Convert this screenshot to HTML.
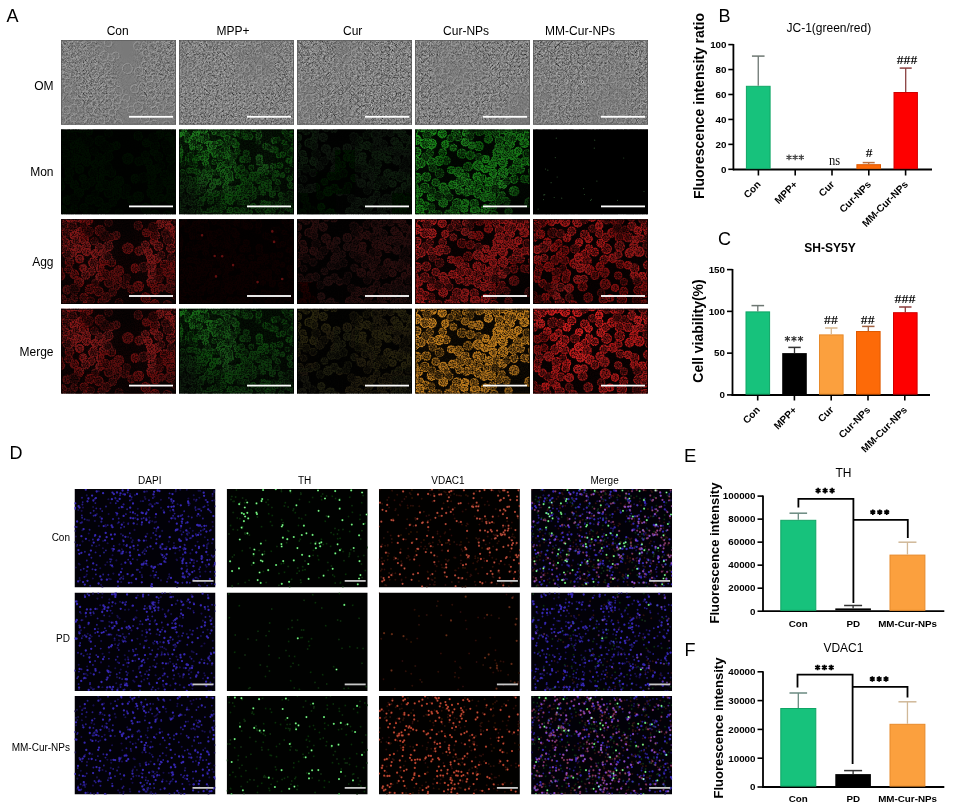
<!DOCTYPE html>
<html><head><meta charset="utf-8"><style>
html,body{margin:0;padding:0;background:#fff;}
svg{display:block;}
svg text{font-family:"Liberation Sans",sans-serif;}
</style></head><body>
<svg width="955" height="811" viewBox="0 0 955 811" font-family="Liberation Sans, sans-serif">
<defs>
<filter id="soft" x="-5%" y="-5%" width="110%" height="110%"><feGaussianBlur stdDeviation="0.7"/></filter>
<filter id="soft2" x="-5%" y="-5%" width="110%" height="110%"><feGaussianBlur stdDeviation="0.45"/></filter>
<filter id="grain" x="0" y="0" width="115" height="85" filterUnits="userSpaceOnUse" color-interpolation-filters="sRGB">
<feGaussianBlur in="SourceGraphic" stdDeviation="0.6" result="b"/>
<feTurbulence type="fractalNoise" baseFrequency="0.45" numOctaves="2" seed="3" result="n"/>
<feColorMatrix in="n" type="matrix" values="0 0 0 0 0  0 0 0 0 0  0 0 0 0 0  3 0 0 0 -1.1" result="na"/>
<feComposite in="b" in2="na" operator="in"/>
</filter>
<filter id="omtex" x="0" y="0" width="115" height="85" filterUnits="userSpaceOnUse" color-interpolation-filters="sRGB">
<feTurbulence type="fractalNoise" baseFrequency="0.55" numOctaves="2" seed="7" result="n"/>
<feColorMatrix in="n" type="matrix" values="1.5 0 0 0 -0.25  1.5 0 0 0 -0.25  1.5 0 0 0 -0.25  0 0 0 0 1" result="g"/>
<feComposite in="g" in2="SourceGraphic" operator="in"/>
<feGaussianBlur stdDeviation="0.35"/>
</filter>
<filter id="bl6" x="-16" y="-16" width="147" height="117" filterUnits="userSpaceOnUse"><feGaussianBlur stdDeviation="6"/></filter><g id="cg00"><circle cx="98.8" cy="5.0" r="3.8"/><circle cx="91.8" cy="55.0" r="4.7"/><circle cx="17.2" cy="29.6" r="3.7"/><circle cx="38.9" cy="57.9" r="3.8"/><circle cx="25.5" cy="32.3" r="4.1"/><circle cx="106.8" cy="52.7" r="4.5"/><circle cx="11.7" cy="33.8" r="3.6"/><circle cx="9.1" cy="-2.3" r="4.9"/><circle cx="-2.5" cy="9.9" r="3.5"/><circle cx="34.5" cy="34.4" r="3.8"/><circle cx="52.0" cy="55.8" r="4.4"/><circle cx="20.0" cy="13.5" r="5.0"/><circle cx="13.3" cy="55.2" r="4.0"/><circle cx="92.9" cy="22.1" r="3.5"/><circle cx="21.4" cy="-0.5" r="3.8"/><circle cx="42.7" cy="41.9" r="4.1"/><circle cx="18.6" cy="39.8" r="3.8"/><circle cx="94.4" cy="70.8" r="3.9"/><circle cx="87.2" cy="32.8" r="3.7"/><circle cx="93.9" cy="85.0" r="4.1"/><circle cx="77.4" cy="67.1" r="4.7"/><circle cx="22.1" cy="48.9" r="3.4"/><circle cx="66.9" cy="29.0" r="5.0"/><circle cx="42.6" cy="33.0" r="4.5"/><circle cx="107.8" cy="7.7" r="3.6"/><circle cx="57.8" cy="51.5" r="4.6"/><circle cx="87.6" cy="86.1" r="4.1"/><circle cx="117.1" cy="41.0" r="3.7"/><circle cx="23.0" cy="19.9" r="4.4"/><circle cx="56.6" cy="60.7" r="3.9"/><circle cx="39.2" cy="49.5" r="3.6"/><circle cx="25.1" cy="87.5" r="4.3"/><circle cx="117.5" cy="24.5" r="4.4"/><circle cx="95.7" cy="39.5" r="3.9"/><circle cx="100.2" cy="68.4" r="3.4"/><circle cx="-0.6" cy="56.6" r="4.1"/><circle cx="90.0" cy="46.5" r="4.7"/><circle cx="18.0" cy="63.2" r="4.4"/><circle cx="74.1" cy="49.2" r="4.0"/><circle cx="89.6" cy="39.2" r="3.8"/><circle cx="113.0" cy="45.5" r="3.6"/><circle cx="27.8" cy="1.4" r="3.7"/><circle cx="-2.3" cy="50.8" r="3.6"/><circle cx="91.0" cy="63.1" r="4.9"/><circle cx="111.1" cy="14.3" r="3.8"/><circle cx="110.8" cy="61.0" r="4.9"/><circle cx="6.1" cy="70.6" r="3.9"/><circle cx="116.8" cy="51.5" r="4.4"/><circle cx="115.0" cy="10.6" r="3.6"/><circle cx="109.4" cy="68.3" r="4.9"/><circle cx="1.1" cy="80.5" r="4.3"/><circle cx="25.7" cy="26.6" r="3.6"/><circle cx="13.1" cy="16.1" r="3.7"/><circle cx="85.4" cy="13.4" r="3.6"/><circle cx="55.2" cy="16.1" r="3.6"/></g><g id="cg01"><circle cx="37.5" cy="72.2" r="4.4"/><circle cx="8.5" cy="42.9" r="4.1"/><circle cx="9.2" cy="25.8" r="4.1"/><circle cx="30.2" cy="52.5" r="3.7"/><circle cx="51.7" cy="72.9" r="3.6"/><circle cx="50.4" cy="43.3" r="4.0"/><circle cx="103.7" cy="45.4" r="4.4"/><circle cx="28.9" cy="70.0" r="4.4"/><circle cx="47.3" cy="27.0" r="4.5"/><circle cx="47.9" cy="63.3" r="4.4"/><circle cx="45.1" cy="78.0" r="4.4"/><circle cx="3.0" cy="23.0" r="4.9"/><circle cx="97.3" cy="59.0" r="4.5"/><circle cx="117.2" cy="17.3" r="4.9"/><circle cx="84.3" cy="25.3" r="3.6"/><circle cx="14.6" cy="21.7" r="3.6"/><circle cx="77.3" cy="6.4" r="4.1"/><circle cx="38.9" cy="11.2" r="4.9"/><circle cx="110.1" cy="29.4" r="4.2"/><circle cx="50.3" cy="18.0" r="3.5"/><circle cx="94.0" cy="16.4" r="4.5"/><circle cx="38.3" cy="27.9" r="3.7"/><circle cx="24.7" cy="56.0" r="3.9"/><circle cx="117.7" cy="1.0" r="4.5"/><circle cx="106.2" cy="-1.4" r="4.7"/><circle cx="78.2" cy="31.9" r="4.1"/><circle cx="15.9" cy="-1.1" r="3.6"/><circle cx="2.4" cy="30.2" r="4.1"/><circle cx="70.6" cy="70.2" r="3.6"/><circle cx="22.9" cy="78.1" r="3.9"/><circle cx="106.4" cy="86.1" r="4.5"/><circle cx="63.6" cy="64.5" r="4.3"/><circle cx="13.0" cy="79.0" r="3.4"/><circle cx="7.7" cy="49.9" r="3.8"/><circle cx="40.8" cy="82.6" r="3.6"/><circle cx="32.2" cy="43.3" r="4.5"/><circle cx="84.7" cy="78.3" r="4.5"/><circle cx="97.4" cy="27.1" r="4.2"/><circle cx="55.5" cy="66.8" r="3.4"/><circle cx="9.0" cy="84.1" r="4.8"/><circle cx="44.3" cy="55.2" r="4.3"/></g><g id="cg02"><circle cx="98.0" cy="52.7" r="3.4"/><circle cx="100.4" cy="35.7" r="3.5"/><circle cx="2.9" cy="6.1" r="3.7"/><circle cx="29.5" cy="81.4" r="3.6"/><circle cx="107.2" cy="20.6" r="4.7"/><circle cx="104.8" cy="14.4" r="4.1"/><circle cx="33.4" cy="21.9" r="3.5"/><circle cx="13.6" cy="69.7" r="5.0"/><circle cx="6.2" cy="35.1" r="4.0"/><circle cx="110.2" cy="38.6" r="3.9"/><circle cx="65.7" cy="58.4" r="3.5"/><circle cx="4.6" cy="14.1" r="3.6"/><circle cx="82.2" cy="47.9" r="4.5"/><circle cx="115.6" cy="75.4" r="4.9"/><circle cx="58.1" cy="83.6" r="3.8"/><circle cx="11.2" cy="7.3" r="4.5"/><circle cx="43.8" cy="16.5" r="4.8"/><circle cx="92.4" cy="8.3" r="4.8"/><circle cx="34.3" cy="63.9" r="3.4"/><circle cx="47.6" cy="3.4" r="3.8"/><circle cx="27.4" cy="12.2" r="4.8"/><circle cx="47.0" cy="37.3" r="3.9"/><circle cx="22.9" cy="6.8" r="3.6"/><circle cx="-0.0" cy="-2.4" r="4.3"/></g><g id="cl0"><use href="#cg00" fill="#a8a8a8" stroke="#ffffff" stroke-width="1.6"/><use href="#cg01" fill="#7a7a7a" stroke="#c8c8c8" stroke-width="1.5"/><use href="#cg02" fill="#525252" stroke="#8c8c8c" stroke-width="1.4"/></g><g id="cga0"><use href="#cg00"/><use href="#cg01"/><use href="#cg02"/></g><filter id="mk0" x="0" y="0" width="115" height="85" filterUnits="userSpaceOnUse" color-interpolation-filters="sRGB"><feGaussianBlur in="SourceGraphic" stdDeviation="0.55" result="s"/><feTurbulence type="fractalNoise" baseFrequency="0.75" numOctaves="1" seed="80" result="t"/><feColorMatrix in="t" type="matrix" values="1.6 0 0 0 -0.3 1.6 0 0 0 -0.3 1.6 0 0 0 -0.3 0 0 0 0 1" result="g"/><feComposite in="s" in2="g" operator="arithmetic" k1="2" k2="0" k3="0" k4="0"/></filter><g id="cg10"><circle cx="15.7" cy="31.3" r="2.3"/><circle cx="49.2" cy="37.5" r="2.2"/><circle cx="51.2" cy="81.1" r="2.8"/><circle cx="51.6" cy="49.3" r="2.6"/><circle cx="60.8" cy="83.2" r="2.5"/><circle cx="57.0" cy="4.3" r="2.2"/><circle cx="26.5" cy="33.3" r="2.4"/><circle cx="36.0" cy="24.4" r="2.9"/><circle cx="89.2" cy="82.7" r="2.7"/><circle cx="-0.4" cy="5.2" r="2.7"/><circle cx="26.0" cy="84.1" r="2.2"/><circle cx="103.5" cy="45.5" r="2.1"/><circle cx="102.3" cy="65.5" r="2.5"/><circle cx="54.6" cy="64.5" r="2.7"/><circle cx="84.3" cy="53.7" r="2.1"/><circle cx="110.6" cy="49.0" r="2.3"/><circle cx="68.4" cy="66.0" r="2.5"/><circle cx="30.2" cy="47.4" r="2.4"/><circle cx="112.1" cy="20.6" r="2.4"/><circle cx="70.6" cy="82.8" r="2.4"/><circle cx="93.4" cy="64.4" r="2.8"/><circle cx="47.5" cy="26.6" r="2.2"/><circle cx="31.7" cy="-2.1" r="2.3"/><circle cx="30.8" cy="61.6" r="2.2"/><circle cx="110.3" cy="78.8" r="2.4"/><circle cx="47.3" cy="52.6" r="2.2"/><circle cx="73.6" cy="45.6" r="2.9"/><circle cx="11.9" cy="55.6" r="2.6"/><circle cx="117.7" cy="41.9" r="2.4"/><circle cx="1.3" cy="25.6" r="2.1"/><circle cx="6.6" cy="50.7" r="2.5"/><circle cx="97.4" cy="77.2" r="2.2"/><circle cx="67.0" cy="7.4" r="2.3"/><circle cx="3.3" cy="57.7" r="2.1"/><circle cx="39.7" cy="52.4" r="2.6"/><circle cx="84.0" cy="73.6" r="2.5"/><circle cx="65.0" cy="50.6" r="2.4"/><circle cx="80.3" cy="28.4" r="2.9"/><circle cx="-2.2" cy="62.6" r="3.0"/><circle cx="38.9" cy="40.4" r="2.0"/><circle cx="100.9" cy="74.9" r="2.9"/><circle cx="26.1" cy="1.4" r="2.1"/><circle cx="114.1" cy="81.4" r="2.5"/><circle cx="109.5" cy="31.0" r="2.1"/><circle cx="86.5" cy="37.7" r="2.4"/><circle cx="10.9" cy="60.5" r="2.9"/><circle cx="89.3" cy="53.3" r="2.9"/><circle cx="53.2" cy="86.0" r="2.7"/><circle cx="35.4" cy="52.6" r="2.8"/><circle cx="46.5" cy="46.6" r="2.1"/><circle cx="63.8" cy="29.8" r="2.9"/><circle cx="89.4" cy="58.5" r="2.9"/><circle cx="3.3" cy="84.0" r="2.9"/><circle cx="2.8" cy="80.8" r="2.2"/><circle cx="21.6" cy="1.2" r="2.2"/><circle cx="68.6" cy="85.8" r="2.4"/><circle cx="16.9" cy="4.7" r="2.9"/><circle cx="48.6" cy="67.3" r="2.9"/><circle cx="20.8" cy="51.2" r="2.4"/><circle cx="13.7" cy="8.5" r="2.0"/><circle cx="97.1" cy="43.8" r="2.7"/><circle cx="89.3" cy="74.8" r="2.6"/><circle cx="74.2" cy="76.4" r="2.3"/><circle cx="-0.1" cy="49.4" r="2.2"/><circle cx="5.1" cy="2.9" r="2.6"/><circle cx="82.2" cy="58.4" r="2.1"/><circle cx="31.1" cy="19.0" r="2.3"/><circle cx="111.9" cy="55.8" r="2.7"/><circle cx="30.5" cy="14.4" r="2.6"/><circle cx="63.8" cy="80.5" r="2.1"/><circle cx="65.1" cy="4.9" r="2.1"/><circle cx="-1.0" cy="77.1" r="2.4"/><circle cx="84.0" cy="63.4" r="2.0"/><circle cx="0.4" cy="64.6" r="2.1"/><circle cx="38.9" cy="86.8" r="2.6"/><circle cx="58.1" cy="85.6" r="2.9"/><circle cx="47.7" cy="71.0" r="2.2"/><circle cx="117.2" cy="7.9" r="2.8"/><circle cx="33.6" cy="56.2" r="2.8"/><circle cx="74.6" cy="-1.4" r="2.9"/><circle cx="10.3" cy="41.0" r="2.3"/><circle cx="113.1" cy="3.8" r="2.4"/><circle cx="81.8" cy="40.9" r="2.8"/><circle cx="51.6" cy="72.1" r="2.5"/><circle cx="65.3" cy="84.6" r="2.1"/><circle cx="25.9" cy="45.9" r="2.3"/><circle cx="38.0" cy="-0.7" r="2.3"/><circle cx="23.5" cy="69.5" r="2.6"/><circle cx="57.9" cy="40.2" r="2.4"/><circle cx="77.4" cy="45.1" r="2.3"/><circle cx="117.9" cy="47.5" r="2.4"/><circle cx="61.2" cy="67.7" r="2.7"/><circle cx="0.8" cy="87.4" r="2.6"/><circle cx="58.6" cy="59.0" r="2.7"/><circle cx="13.4" cy="17.8" r="2.2"/><circle cx="56.9" cy="15.2" r="2.9"/><circle cx="44.1" cy="41.8" r="2.0"/><circle cx="114.3" cy="65.1" r="2.4"/></g><g id="cg11"><circle cx="87.4" cy="42.3" r="2.5"/><circle cx="62.2" cy="0.8" r="2.9"/><circle cx="25.4" cy="42.4" r="2.1"/><circle cx="6.6" cy="82.2" r="2.5"/><circle cx="114.2" cy="85.1" r="2.4"/><circle cx="19.5" cy="84.4" r="2.1"/><circle cx="35.7" cy="1.8" r="2.9"/><circle cx="48.1" cy="8.7" r="2.9"/><circle cx="102.9" cy="71.3" r="2.3"/><circle cx="27.2" cy="50.7" r="2.9"/><circle cx="50.6" cy="44.3" r="3.0"/><circle cx="115.6" cy="74.7" r="2.3"/><circle cx="63.9" cy="73.2" r="2.2"/><circle cx="16.1" cy="55.6" r="2.8"/><circle cx="30.2" cy="87.7" r="2.1"/><circle cx="115.5" cy="15.1" r="2.3"/><circle cx="4.1" cy="73.9" r="2.9"/><circle cx="8.6" cy="10.5" r="2.5"/><circle cx="43.9" cy="4.2" r="2.5"/><circle cx="52.6" cy="29.2" r="2.7"/><circle cx="71.3" cy="50.7" r="2.4"/><circle cx="50.5" cy="23.0" r="2.1"/><circle cx="47.4" cy="61.5" r="3.0"/><circle cx="74.7" cy="66.5" r="2.7"/><circle cx="18.1" cy="73.5" r="3.0"/><circle cx="67.5" cy="73.7" r="2.7"/><circle cx="37.0" cy="64.2" r="2.7"/><circle cx="41.1" cy="35.6" r="2.4"/><circle cx="93.8" cy="82.5" r="2.2"/><circle cx="35.5" cy="87.5" r="2.5"/><circle cx="66.7" cy="62.6" r="2.8"/><circle cx="74.7" cy="59.6" r="2.3"/><circle cx="43.9" cy="76.4" r="2.9"/><circle cx="46.5" cy="57.3" r="2.7"/><circle cx="90.9" cy="78.3" r="2.2"/><circle cx="63.9" cy="47.3" r="2.5"/><circle cx="79.6" cy="6.1" r="2.9"/><circle cx="58.0" cy="-1.6" r="2.7"/><circle cx="80.6" cy="32.7" r="2.9"/><circle cx="18.3" cy="28.3" r="2.4"/><circle cx="30.4" cy="80.8" r="2.2"/><circle cx="31.7" cy="42.8" r="2.8"/><circle cx="40.8" cy="66.0" r="2.2"/><circle cx="71.9" cy="56.0" r="2.2"/><circle cx="113.5" cy="34.4" r="2.2"/><circle cx="54.6" cy="68.7" r="2.4"/><circle cx="62.2" cy="38.1" r="2.8"/><circle cx="101.1" cy="35.8" r="2.5"/><circle cx="22.0" cy="73.2" r="2.8"/><circle cx="48.0" cy="19.2" r="2.4"/><circle cx="21.6" cy="9.4" r="2.6"/><circle cx="-2.6" cy="0.0" r="2.3"/><circle cx="28.6" cy="65.1" r="3.0"/><circle cx="24.9" cy="11.0" r="2.6"/><circle cx="22.2" cy="57.3" r="2.2"/><circle cx="45.0" cy="34.4" r="2.1"/><circle cx="11.8" cy="73.3" r="2.4"/><circle cx="10.3" cy="49.7" r="2.8"/><circle cx="43.8" cy="44.9" r="2.6"/><circle cx="2.2" cy="61.2" r="2.4"/><circle cx="76.2" cy="48.3" r="2.3"/><circle cx="20.2" cy="80.8" r="2.5"/><circle cx="93.1" cy="19.9" r="2.4"/><circle cx="7.9" cy="29.2" r="2.0"/><circle cx="12.6" cy="15.0" r="2.0"/><circle cx="65.4" cy="54.1" r="2.4"/><circle cx="40.5" cy="13.1" r="2.8"/><circle cx="99.6" cy="26.0" r="2.0"/><circle cx="1.5" cy="21.3" r="2.4"/><circle cx="94.9" cy="48.6" r="2.1"/><circle cx="65.6" cy="43.5" r="3.0"/><circle cx="94.2" cy="36.6" r="2.5"/><circle cx="44.8" cy="71.8" r="2.2"/><circle cx="105.3" cy="13.2" r="2.2"/><circle cx="44.7" cy="24.8" r="2.1"/><circle cx="95.0" cy="11.0" r="2.6"/><circle cx="78.7" cy="87.6" r="2.3"/><circle cx="20.1" cy="45.6" r="2.7"/><circle cx="14.3" cy="41.1" r="2.5"/><circle cx="62.8" cy="57.0" r="2.4"/><circle cx="58.8" cy="46.5" r="2.1"/><circle cx="47.8" cy="41.0" r="2.4"/><circle cx="31.7" cy="67.0" r="2.5"/><circle cx="25.1" cy="54.5" r="2.3"/><circle cx="54.2" cy="35.1" r="2.6"/><circle cx="14.5" cy="66.5" r="2.2"/><circle cx="67.4" cy="23.8" r="2.9"/><circle cx="82.4" cy="86.7" r="2.6"/><circle cx="27.1" cy="27.3" r="2.5"/><circle cx="68.7" cy="29.9" r="2.7"/><circle cx="98.8" cy="52.5" r="2.4"/><circle cx="83.0" cy="77.2" r="2.9"/><circle cx="3.5" cy="42.6" r="2.5"/><circle cx="36.5" cy="83.5" r="2.5"/><circle cx="54.7" cy="11.9" r="2.8"/><circle cx="72.2" cy="37.8" r="2.3"/><circle cx="7.3" cy="70.7" r="2.8"/><circle cx="40.7" cy="83.0" r="2.4"/><circle cx="106.8" cy="72.1" r="3.0"/><circle cx="58.6" cy="21.9" r="2.6"/><circle cx="115.9" cy="44.6" r="2.4"/><circle cx="57.5" cy="80.4" r="2.5"/><circle cx="79.5" cy="80.0" r="2.4"/><circle cx="17.3" cy="8.5" r="2.7"/><circle cx="60.9" cy="64.1" r="2.1"/><circle cx="79.4" cy="51.0" r="2.6"/><circle cx="71.6" cy="63.6" r="2.6"/><circle cx="102.3" cy="85.0" r="2.6"/><circle cx="35.2" cy="14.8" r="2.8"/><circle cx="104.1" cy="24.7" r="2.4"/><circle cx="34.0" cy="79.3" r="2.0"/><circle cx="114.8" cy="29.3" r="2.8"/><circle cx="25.1" cy="23.9" r="2.6"/><circle cx="12.9" cy="81.2" r="2.4"/><circle cx="14.7" cy="50.7" r="2.5"/><circle cx="-0.3" cy="30.1" r="2.6"/><circle cx="18.3" cy="42.1" r="2.5"/><circle cx="28.2" cy="22.7" r="2.1"/><circle cx="105.8" cy="78.2" r="2.3"/><circle cx="71.1" cy="7.1" r="2.6"/><circle cx="6.7" cy="-2.2" r="2.3"/><circle cx="105.3" cy="2.2" r="2.2"/><circle cx="96.3" cy="20.2" r="2.6"/><circle cx="7.0" cy="54.0" r="2.6"/><circle cx="51.3" cy="59.8" r="2.5"/><circle cx="86.9" cy="16.8" r="2.9"/><circle cx="117.6" cy="56.9" r="2.8"/><circle cx="23.4" cy="28.4" r="2.0"/><circle cx="20.5" cy="17.8" r="2.5"/><circle cx="19.2" cy="62.3" r="2.6"/><circle cx="31.7" cy="71.5" r="2.8"/><circle cx="34.2" cy="20.7" r="2.9"/></g><g id="cg12"><circle cx="10.9" cy="67.1" r="2.5"/><circle cx="41.6" cy="28.6" r="2.6"/><circle cx="14.3" cy="61.0" r="2.1"/><circle cx="0.1" cy="45.3" r="2.9"/><circle cx="36.9" cy="43.1" r="2.4"/><circle cx="14.8" cy="11.8" r="2.7"/><circle cx="11.5" cy="25.4" r="2.9"/><circle cx="20.7" cy="23.6" r="2.0"/><circle cx="90.4" cy="18.0" r="2.5"/><circle cx="48.7" cy="33.3" r="2.8"/><circle cx="44.5" cy="0.7" r="2.1"/><circle cx="-1.9" cy="24.2" r="2.2"/><circle cx="111.5" cy="24.0" r="3.0"/><circle cx="8.2" cy="6.2" r="2.5"/><circle cx="94.9" cy="73.7" r="2.3"/><circle cx="110.7" cy="64.5" r="2.8"/><circle cx="68.2" cy="57.1" r="2.1"/><circle cx="97.9" cy="59.4" r="2.5"/><circle cx="107.0" cy="66.6" r="2.8"/><circle cx="55.3" cy="26.6" r="2.5"/><circle cx="0.4" cy="17.3" r="2.3"/><circle cx="47.5" cy="-0.8" r="3.0"/><circle cx="11.7" cy="33.2" r="2.7"/><circle cx="79.6" cy="2.0" r="2.4"/><circle cx="54.5" cy="59.7" r="2.4"/><circle cx="39.1" cy="77.0" r="2.9"/><circle cx="35.2" cy="32.3" r="2.3"/><circle cx="-1.6" cy="54.1" r="2.6"/><circle cx="16.3" cy="35.4" r="2.1"/><circle cx="28.9" cy="38.2" r="2.6"/><circle cx="51.5" cy="3.0" r="2.1"/><circle cx="60.1" cy="73.2" r="2.0"/><circle cx="79.7" cy="62.7" r="2.2"/><circle cx="111.5" cy="68.4" r="2.3"/><circle cx="47.9" cy="86.1" r="2.6"/><circle cx="83.2" cy="81.0" r="2.1"/><circle cx="51.1" cy="10.7" r="2.3"/><circle cx="108.0" cy="18.1" r="3.0"/><circle cx="116.8" cy="35.5" r="2.8"/><circle cx="108.0" cy="6.0" r="2.4"/><circle cx="3.9" cy="34.0" r="2.5"/><circle cx="42.9" cy="63.5" r="2.3"/><circle cx="67.4" cy="77.6" r="2.0"/><circle cx="23.9" cy="60.4" r="2.6"/><circle cx="117.8" cy="87.1" r="2.4"/><circle cx="39.0" cy="21.9" r="2.2"/><circle cx="45.7" cy="15.3" r="2.6"/><circle cx="61.6" cy="6.0" r="2.4"/><circle cx="16.5" cy="77.2" r="2.6"/><circle cx="82.8" cy="47.7" r="2.5"/><circle cx="79.2" cy="12.0" r="2.2"/><circle cx="4.2" cy="66.7" r="2.2"/><circle cx="49.1" cy="13.8" r="2.2"/><circle cx="86.5" cy="49.4" r="2.3"/><circle cx="112.1" cy="9.8" r="2.0"/><circle cx="39.8" cy="69.4" r="2.7"/><circle cx="69.2" cy="1.6" r="2.5"/><circle cx="27.3" cy="7.1" r="3.0"/><circle cx="0.6" cy="69.4" r="2.9"/><circle cx="39.5" cy="3.4" r="2.2"/><circle cx="43.3" cy="50.3" r="2.3"/><circle cx="43.5" cy="20.5" r="2.7"/><circle cx="5.0" cy="46.2" r="2.6"/><circle cx="71.4" cy="69.0" r="2.2"/><circle cx="103.2" cy="79.7" r="2.3"/><circle cx="108.6" cy="40.5" r="2.1"/><circle cx="98.8" cy="10.0" r="2.3"/><circle cx="92.9" cy="42.5" r="2.1"/><circle cx="112.4" cy="71.9" r="2.8"/><circle cx="23.8" cy="-1.4" r="2.9"/></g><g id="cl1"><use href="#cg10" fill="#a8a8a8" stroke="#ffffff" stroke-width="1.6"/><use href="#cg11" fill="#7a7a7a" stroke="#c8c8c8" stroke-width="1.5"/><use href="#cg12" fill="#525252" stroke="#8c8c8c" stroke-width="1.4"/></g><g id="cga1"><use href="#cg10"/><use href="#cg11"/><use href="#cg12"/></g><filter id="mk1" x="0" y="0" width="115" height="85" filterUnits="userSpaceOnUse" color-interpolation-filters="sRGB"><feGaussianBlur in="SourceGraphic" stdDeviation="0.55" result="s"/><feTurbulence type="fractalNoise" baseFrequency="0.75" numOctaves="1" seed="81" result="t"/><feColorMatrix in="t" type="matrix" values="1.6 0 0 0 -0.3 1.6 0 0 0 -0.3 1.6 0 0 0 -0.3 0 0 0 0 1" result="g"/><feComposite in="s" in2="g" operator="arithmetic" k1="2" k2="0" k3="0" k4="0"/></filter><g id="cg20"><circle cx="96.6" cy="85.9" r="3.1"/><circle cx="72.5" cy="76.7" r="3.5"/><circle cx="65.6" cy="26.6" r="3.2"/><circle cx="93.5" cy="21.1" r="3.7"/><circle cx="24.2" cy="77.3" r="3.4"/><circle cx="-2.2" cy="-2.4" r="4.0"/><circle cx="99.6" cy="31.3" r="3.5"/><circle cx="16.6" cy="10.3" r="3.2"/><circle cx="17.9" cy="-0.3" r="3.9"/><circle cx="79.3" cy="25.6" r="4.0"/><circle cx="105.1" cy="4.4" r="3.8"/><circle cx="110.4" cy="26.3" r="3.2"/><circle cx="107.6" cy="56.5" r="3.0"/><circle cx="97.7" cy="11.8" r="3.6"/><circle cx="85.6" cy="20.3" r="4.1"/><circle cx="73.6" cy="55.4" r="3.2"/><circle cx="50.0" cy="27.9" r="3.4"/><circle cx="0.4" cy="16.7" r="3.2"/><circle cx="75.9" cy="47.5" r="3.5"/><circle cx="64.3" cy="53.6" r="4.0"/><circle cx="7.2" cy="30.4" r="3.3"/><circle cx="29.0" cy="19.3" r="4.1"/><circle cx="29.0" cy="-1.5" r="3.1"/><circle cx="87.6" cy="86.7" r="4.1"/><circle cx="90.9" cy="29.9" r="3.1"/><circle cx="55.8" cy="28.3" r="3.8"/><circle cx="61.8" cy="83.8" r="4.1"/><circle cx="100.5" cy="0.2" r="3.2"/><circle cx="95.5" cy="53.9" r="3.3"/><circle cx="18.8" cy="5.7" r="3.0"/><circle cx="113.9" cy="52.4" r="3.7"/><circle cx="1.0" cy="7.8" r="3.2"/><circle cx="104.8" cy="43.1" r="3.2"/><circle cx="50.2" cy="18.7" r="4.1"/><circle cx="16.8" cy="31.6" r="3.8"/><circle cx="3.8" cy="-1.4" r="3.0"/><circle cx="6.7" cy="63.6" r="3.4"/><circle cx="84.0" cy="79.5" r="3.3"/><circle cx="104.4" cy="21.0" r="3.6"/><circle cx="75.2" cy="70.3" r="3.4"/><circle cx="101.5" cy="83.8" r="4.1"/><circle cx="52.8" cy="82.0" r="3.9"/><circle cx="36.7" cy="-0.6" r="3.1"/><circle cx="89.8" cy="76.5" r="3.5"/><circle cx="39.6" cy="21.6" r="3.3"/><circle cx="33.3" cy="26.2" r="3.4"/><circle cx="97.6" cy="45.5" r="3.2"/><circle cx="109.0" cy="46.5" r="3.2"/><circle cx="7.7" cy="69.5" r="3.7"/><circle cx="64.8" cy="32.0" r="3.7"/><circle cx="91.0" cy="43.7" r="3.8"/><circle cx="38.1" cy="39.6" r="4.0"/><circle cx="114.5" cy="10.3" r="3.5"/><circle cx="69.7" cy="15.9" r="3.7"/><circle cx="110.7" cy="21.6" r="3.2"/><circle cx="60.4" cy="72.2" r="4.1"/><circle cx="62.1" cy="17.6" r="3.5"/><circle cx="5.1" cy="83.7" r="3.9"/><circle cx="33.7" cy="83.2" r="4.0"/><circle cx="26.2" cy="7.7" r="3.8"/><circle cx="106.2" cy="80.6" r="3.1"/><circle cx="85.3" cy="27.1" r="3.0"/><circle cx="31.1" cy="62.0" r="4.2"/><circle cx="101.3" cy="16.3" r="4.1"/><circle cx="80.5" cy="10.3" r="4.1"/></g><g id="cg21"><circle cx="89.6" cy="68.9" r="4.1"/><circle cx="97.7" cy="72.1" r="4.2"/><circle cx="95.9" cy="78.8" r="3.1"/><circle cx="79.7" cy="65.0" r="3.0"/><circle cx="113.5" cy="17.3" r="3.8"/><circle cx="85.7" cy="3.6" r="3.1"/><circle cx="5.9" cy="24.4" r="3.2"/><circle cx="68.1" cy="44.9" r="3.6"/><circle cx="110.5" cy="84.7" r="3.9"/><circle cx="75.9" cy="18.3" r="3.9"/><circle cx="78.0" cy="4.8" r="3.9"/><circle cx="79.2" cy="41.3" r="3.7"/><circle cx="-1.8" cy="21.6" r="3.7"/><circle cx="26.1" cy="84.6" r="3.3"/><circle cx="11.9" cy="13.5" r="4.0"/><circle cx="37.5" cy="58.8" r="4.0"/><circle cx="17.1" cy="16.3" r="3.6"/><circle cx="13.0" cy="58.9" r="4.0"/><circle cx="86.3" cy="14.4" r="3.6"/><circle cx="38.8" cy="30.8" r="4.0"/><circle cx="34.4" cy="46.4" r="3.9"/><circle cx="42.5" cy="62.8" r="3.0"/><circle cx="9.3" cy="1.5" r="3.4"/><circle cx="58.6" cy="23.5" r="3.6"/><circle cx="80.7" cy="34.7" r="3.7"/><circle cx="84.3" cy="71.7" r="3.1"/><circle cx="108.6" cy="9.3" r="3.9"/><circle cx="100.1" cy="24.1" r="3.4"/><circle cx="93.5" cy="2.8" r="3.8"/><circle cx="97.4" cy="65.1" r="3.3"/><circle cx="27.4" cy="52.2" r="3.1"/><circle cx="-0.7" cy="44.2" r="4.0"/><circle cx="-2.7" cy="27.8" r="3.9"/><circle cx="116.6" cy="41.7" r="3.0"/><circle cx="70.8" cy="82.3" r="3.4"/><circle cx="108.0" cy="74.6" r="3.2"/><circle cx="103.1" cy="48.0" r="3.9"/><circle cx="19.0" cy="57.7" r="3.6"/><circle cx="9.9" cy="76.1" r="3.3"/><circle cx="103.6" cy="68.7" r="4.2"/><circle cx="57.4" cy="48.5" r="3.3"/><circle cx="22.8" cy="36.1" r="4.0"/><circle cx="67.7" cy="72.7" r="3.9"/><circle cx="87.5" cy="49.9" r="3.8"/><circle cx="72.5" cy="40.9" r="3.6"/><circle cx="102.0" cy="62.0" r="3.5"/><circle cx="79.2" cy="57.0" r="3.2"/><circle cx="39.4" cy="87.0" r="3.2"/><circle cx="2.7" cy="58.6" r="3.6"/><circle cx="110.8" cy="70.0" r="3.3"/><circle cx="57.5" cy="76.7" r="3.1"/><circle cx="45.3" cy="35.1" r="3.0"/><circle cx="62.2" cy="10.6" r="3.2"/><circle cx="56.6" cy="34.9" r="3.6"/><circle cx="68.0" cy="37.7" r="3.7"/><circle cx="2.2" cy="36.7" r="3.5"/></g><g id="cg22"><circle cx="6.7" cy="49.3" r="3.1"/><circle cx="9.0" cy="39.2" r="3.9"/><circle cx="86.8" cy="55.8" r="3.6"/><circle cx="51.0" cy="56.4" r="3.4"/><circle cx="106.3" cy="37.2" r="3.6"/><circle cx="23.3" cy="65.9" r="3.7"/><circle cx="81.5" cy="50.1" r="3.0"/><circle cx="16.2" cy="43.1" r="3.5"/><circle cx="109.7" cy="31.8" r="4.1"/><circle cx="70.5" cy="60.8" r="3.8"/><circle cx="58.3" cy="13.9" r="3.5"/><circle cx="78.0" cy="86.1" r="4.1"/><circle cx="110.2" cy="41.5" r="3.3"/><circle cx="72.1" cy="-2.5" r="3.9"/><circle cx="54.7" cy="69.2" r="3.8"/><circle cx="56.9" cy="7.3" r="4.2"/><circle cx="1.2" cy="67.8" r="3.4"/><circle cx="19.2" cy="24.7" r="4.2"/><circle cx="40.6" cy="46.9" r="3.1"/><circle cx="27.0" cy="31.4" r="4.0"/><circle cx="15.5" cy="80.6" r="3.4"/><circle cx="48.9" cy="61.5" r="3.6"/><circle cx="75.6" cy="33.5" r="3.3"/><circle cx="111.8" cy="60.9" r="3.5"/><circle cx="69.5" cy="5.6" r="3.5"/><circle cx="61.4" cy="39.0" r="3.9"/><circle cx="46.4" cy="43.7" r="3.9"/><circle cx="112.7" cy="76.9" r="3.6"/><circle cx="115.1" cy="29.4" r="3.4"/></g><g id="cl2"><use href="#cg20" fill="#a8a8a8" stroke="#ffffff" stroke-width="1.6"/><use href="#cg21" fill="#7a7a7a" stroke="#c8c8c8" stroke-width="1.5"/><use href="#cg22" fill="#525252" stroke="#8c8c8c" stroke-width="1.4"/></g><g id="cga2"><use href="#cg20"/><use href="#cg21"/><use href="#cg22"/></g><filter id="mk2" x="0" y="0" width="115" height="85" filterUnits="userSpaceOnUse" color-interpolation-filters="sRGB"><feGaussianBlur in="SourceGraphic" stdDeviation="0.55" result="s"/><feTurbulence type="fractalNoise" baseFrequency="0.75" numOctaves="1" seed="82" result="t"/><feColorMatrix in="t" type="matrix" values="1.6 0 0 0 -0.3 1.6 0 0 0 -0.3 1.6 0 0 0 -0.3 0 0 0 0 1" result="g"/><feComposite in="s" in2="g" operator="arithmetic" k1="2" k2="0" k3="0" k4="0"/></filter><g id="cg30"><circle cx="27.2" cy="4.1" r="3.9"/><circle cx="16.5" cy="67.2" r="4.0"/><circle cx="78.0" cy="43.0" r="3.7"/><circle cx="69.0" cy="67.5" r="3.9"/><circle cx="1.6" cy="48.1" r="4.5"/><circle cx="16.6" cy="14.1" r="4.4"/><circle cx="7.3" cy="-2.7" r="4.5"/><circle cx="81.5" cy="23.0" r="3.7"/><circle cx="74.1" cy="52.1" r="3.9"/><circle cx="28.2" cy="57.8" r="4.0"/><circle cx="24.2" cy="31.2" r="4.5"/><circle cx="3.5" cy="63.1" r="3.7"/><circle cx="90.4" cy="25.5" r="4.2"/><circle cx="73.3" cy="9.5" r="3.8"/><circle cx="7.5" cy="86.7" r="3.3"/><circle cx="-0.0" cy="75.2" r="4.1"/><circle cx="70.5" cy="79.4" r="4.0"/><circle cx="60.1" cy="81.0" r="4.5"/><circle cx="88.1" cy="33.1" r="4.2"/><circle cx="-0.8" cy="57.5" r="3.8"/><circle cx="87.7" cy="54.9" r="3.9"/><circle cx="57.0" cy="16.0" r="3.3"/><circle cx="70.2" cy="39.4" r="3.3"/><circle cx="99.1" cy="61.6" r="4.5"/><circle cx="37.8" cy="55.2" r="3.7"/><circle cx="1.5" cy="10.3" r="4.3"/><circle cx="93.5" cy="81.9" r="3.3"/><circle cx="43.6" cy="42.2" r="4.6"/><circle cx="103.2" cy="21.5" r="3.5"/><circle cx="63.1" cy="35.8" r="4.5"/><circle cx="115.2" cy="31.1" r="4.5"/><circle cx="28.2" cy="73.2" r="4.2"/><circle cx="50.1" cy="12.5" r="3.5"/><circle cx="62.3" cy="47.1" r="4.1"/><circle cx="51.0" cy="3.3" r="3.3"/><circle cx="94.9" cy="14.1" r="4.3"/><circle cx="49.4" cy="79.1" r="3.3"/><circle cx="76.0" cy="67.0" r="4.2"/><circle cx="73.0" cy="2.1" r="3.9"/><circle cx="40.9" cy="86.0" r="4.0"/><circle cx="70.8" cy="29.6" r="3.3"/><circle cx="63.7" cy="16.5" r="4.2"/><circle cx="105.5" cy="7.3" r="3.4"/><circle cx="98.0" cy="25.3" r="4.5"/><circle cx="-1.1" cy="27.9" r="4.4"/><circle cx="114.2" cy="73.0" r="4.2"/><circle cx="88.1" cy="42.8" r="4.6"/><circle cx="92.9" cy="2.6" r="3.5"/><circle cx="109.4" cy="13.5" r="4.1"/><circle cx="80.8" cy="30.1" r="3.9"/><circle cx="5.0" cy="79.9" r="3.7"/><circle cx="36.2" cy="40.4" r="3.2"/><circle cx="50.3" cy="73.3" r="3.4"/><circle cx="-2.7" cy="83.4" r="3.3"/><circle cx="84.7" cy="17.6" r="4.5"/><circle cx="17.5" cy="1.5" r="3.8"/><circle cx="77.4" cy="34.8" r="3.8"/><circle cx="-0.8" cy="69.1" r="3.4"/><circle cx="30.3" cy="14.7" r="3.4"/></g><g id="cg31"><circle cx="91.7" cy="18.9" r="3.8"/><circle cx="99.6" cy="1.2" r="3.4"/><circle cx="64.5" cy="1.3" r="4.4"/><circle cx="51.7" cy="62.3" r="3.9"/><circle cx="1.8" cy="22.3" r="4.1"/><circle cx="67.6" cy="48.6" r="3.3"/><circle cx="92.2" cy="8.5" r="3.2"/><circle cx="99.0" cy="49.8" r="3.8"/><circle cx="10.8" cy="76.3" r="3.7"/><circle cx="57.2" cy="61.3" r="3.3"/><circle cx="109.2" cy="49.4" r="3.6"/><circle cx="17.6" cy="84.6" r="4.3"/><circle cx="46.8" cy="24.1" r="4.4"/><circle cx="87.6" cy="0.2" r="3.6"/><circle cx="15.8" cy="32.0" r="3.9"/><circle cx="98.4" cy="40.1" r="4.4"/><circle cx="33.0" cy="83.8" r="3.2"/><circle cx="42.4" cy="73.5" r="4.4"/><circle cx="45.6" cy="52.4" r="4.6"/><circle cx="112.5" cy="4.9" r="3.6"/><circle cx="9.8" cy="58.1" r="4.4"/><circle cx="9.9" cy="14.0" r="4.4"/><circle cx="55.4" cy="25.6" r="4.0"/><circle cx="81.5" cy="4.3" r="3.4"/><circle cx="5.6" cy="33.4" r="4.5"/><circle cx="38.3" cy="18.0" r="3.2"/><circle cx="102.8" cy="33.7" r="4.6"/><circle cx="79.1" cy="85.4" r="3.9"/><circle cx="80.7" cy="50.7" r="4.1"/><circle cx="66.3" cy="85.4" r="3.5"/><circle cx="62.8" cy="55.1" r="4.4"/><circle cx="59.1" cy="74.1" r="4.0"/><circle cx="91.4" cy="71.6" r="3.5"/><circle cx="31.3" cy="30.8" r="3.7"/><circle cx="31.4" cy="62.2" r="3.2"/><circle cx="11.3" cy="47.3" r="4.2"/><circle cx="20.7" cy="52.9" r="3.6"/><circle cx="-1.3" cy="1.5" r="4.1"/><circle cx="4.9" cy="72.7" r="3.3"/><circle cx="83.7" cy="70.9" r="3.6"/><circle cx="39.6" cy="79.3" r="4.2"/><circle cx="115.2" cy="49.7" r="4.2"/><circle cx="86.7" cy="65.5" r="3.2"/><circle cx="84.3" cy="10.8" r="3.9"/><circle cx="44.2" cy="61.1" r="3.3"/><circle cx="117.6" cy="41.8" r="3.9"/><circle cx="27.8" cy="22.7" r="3.5"/><circle cx="53.1" cy="37.0" r="4.2"/><circle cx="105.4" cy="39.8" r="3.7"/><circle cx="50.8" cy="46.9" r="3.2"/><circle cx="-0.2" cy="36.9" r="3.6"/><circle cx="54.0" cy="53.5" r="3.7"/><circle cx="112.4" cy="-1.3" r="4.4"/><circle cx="40.9" cy="3.0" r="3.9"/><circle cx="77.4" cy="77.2" r="3.8"/><circle cx="109.1" cy="31.8" r="3.5"/><circle cx="71.8" cy="58.9" r="3.5"/><circle cx="63.0" cy="64.4" r="3.8"/><circle cx="97.8" cy="8.6" r="3.9"/></g><g id="cg32"><circle cx="23.4" cy="84.4" r="3.2"/><circle cx="112.2" cy="24.5" r="4.2"/><circle cx="35.5" cy="8.6" r="3.3"/><circle cx="17.7" cy="38.3" r="3.6"/><circle cx="43.0" cy="8.0" r="3.3"/><circle cx="12.1" cy="5.2" r="4.1"/><circle cx="14.8" cy="23.1" r="3.5"/><circle cx="50.9" cy="87.7" r="3.9"/><circle cx="80.1" cy="59.2" r="4.4"/><circle cx="77.5" cy="-1.7" r="3.6"/><circle cx="16.8" cy="61.3" r="3.6"/><circle cx="16.1" cy="77.8" r="3.6"/><circle cx="23.3" cy="66.3" r="4.4"/><circle cx="54.8" cy="6.9" r="3.8"/><circle cx="117.7" cy="14.7" r="3.2"/><circle cx="91.7" cy="51.2" r="3.4"/><circle cx="104.5" cy="0.5" r="3.3"/><circle cx="63.7" cy="27.5" r="3.5"/><circle cx="10.6" cy="27.4" r="3.8"/><circle cx="34.1" cy="67.5" r="3.9"/><circle cx="24.5" cy="43.6" r="4.2"/><circle cx="57.0" cy="-0.0" r="4.3"/></g><g id="cl3"><use href="#cg30" fill="#a8a8a8" stroke="#ffffff" stroke-width="1.6"/><use href="#cg31" fill="#7a7a7a" stroke="#c8c8c8" stroke-width="1.5"/><use href="#cg32" fill="#525252" stroke="#8c8c8c" stroke-width="1.4"/></g><g id="cga3"><use href="#cg30"/><use href="#cg31"/><use href="#cg32"/></g><filter id="mk3" x="0" y="0" width="115" height="85" filterUnits="userSpaceOnUse" color-interpolation-filters="sRGB"><feGaussianBlur in="SourceGraphic" stdDeviation="0.55" result="s"/><feTurbulence type="fractalNoise" baseFrequency="0.75" numOctaves="1" seed="83" result="t"/><feColorMatrix in="t" type="matrix" values="1.6 0 0 0 -0.3 1.6 0 0 0 -0.3 1.6 0 0 0 -0.3 0 0 0 0 1" result="g"/><feComposite in="s" in2="g" operator="arithmetic" k1="2" k2="0" k3="0" k4="0"/></filter><g id="cg40"><circle cx="27.1" cy="35.5" r="3.5"/><circle cx="44.7" cy="60.4" r="3.8"/><circle cx="88.9" cy="87.7" r="4.7"/><circle cx="33.8" cy="54.1" r="3.6"/><circle cx="66.2" cy="6.4" r="3.5"/><circle cx="67.7" cy="23.9" r="3.6"/><circle cx="112.1" cy="85.1" r="4.1"/><circle cx="12.3" cy="77.9" r="3.3"/><circle cx="109.2" cy="56.9" r="3.3"/><circle cx="36.3" cy="68.9" r="3.9"/><circle cx="106.3" cy="32.5" r="4.6"/><circle cx="66.9" cy="47.5" r="3.8"/><circle cx="46.1" cy="23.3" r="3.4"/><circle cx="-1.4" cy="29.4" r="3.5"/><circle cx="7.5" cy="15.0" r="4.0"/><circle cx="24.1" cy="0.2" r="3.6"/><circle cx="41.5" cy="44.2" r="4.4"/><circle cx="102.7" cy="20.5" r="3.5"/><circle cx="20.6" cy="28.5" r="3.3"/><circle cx="59.1" cy="-2.7" r="4.4"/><circle cx="15.9" cy="47.6" r="4.4"/><circle cx="21.1" cy="66.5" r="4.0"/><circle cx="71.3" cy="53.1" r="4.6"/><circle cx="4.4" cy="30.4" r="3.5"/><circle cx="56.7" cy="50.8" r="4.3"/><circle cx="32.0" cy="2.6" r="4.5"/><circle cx="2.7" cy="-2.9" r="4.2"/><circle cx="78.9" cy="13.7" r="4.1"/><circle cx="70.2" cy="80.3" r="3.9"/><circle cx="47.6" cy="49.0" r="3.9"/><circle cx="96.5" cy="33.8" r="4.1"/><circle cx="81.0" cy="0.8" r="3.7"/><circle cx="4.3" cy="40.6" r="3.9"/><circle cx="33.9" cy="18.7" r="3.6"/><circle cx="44.7" cy="2.7" r="4.7"/><circle cx="81.9" cy="68.7" r="3.4"/><circle cx="18.5" cy="2.8" r="3.4"/><circle cx="116.1" cy="12.4" r="4.6"/><circle cx="55.6" cy="19.8" r="3.4"/><circle cx="23.2" cy="59.3" r="3.3"/><circle cx="45.4" cy="38.0" r="3.7"/><circle cx="101.2" cy="56.0" r="3.6"/><circle cx="72.2" cy="64.9" r="4.7"/><circle cx="95.1" cy="46.0" r="3.5"/><circle cx="14.3" cy="22.6" r="3.6"/><circle cx="23.5" cy="77.1" r="3.3"/><circle cx="77.1" cy="78.9" r="3.3"/><circle cx="3.4" cy="59.2" r="3.5"/><circle cx="101.0" cy="26.5" r="3.8"/><circle cx="79.9" cy="39.1" r="4.1"/><circle cx="104.6" cy="11.3" r="3.5"/><circle cx="112.3" cy="68.4" r="4.3"/></g><g id="cg41"><circle cx="73.6" cy="29.6" r="4.7"/><circle cx="23.6" cy="53.3" r="4.3"/><circle cx="38.8" cy="11.9" r="3.9"/><circle cx="90.7" cy="72.3" r="3.9"/><circle cx="31.6" cy="31.3" r="4.3"/><circle cx="52.2" cy="34.7" r="4.0"/><circle cx="101.6" cy="49.3" r="4.2"/><circle cx="95.1" cy="17.9" r="4.5"/><circle cx="31.7" cy="41.2" r="4.0"/><circle cx="55.9" cy="28.8" r="3.3"/><circle cx="25.6" cy="23.9" r="3.4"/><circle cx="55.2" cy="78.5" r="4.4"/><circle cx="49.5" cy="67.4" r="4.3"/><circle cx="88.8" cy="80.2" r="4.5"/><circle cx="6.4" cy="48.4" r="3.8"/><circle cx="53.5" cy="41.6" r="4.7"/><circle cx="10.9" cy="28.2" r="4.7"/><circle cx="85.2" cy="35.2" r="3.6"/><circle cx="107.7" cy="19.0" r="3.3"/><circle cx="86.6" cy="18.2" r="4.4"/><circle cx="32.7" cy="59.6" r="3.7"/><circle cx="9.5" cy="64.1" r="3.6"/><circle cx="9.1" cy="3.6" r="4.2"/><circle cx="51.7" cy="15.3" r="4.1"/><circle cx="118.0" cy="53.3" r="4.3"/><circle cx="87.2" cy="45.1" r="3.8"/><circle cx="86.7" cy="27.1" r="4.6"/><circle cx="3.2" cy="7.4" r="4.4"/><circle cx="61.5" cy="32.8" r="3.7"/><circle cx="98.8" cy="7.0" r="4.0"/><circle cx="111.7" cy="7.3" r="3.5"/><circle cx="22.0" cy="40.8" r="4.5"/><circle cx="72.7" cy="18.1" r="4.0"/><circle cx="0.8" cy="18.5" r="3.6"/><circle cx="15.9" cy="-2.8" r="3.9"/><circle cx="114.6" cy="45.8" r="3.8"/><circle cx="67.5" cy="-1.1" r="3.3"/><circle cx="40.1" cy="85.9" r="4.2"/><circle cx="27.6" cy="68.0" r="3.9"/><circle cx="113.6" cy="62.0" r="3.3"/><circle cx="104.9" cy="70.9" r="3.9"/><circle cx="71.2" cy="40.4" r="4.0"/><circle cx="85.2" cy="56.4" r="3.5"/><circle cx="11.3" cy="38.9" r="3.5"/><circle cx="-2.4" cy="41.4" r="4.3"/><circle cx="26.7" cy="83.0" r="4.5"/><circle cx="4.5" cy="53.8" r="3.7"/><circle cx="62.0" cy="56.2" r="3.9"/><circle cx="111.8" cy="74.5" r="3.6"/><circle cx="51.0" cy="59.8" r="3.5"/><circle cx="19.4" cy="73.4" r="3.8"/><circle cx="86.8" cy="0.9" r="3.9"/><circle cx="66.4" cy="14.2" r="3.8"/></g><g id="cg42"><circle cx="36.2" cy="78.4" r="3.8"/><circle cx="42.1" cy="29.6" r="4.3"/><circle cx="104.2" cy="61.8" r="4.1"/><circle cx="74.0" cy="0.9" r="3.7"/><circle cx="-2.3" cy="84.5" r="3.8"/><circle cx="104.1" cy="81.0" r="4.6"/><circle cx="51.0" cy="0.1" r="4.2"/><circle cx="19.7" cy="13.6" r="4.7"/><circle cx="98.5" cy="-1.9" r="3.9"/><circle cx="114.4" cy="25.3" r="4.4"/><circle cx="116.7" cy="3.4" r="4.8"/><circle cx="59.4" cy="9.4" r="3.5"/><circle cx="110.0" cy="-0.3" r="4.4"/><circle cx="30.0" cy="49.4" r="3.4"/><circle cx="91.0" cy="62.6" r="3.4"/><circle cx="0.4" cy="76.1" r="3.4"/><circle cx="114.2" cy="18.6" r="3.9"/><circle cx="27.3" cy="14.5" r="4.0"/><circle cx="14.7" cy="67.8" r="3.9"/><circle cx="14.4" cy="84.5" r="3.5"/><circle cx="116.4" cy="34.7" r="4.1"/><circle cx="84.4" cy="8.8" r="4.3"/><circle cx="91.9" cy="10.5" r="3.5"/><circle cx="68.1" cy="73.5" r="3.6"/><circle cx="5.3" cy="80.2" r="3.9"/></g><g id="cl4"><use href="#cg40" fill="#a8a8a8" stroke="#ffffff" stroke-width="1.6"/><use href="#cg41" fill="#7a7a7a" stroke="#c8c8c8" stroke-width="1.5"/><use href="#cg42" fill="#525252" stroke="#8c8c8c" stroke-width="1.4"/></g><g id="cga4"><use href="#cg40"/><use href="#cg41"/><use href="#cg42"/></g><filter id="mk4" x="0" y="0" width="115" height="85" filterUnits="userSpaceOnUse" color-interpolation-filters="sRGB"><feGaussianBlur in="SourceGraphic" stdDeviation="0.55" result="s"/><feTurbulence type="fractalNoise" baseFrequency="0.75" numOctaves="1" seed="84" result="t"/><feColorMatrix in="t" type="matrix" values="1.6 0 0 0 -0.3 1.6 0 0 0 -0.3 1.6 0 0 0 -0.3 0 0 0 0 1" result="g"/><feComposite in="s" in2="g" operator="arithmetic" k1="2" k2="0" k3="0" k4="0"/></filter><filter id="om0" x="-16" y="-16" width="147" height="117" filterUnits="userSpaceOnUse" color-interpolation-filters="sRGB"><feGaussianBlur in="SourceGraphic" stdDeviation="5.0" result="A"/><feTurbulence type="turbulence" baseFrequency="0.13" numOctaves="2" seed="20" result="n0"/><feColorMatrix in="n0" type="matrix" values="1 0 0 0 0 1 0 0 0 0 1 0 0 0 0 0 0 0 0 1" result="n"/><feConvolveMatrix in="n" order="3" kernelMatrix="0 -1 0 -1 4 -1 0 -1 0" divisor="1.4" bias="0.5" preserveAlpha="true" result="e0"/><feTurbulence type="fractalNoise" baseFrequency="0.9" numOctaves="1" seed="29" result="f1"/><feColorMatrix in="f1" type="matrix" values="1 0 0 0 0 1 0 0 0 0 1 0 0 0 0 0 0 0 0 1" result="f0"/><feComposite in="e0" in2="f0" operator="arithmetic" k1="0" k2="0.7" k3="0.8" k4="-0.25" result="e"/><feComposite in="e" in2="A" operator="arithmetic" k1="0.85" k2="0" k3="-0.425" k4="0.475"/><feComponentTransfer><feFuncR type="linear" slope="0.9000"/><feFuncG type="linear" slope="0.9000"/><feFuncB type="linear" slope="0.9000"/><feFuncA type="linear" slope="0" intercept="1"/></feComponentTransfer></filter><filter id="om1" x="-16" y="-16" width="147" height="117" filterUnits="userSpaceOnUse" color-interpolation-filters="sRGB"><feGaussianBlur in="SourceGraphic" stdDeviation="5.0" result="A"/><feTurbulence type="turbulence" baseFrequency="0.13" numOctaves="2" seed="21" result="n0"/><feColorMatrix in="n0" type="matrix" values="1 0 0 0 0 1 0 0 0 0 1 0 0 0 0 0 0 0 0 1" result="n"/><feConvolveMatrix in="n" order="3" kernelMatrix="0 -1 0 -1 4 -1 0 -1 0" divisor="1.4" bias="0.5" preserveAlpha="true" result="e0"/><feTurbulence type="fractalNoise" baseFrequency="0.9" numOctaves="1" seed="30" result="f1"/><feColorMatrix in="f1" type="matrix" values="1 0 0 0 0 1 0 0 0 0 1 0 0 0 0 0 0 0 0 1" result="f0"/><feComposite in="e0" in2="f0" operator="arithmetic" k1="0" k2="0.7" k3="0.8" k4="-0.25" result="e"/><feComposite in="e" in2="A" operator="arithmetic" k1="0.85" k2="0" k3="-0.425" k4="0.475"/><feComponentTransfer><feFuncR type="linear" slope="0.9000"/><feFuncG type="linear" slope="0.9000"/><feFuncB type="linear" slope="0.9000"/><feFuncA type="linear" slope="0" intercept="1"/></feComponentTransfer></filter><filter id="om2" x="-16" y="-16" width="147" height="117" filterUnits="userSpaceOnUse" color-interpolation-filters="sRGB"><feGaussianBlur in="SourceGraphic" stdDeviation="5.0" result="A"/><feTurbulence type="turbulence" baseFrequency="0.13" numOctaves="2" seed="22" result="n0"/><feColorMatrix in="n0" type="matrix" values="1 0 0 0 0 1 0 0 0 0 1 0 0 0 0 0 0 0 0 1" result="n"/><feConvolveMatrix in="n" order="3" kernelMatrix="0 -1 0 -1 4 -1 0 -1 0" divisor="1.4" bias="0.5" preserveAlpha="true" result="e0"/><feTurbulence type="fractalNoise" baseFrequency="0.9" numOctaves="1" seed="31" result="f1"/><feColorMatrix in="f1" type="matrix" values="1 0 0 0 0 1 0 0 0 0 1 0 0 0 0 0 0 0 0 1" result="f0"/><feComposite in="e0" in2="f0" operator="arithmetic" k1="0" k2="0.7" k3="0.8" k4="-0.25" result="e"/><feComposite in="e" in2="A" operator="arithmetic" k1="0.85" k2="0" k3="-0.425" k4="0.475"/><feComponentTransfer><feFuncR type="linear" slope="0.9000"/><feFuncG type="linear" slope="0.9000"/><feFuncB type="linear" slope="0.9000"/><feFuncA type="linear" slope="0" intercept="1"/></feComponentTransfer></filter><filter id="om3" x="-16" y="-16" width="147" height="117" filterUnits="userSpaceOnUse" color-interpolation-filters="sRGB"><feGaussianBlur in="SourceGraphic" stdDeviation="5.0" result="A"/><feTurbulence type="turbulence" baseFrequency="0.13" numOctaves="2" seed="23" result="n0"/><feColorMatrix in="n0" type="matrix" values="1 0 0 0 0 1 0 0 0 0 1 0 0 0 0 0 0 0 0 1" result="n"/><feConvolveMatrix in="n" order="3" kernelMatrix="0 -1 0 -1 4 -1 0 -1 0" divisor="1.4" bias="0.5" preserveAlpha="true" result="e0"/><feTurbulence type="fractalNoise" baseFrequency="0.9" numOctaves="1" seed="32" result="f1"/><feColorMatrix in="f1" type="matrix" values="1 0 0 0 0 1 0 0 0 0 1 0 0 0 0 0 0 0 0 1" result="f0"/><feComposite in="e0" in2="f0" operator="arithmetic" k1="0" k2="0.7" k3="0.8" k4="-0.25" result="e"/><feComposite in="e" in2="A" operator="arithmetic" k1="0.85" k2="0" k3="-0.425" k4="0.475"/><feComponentTransfer><feFuncR type="linear" slope="0.9000"/><feFuncG type="linear" slope="0.9000"/><feFuncB type="linear" slope="0.9000"/><feFuncA type="linear" slope="0" intercept="1"/></feComponentTransfer></filter><filter id="om4" x="-16" y="-16" width="147" height="117" filterUnits="userSpaceOnUse" color-interpolation-filters="sRGB"><feGaussianBlur in="SourceGraphic" stdDeviation="5.0" result="A"/><feTurbulence type="turbulence" baseFrequency="0.13" numOctaves="2" seed="24" result="n0"/><feColorMatrix in="n0" type="matrix" values="1 0 0 0 0 1 0 0 0 0 1 0 0 0 0 0 0 0 0 1" result="n"/><feConvolveMatrix in="n" order="3" kernelMatrix="0 -1 0 -1 4 -1 0 -1 0" divisor="1.4" bias="0.5" preserveAlpha="true" result="e0"/><feTurbulence type="fractalNoise" baseFrequency="0.9" numOctaves="1" seed="33" result="f1"/><feColorMatrix in="f1" type="matrix" values="1 0 0 0 0 1 0 0 0 0 1 0 0 0 0 0 0 0 0 1" result="f0"/><feComposite in="e0" in2="f0" operator="arithmetic" k1="0" k2="0.7" k3="0.8" k4="-0.25" result="e"/><feComposite in="e" in2="A" operator="arithmetic" k1="0.85" k2="0" k3="-0.425" k4="0.475"/><feComponentTransfer><feFuncR type="linear" slope="0.9000"/><feFuncG type="linear" slope="0.9000"/><feFuncB type="linear" slope="0.9000"/><feFuncA type="linear" slope="0" intercept="1"/></feComponentTransfer></filter><filter id="dsoft" x="-10" y="-10" width="161" height="119" filterUnits="userSpaceOnUse"><feGaussianBlur stdDeviation="0.5"/></filter><path id="dd0" d="M84.6 1.4h0M36.0 14.0h0M138.0 33.0h0M94.8 85.4h0M115.6 39.2h0M113.1 46.0h0M92.2 57.9h0M131.0 11.0h0M62.6 35.3h0M66.2 12.3h0M31.0 36.1h0M133.1 65.7h0M51.8 63.3h0M3.8 21.0h0M46.8 63.1h0M7.9 41.3h0M99.4 54.1h0M57.0 10.4h0M80.2 33.4h0M86.5 18.8h0M53.9 34.0h0M139.0 77.1h0M33.9 10.2h0M70.9 9.9h0M110.3 56.3h0M5.1 89.0h0M60.3 6.1h0M75.8 14.7h0M133.5 16.2h0M30.9 75.9h0M81.7 32.7h0M5.2 75.5h0M43.9 61.8h0M85.8 46.9h0M119.2 6.2h0M113.9 9.5h0M74.9 28.6h0M28.4 59.3h0M100.8 64.3h0M79.3 77.8h0M72.9 76.2h0M115.3 14.8h0M125.4 83.1h0M87.7 41.9h0M70.5 60.2h0M69.2 61.9h0M102.5 71.2h0M38.4 30.3h0M103.7 40.4h0M60.0 40.9h0M1.5 47.5h0M119.4 71.4h0M49.0 15.3h0M80.2 15.0h0M116.4 49.3h0M46.7 93.0h0M43.3 62.0h0M24.8 56.3h0M132.3 57.3h0M43.6 96.8h0M83.6 75.7h0M98.4 29.1h0M106.3 38.7h0M139.6 3.0h0M49.2 33.5h0M48.8 87.4h0M86.7 65.0h0M125.4 26.6h0M49.3 55.7h0M5.4 91.3h0M48.6 50.8h0M1.4 78.5h0M27.9 98.0h0M101.1 2.5h0M67.3 86.1h0M43.1 92.8h0M59.5 59.8h0M106.0 41.7h0M133.9 54.4h0M79.9 7.8h0M67.2 78.8h0M103.1 15.3h0M71.7 51.5h0M43.2 34.3h0M122.6 26.9h0M76.1 86.5h0M94.6 87.8h0M95.7 21.6h0M105.1 61.4h0M140.9 60.9h0M100.3 29.1h0M69.6 73.0h0M4.3 74.8h0M47.4 60.3h0M46.9 75.3h0M111.2 64.0h0M81.8 42.1h0M103.4 59.0h0M118.3 41.7h0M25.8 79.3h0M112.3 0.8h0M28.7 52.0h0M11.2 87.5h0M1.2 14.2h0M106.1 68.8h0M0.7 53.3h0M123.1 52.8h0M12.3 85.6h0M138.0 7.1h0M139.8 11.4h0M74.7 15.7h0M31.4 37.4h0M8.1 52.4h0M122.3 88.6h0M8.5 18.6h0M75.4 31.8h0M130.9 82.5h0M138.4 37.5h0M24.3 2.3h0M86.4 10.7h0M32.8 73.3h0M81.0 28.3h0M46.5 45.0h0M124.0 1.8h0M128.6 41.1h0M109.8 86.9h0M38.3 77.7h0M2.3 57.3h0M137.5 54.3h0M7.1 21.9h0M70.2 8.0h0M21.9 57.2h0M116.0 70.0h0M72.8 44.8h0M99.7 57.1h0M7.1 34.0h0M42.2 26.3h0M94.2 52.6h0M125.7 1.8h0M89.0 21.4h0M41.2 9.6h0M76.7 15.6h0M14.7 51.5h0M99.2 22.0h0M116.8 48.8h0M76.6 48.9h0M26.6 95.9h0M25.6 28.0h0M130.5 93.7h0M18.6 18.0h0M33.1 54.2h0M34.7 89.7h0M20.3 32.0h0M78.4 59.7h0M38.0 66.2h0M72.4 2.4h0M63.3 19.7h0M38.9 84.6h0M130.3 48.3h0M124.9 8.8h0M45.0 55.4h0M22.3 25.1h0M115.9 64.4h0M121.4 12.0h0M93.3 89.8h0M85.9 56.4h0M119.5 10.6h0M12.7 31.1h0M24.3 37.0h0M124.7 43.8h0M102.5 98.2h0M14.5 31.4h0M56.4 49.0h0M102.1 70.5h0M125.8 97.1h0M132.6 55.5h0M111.1 49.1h0M79.5 86.6h0M131.1 76.0h0M106.2 26.6h0M86.5 91.4h0M37.2 59.7h0M112.2 77.0h0M123.7 89.7h0M77.8 32.2h0M120.8 19.5h0M53.7 48.0h0M139.8 1.7h0M60.8 29.0h0M94.1 17.8h0M119.5 73.9h0M62.8 70.7h0M12.3 6.4h0M36.2 90.2h0M139.5 76.1h0M57.2 93.8h0M108.6 59.5h0M55.8 5.0h0M113.0 42.5h0M41.9 71.4h0M14.2 44.5h0M57.3 53.1h0M94.6 32.6h0M105.7 0.7h0M0.8 41.9h0M57.8 53.2h0M18.4 89.5h0M26.9 33.1h0M58.2 51.3h0M79.8 88.5h0M114.6 43.9h0M110.4 64.1h0M34.1 25.0h0M132.1 77.7h0"/><path id="db0" d="M112.4 93.5h0M81.5 25.2h0M106.6 37.0h0M113.0 33.4h0M80.5 78.0h0M2.6 32.5h0M56.1 29.0h0M129.6 6.8h0M63.2 30.3h0M18.9 11.5h0M125.5 36.5h0M129.9 36.8h0M47.3 18.0h0M11.3 0.7h0M108.2 87.7h0M132.8 71.1h0M124.4 59.1h0M67.3 93.3h0M77.9 17.4h0M80.9 86.1h0M106.3 51.9h0M103.8 27.3h0M95.5 60.0h0M8.6 93.1h0M118.9 77.2h0M37.5 76.7h0M50.4 5.5h0M127.1 69.8h0M36.5 45.7h0M25.8 87.4h0M46.4 83.2h0M59.1 57.0h0M38.0 3.6h0M4.1 17.2h0M55.5 7.2h0M67.2 23.7h0M38.0 38.2h0M40.3 45.4h0M81.7 54.4h0M0.6 14.3h0M11.4 49.8h0M67.5 33.3h0M58.5 14.5h0M52.1 56.8h0M118.3 47.0h0M98.0 5.1h0M104.7 50.5h0M77.0 77.5h0M102.3 34.7h0M54.4 93.8h0M101.1 92.9h0M69.1 74.7h0M87.8 55.2h0M87.8 66.1h0M49.1 26.9h0M117.2 71.0h0M50.9 47.8h0M134.4 75.4h0M135.4 90.0h0M30.6 51.3h0M122.9 92.1h0M138.9 27.1h0M47.9 64.3h0M37.4 10.2h0M71.7 74.6h0M69.4 51.7h0M62.5 4.9h0M96.5 88.9h0M123.6 45.9h0M53.1 85.1h0M28.6 4.2h0M124.0 36.5h0M47.3 35.7h0M24.1 94.5h0M77.3 95.2h0M55.7 58.4h0M83.1 1.5h0M99.1 12.1h0M124.5 57.8h0M107.2 79.7h0M21.4 9.1h0M79.1 79.0h0M4.8 64.8h0M32.1 48.2h0M58.5 23.5h0M129.3 56.7h0M39.4 5.1h0M115.1 85.5h0M13.0 12.3h0M89.6 23.5h0M111.8 74.2h0M85.0 2.1h0M107.3 32.6h0M71.6 24.7h0M46.0 4.3h0M71.9 31.0h0M138.4 50.3h0M107.9 72.0h0M48.1 1.5h0M48.5 62.6h0M67.3 75.5h0M3.9 61.1h0M31.2 43.9h0M127.8 73.1h0M77.5 97.7h0M20.9 26.3h0M16.4 61.6h0M108.4 84.5h0M14.7 65.7h0M113.6 12.5h0M140.6 75.4h0M133.7 20.3h0M74.0 20.8h0M64.5 66.0h0M71.3 47.6h0M110.0 88.5h0M42.5 3.5h0M53.6 1.2h0M43.5 92.7h0M42.7 24.6h0M131.8 63.0h0M58.2 85.8h0M127.2 67.2h0M105.6 57.9h0M20.7 46.2h0M64.2 51.2h0M106.3 16.3h0M141.0 86.7h0M50.8 73.7h0M97.0 17.8h0M110.7 63.5h0M96.8 10.4h0M101.2 59.2h0M10.3 95.6h0M89.9 72.5h0M61.6 90.0h0M123.7 25.1h0M118.9 90.7h0M59.2 34.4h0M129.2 3.7h0M13.0 91.8h0M92.2 65.3h0M39.3 60.2h0M23.4 51.0h0M13.9 9.5h0M0.1 37.8h0M96.9 29.3h0M103.2 93.9h0M91.2 69.4h0M29.2 37.1h0M6.9 47.2h0M105.0 51.5h0M13.1 77.9h0M74.7 33.5h0M108.0 74.2h0M79.0 5.4h0M85.2 47.6h0M24.0 50.5h0M111.8 41.4h0M133.0 13.1h0M25.3 47.7h0M93.7 17.8h0M140.8 82.9h0M37.1 36.5h0M79.6 2.8h0M108.7 70.6h0M37.7 49.9h0M98.6 20.8h0M110.9 60.0h0M99.0 58.9h0M83.6 38.4h0M19.2 53.6h0M99.3 17.4h0M49.0 52.1h0M55.7 66.6h0M9.1 40.1h0M56.4 74.6h0M55.7 18.7h0M140.6 74.0h0M68.3 24.1h0M18.7 74.4h0M102.6 40.7h0M91.4 59.8h0M117.8 83.1h0M101.5 41.0h0M32.4 90.7h0M108.0 30.0h0M27.3 29.7h0M3.6 92.4h0M95.2 48.2h0M55.4 63.5h0M22.2 2.5h0M112.2 50.7h0M72.0 71.8h0M140.9 95.3h0M21.0 80.8h0M45.2 9.9h0M122.7 36.0h0M121.8 63.5h0M86.6 75.2h0M0.6 19.0h0M44.6 85.7h0M131.9 42.6h0M17.6 6.6h0M44.7 61.6h0M5.0 18.6h0M113.9 13.9h0M27.0 90.7h0M85.9 58.6h0M58.7 29.3h0M112.2 82.5h0M6.9 63.8h0M76.0 57.3h0"/><path id="ds0" d="M44.5 18.8h0M20.9 14.1h0M9.2 79.8h0M135.8 82.7h0M31.4 61.4h0M76.4 97.0h0M51.4 25.1h0M100.8 29.8h0M12.3 71.5h0M112.8 80.4h0M121.3 21.1h0M52.6 20.3h0M137.2 94.6h0M87.5 60.3h0M136.5 23.3h0M72.9 58.2h0M7.5 33.1h0M45.5 6.3h0M16.9 68.8h0M0.7 20.0h0M20.2 47.1h0M119.9 81.9h0M138.1 5.0h0M82.0 39.8h0M58.3 70.1h0M45.4 89.9h0M22.1 76.0h0M7.9 15.5h0M40.8 9.0h0M64.5 51.8h0M127.0 68.8h0M67.1 35.7h0M81.0 45.9h0M68.5 12.1h0M44.3 33.2h0M29.5 63.5h0M57.2 8.1h0M78.6 82.0h0M2.2 38.0h0M139.9 66.6h0M135.2 70.7h0M63.4 80.8h0M114.0 27.4h0M17.5 56.5h0M72.2 23.2h0M43.5 97.6h0M135.3 41.7h0M53.1 3.5h0M132.4 59.2h0M115.6 73.7h0M63.0 26.3h0M127.9 68.4h0M124.7 80.2h0M55.7 72.9h0M78.8 44.0h0M111.3 34.1h0M71.2 25.0h0M19.2 21.8h0M44.2 29.5h0M18.4 50.5h0M131.5 11.0h0M108.9 69.5h0M86.0 57.2h0M63.4 61.0h0M131.8 36.8h0M36.9 70.5h0M21.8 19.4h0M38.2 59.6h0M48.8 5.3h0M126.3 41.7h0M53.7 34.9h0M46.8 88.6h0M52.4 55.6h0M140.8 17.3h0M46.4 38.8h0M56.7 93.6h0M136.3 41.0h0M120.9 18.1h0M85.3 75.0h0M122.0 10.8h0M107.2 45.5h0M7.6 28.7h0M68.5 75.9h0M55.8 23.1h0M138.6 67.9h0M96.9 12.1h0M121.0 56.8h0M67.1 29.8h0M20.4 9.7h0M25.9 19.7h0M135.2 21.6h0M70.2 2.7h0M12.4 82.0h0M36.1 75.9h0M67.2 35.3h0M63.3 56.2h0M42.6 11.7h0M126.7 21.8h0M125.7 78.2h0M95.1 4.4h0M125.7 87.2h0M132.7 96.6h0M122.0 46.5h0M107.9 93.8h0M94.4 8.9h0M47.5 79.7h0M101.4 0.6h0M57.0 86.9h0M81.8 83.1h0M25.6 66.7h0M9.7 88.0h0M15.1 40.8h0M137.2 66.5h0M98.1 13.9h0M8.2 13.1h0M115.3 93.7h0M38.5 61.8h0M81.5 46.2h0M125.2 20.1h0M70.1 64.9h0M7.3 26.4h0M21.1 63.4h0M109.9 59.0h0M68.0 63.5h0M48.4 46.5h0M88.7 68.2h0M67.6 88.1h0M49.1 15.4h0M114.0 84.5h0M112.5 44.9h0M16.1 24.0h0M41.5 23.6h0M48.3 18.2h0M33.9 85.7h0M6.1 33.9h0M65.2 51.6h0M113.3 87.7h0M6.3 80.9h0M65.5 66.3h0M26.9 32.4h0M5.6 56.2h0M108.9 43.1h0M129.9 40.0h0M117.3 28.5h0M71.7 62.0h0M35.9 72.7h0M71.8 29.5h0M127.1 37.6h0M137.7 11.6h0M33.2 36.1h0M41.3 14.3h0M21.4 85.4h0M46.7 64.8h0M107.8 25.9h0M115.6 49.3h0M128.8 18.1h0M35.5 70.1h0M117.8 60.7h0M15.7 96.8h0M91.2 73.1h0M98.6 26.8h0M10.1 30.2h0M130.1 17.5h0M82.1 50.3h0M90.0 67.1h0M18.0 80.2h0M121.3 45.1h0M79.9 39.1h0M121.1 88.6h0M69.2 29.0h0M100.1 24.6h0M65.4 83.1h0M106.3 27.0h0M27.7 22.1h0M133.2 50.9h0M110.1 55.8h0M55.4 11.4h0M2.9 55.9h0M124.4 96.1h0M109.7 22.3h0M109.3 60.5h0M7.5 8.7h0M128.4 29.5h0M39.3 56.9h0M43.5 12.2h0M108.4 65.4h0M28.7 85.5h0M90.0 59.8h0M122.5 72.1h0M126.3 45.5h0M78.4 9.0h0M49.7 37.8h0M53.6 0.9h0M31.5 17.5h0M92.5 92.8h0M83.4 14.2h0M82.0 13.9h0M55.3 44.2h0M101.0 41.8h0M114.2 16.2h0M19.1 26.8h0M107.6 34.3h0M38.6 30.0h0M62.6 5.3h0M60.7 24.6h0M83.7 89.0h0M53.7 70.6h0M74.5 11.2h0M48.8 89.8h0M10.4 62.8h0M69.6 2.8h0M123.7 20.1h0M62.3 80.7h0"/><path id="th0" d="M41.5 81.2h0M17.2 32.2h0M60.6 50.2h0M132.4 46.3h0M101.8 27.6h0M110.9 55.3h0M18.1 18.5h0M112.8 11.0h0M35.8 72.3h0M12.3 79.4h0M75.1 46.0h0M94.6 53.3h0M56.2 48.7h0M113.0 19.7h0M135.4 3.5h0M93.5 57.3h0M106.0 79.8h0M5.4 82.1h0M82.7 67.2h0M133.7 86.1h0M77.2 36.7h0M81.9 89.9h0M132.4 89.5h0M55.1 37.5h0M20.6 23.8h0M70.7 59.1h0M34.8 12.1h0M14.9 38.6h0M32.9 83.5h0M56.5 72.1h0M55.0 57.5h0M20.5 13.5h0M34.2 54.6h0M81.6 75.0h0M98.3 9.5h0M69.7 16.3h0M108.5 2.1h0M67.1 71.4h0M89.2 59.2h0M75.4 65.8h0M27.6 60.5h0M15.1 24.1h0M26.9 73.9h0M35.7 65.6h0M35.5 10.1h0M34.2 71.5h0M49.4 76.0h0M79.7 44.3h0M21.5 29.4h0M30.3 25.1h0M54.7 55.1h0M26.9 65.0h0M29.7 23.7h0M136.8 35.0h0M29.8 14.4h0M55.9 36.1h0M125.1 35.6h0M91.3 1.5h0M115.7 31.2h0M63.6 1.8h0M55.1 94.8h0M12.5 15.2h0M20.7 44.3h0M88.7 54.7h0M3.4 72.3h0M96.9 86.7h0M36.4 1.0h0M131.1 95.3h0M49.1 0.2h0M113.2 61.2h0M17.2 25.1h0M108.6 64.4h0M62.4 92.8h0M127.0 59.0h0M67.1 48.0h0M85.9 45.9h0M18.4 27.5h0M34.0 93.9h0M139.9 25.5h0M13.1 50.5h0M124.5 1.4h0M92.8 54.3h0M132.8 72.2h0M91.9 21.8h0M31.0 91.1h0"/><path id="tf0" d="M99.9 54.8h0M133.5 25.9h0M62.1 42.3h0M54.5 74.7h0M74.3 93.5h0M2.3 45.1h0M39.4 13.2h0M59.9 53.7h0M101.1 73.5h0M6.5 40.6h0M86.0 8.4h0M72.3 28.9h0M45.2 18.4h0M116.2 97.8h0M82.7 12.9h0M84.0 54.3h0M6.5 12.4h0M9.0 8.1h0M43.8 32.7h0M108.3 39.4h0M114.4 60.0h0M140.8 58.5h0M72.8 10.6h0M55.0 94.8h0M125.3 16.7h0M5.5 97.5h0M134.8 74.9h0M104.8 76.9h0M107.7 87.4h0M108.9 9.4h0M3.9 36.6h0M25.0 76.0h0M22.4 91.3h0M39.0 51.4h0M7.4 12.3h0M133.2 30.2h0M119.0 85.3h0M104.4 43.7h0M44.5 62.2h0M5.1 7.6h0M55.0 30.7h0M57.6 17.1h0M113.9 93.3h0M42.1 24.7h0M61.5 77.5h0M61.4 17.9h0M70.3 84.2h0M71.7 36.5h0M26.9 66.8h0M94.7 50.2h0M136.4 6.4h0M23.3 59.0h0M67.0 19.9h0M96.5 55.5h0M123.0 42.6h0M99.8 27.0h0M71.0 79.0h0M63.0 97.8h0M73.9 91.1h0M123.1 8.3h0M34.9 37.7h0M116.5 62.4h0M64.9 90.3h0M52.3 84.4h0M66.4 21.4h0M37.8 65.0h0M124.2 60.7h0M127.3 61.9h0M27.0 66.2h0M116.3 40.5h0M138.4 34.2h0M13.2 29.7h0M94.6 7.3h0M58.6 13.7h0M92.0 70.8h0M74.1 4.0h0M111.0 49.7h0M61.3 41.7h0M137.1 66.5h0M105.5 7.2h0M74.2 5.3h0M113.4 49.3h0M11.5 94.8h0M138.6 81.4h0M5.4 96.8h0M78.9 26.0h0M89.3 53.0h0M78.3 72.1h0M9.8 1.0h0M15.5 61.8h0M68.6 23.7h0M131.5 67.6h0M18.0 13.7h0M45.5 36.6h0M56.9 74.2h0M10.9 40.9h0M113.7 93.9h0M7.5 66.1h0M36.6 82.5h0M78.4 80.8h0M63.9 3.5h0M86.4 66.3h0M135.1 13.8h0M122.9 64.0h0M6.5 23.6h0M18.3 44.1h0M101.4 81.2h0M45.6 26.5h0M125.7 23.2h0M15.9 37.8h0M22.6 46.1h0M103.9 57.3h0M96.0 5.1h0M72.5 81.9h0M92.2 88.8h0M106.1 86.0h0M99.9 6.9h0M30.7 28.1h0M15.9 8.9h0M117.3 71.7h0M98.5 32.3h0M107.0 45.6h0M32.5 61.5h0M110.8 45.0h0M52.2 96.3h0M76.1 81.2h0M15.5 39.3h0M86.7 61.3h0M112.0 41.1h0M19.3 11.0h0M54.6 0.4h0M50.2 57.5h0M91.0 66.7h0M57.8 83.2h0M73.5 50.2h0M72.5 52.0h0M76.0 77.7h0M37.7 62.6h0M113.0 9.7h0M135.4 88.5h0M10.5 29.0h0M122.3 67.6h0M41.3 10.8h0M18.5 93.4h0M13.4 13.4h0M135.2 41.8h0M18.4 45.0h0M4.3 10.5h0M41.7 15.8h0M54.7 2.6h0M39.5 93.4h0M121.8 27.5h0M108.4 94.0h0M56.4 33.7h0M134.1 49.9h0M122.8 65.5h0M95.0 10.7h0M5.8 68.1h0M75.0 29.7h0M28.3 61.1h0"/><path id="vd0" d="M55.4 11.8h0M69.8 51.2h0M94.7 9.2h0M41.1 23.5h0M22.5 76.4h0M67.3 78.5h0M30.9 36.0h0M129.3 56.5h0M123.6 45.6h0M110.8 33.9h0M116.8 49.2h0M138.1 11.2h0M137.8 54.0h0M53.5 85.1h0M77.8 32.1h0M106.1 41.6h0M100.1 56.8h0M63.0 55.8h0M87.3 60.2h0M141.1 61.1h0M18.9 53.9h0M58.5 23.9h0M97.3 17.4h0M69.1 61.9h0M73.9 20.5h0M138.2 7.6h0M125.9 45.5h0M105.6 1.0h0M43.2 34.0h0M21.4 63.7h0M89.1 68.1h0M67.9 87.8h0M23.7 94.8h0M21.0 85.3h0M139.5 1.3h0M71.9 22.9h0M49.2 5.0h0M127.8 68.1h0M127.0 69.1h0M108.9 43.0h0M102.0 70.0h0M124.7 43.3h0M2.3 57.6h0M51.9 57.2h0M137.3 66.2h0M118.6 46.8h0M46.9 63.1h0M49.3 38.2h0M97.8 13.7h0M121.8 45.0h0M99.0 21.5h0M7.3 22.1h0M133.1 56.0h0M38.4 29.8h0M48.2 46.8h0M87.1 75.3h0M8.3 15.9h0M133.0 51.3h0M19.7 47.0h0M124.2 36.6h0M56.5 28.8h0M112.7 1.2h0M5.3 91.1h0M132.6 59.5h0M108.1 71.9h0M81.8 14.2h0M52.2 63.6h0M1.1 13.7h0M130.7 82.7h0M60.3 5.6h0M122.4 46.2h0M65.8 83.5h0M34.3 85.3h0M55.4 66.4h0M113.6 85.0h0M89.9 67.0h0M113.9 27.7h0M55.4 73.2h0M12.4 86.1h0M101.2 41.5h0M125.6 1.4h0M3.8 75.0h0M37.0 36.5h0M94.3 18.0h0M100.8 2.2h0M76.7 97.2h0M101.2 64.8h0M135.1 89.7h0M121.9 11.0h0M124.9 9.2h0M138.3 68.2h0M138.8 27.3h0M43.9 33.5h0M129.7 6.6h0M126.1 41.4h0M7.0 63.7h0M82.0 32.9h0M-0.3 37.6h0M48.8 33.3h0M100.9 29.8h0M39.1 5.5h0M117.8 60.7h0M70.0 8.3h0M76.2 86.4h0M84.1 76.2h0M111.9 82.1h0M132.0 77.8h0M54.0 48.3h0M3.3 92.4h0M118.2 41.6h0M106.1 27.4h0M4.7 89.1h0M131.4 10.8h0M88.2 41.9h0M128.1 29.1h0M125.0 20.3h0M140.7 17.1h0M63.2 19.7h0M24.2 2.5h0M108.3 84.8h0M124.0 25.2h0M39.3 60.0h0M101.2 93.1h0M116.0 49.5h0M111.0 63.5h0M10.0 88.2h0M129.6 39.6h0M98.1 29.5h0M68.7 12.1h0M129.6 36.7h0M128.9 3.2h0M35.3 70.5h0M2.4 32.7h0M12.5 31.1h0M25.6 79.5h0M128.9 41.6h0M136.1 22.9h0M99.5 17.4h0M86.3 58.6h0M122.0 72.1h0M72.3 2.0h0M70.4 3.0h0M87.8 66.0h0M120.8 89.0h0M110.4 59.2h0M136.5 41.1h0M119.2 6.7h0M140.3 74.4h0M128.4 17.9h0M112.8 93.6h0M99.9 53.6h0M108.8 59.7h0M67.2 75.4h0M79.7 14.6h0M112.9 42.5h0M136.2 83.0h0M111.9 41.0h0M139.9 66.4h0M94.9 4.7h0M104.8 51.4h0M33.0 53.9h0M107.6 34.3h0M126.5 21.7h0M115.4 73.5h0M124.4 96.4h0M39.1 84.2h0M24.5 50.3h0M124.5 57.9h0M53.1 0.6h0M135.0 71.1h0M130.3 48.6h0M67.3 24.0h0M113.2 33.2h0M49.3 89.5h0M19.0 74.1h0M109.0 60.2h0M85.0 1.3h0M121.2 21.5h0M83.4 89.2h0M134.1 54.2h0M43.2 97.5h0M119.8 81.7h0M121.0 11.7h0M66.8 35.1h0M79.6 88.9h0M32.7 90.8h0M93.2 17.5h0M55.4 7.0h0M37.7 50.1h0M107.3 33.0h0M130.2 17.7h0M14.4 31.4h0M62.9 26.8h0M38.4 59.8h0M62.3 5.4h0M3.6 20.8h0M37.7 66.1h0M124.3 1.4h0M16.9 69.3h0M103.5 94.2h0"/><path id="vf0" d="M48.6 82.4h0M103.4 78.6h0M91.8 85.5h0M8.9 56.7h0M98.9 50.2h0M40.4 17.3h0M96.7 96.0h0M131.8 93.3h0M6.3 96.0h0M15.4 68.3h0M65.3 2.5h0M66.8 70.4h0M68.9 72.2h0M71.1 40.6h0M114.2 57.4h0M16.5 90.7h0M92.5 86.2h0M119.6 27.3h0M74.6 25.4h0M79.8 92.9h0M99.3 84.4h0M53.7 91.1h0M63.4 61.4h0M49.5 41.6h0M73.5 1.8h0M87.9 49.2h0M8.8 43.1h0M99.0 69.0h0M76.2 81.3h0M72.2 12.2h0M29.3 66.7h0M19.3 25.9h0M47.9 60.0h0M137.6 67.9h0M34.5 36.9h0M26.9 50.6h0M82.6 60.2h0M49.1 31.7h0M18.3 5.8h0M99.2 71.5h0M68.2 5.8h0M32.0 16.8h0M124.1 38.2h0M66.0 86.9h0M19.1 70.2h0M53.9 53.4h0M14.2 29.9h0M77.9 55.5h0M115.1 34.0h0M113.9 77.8h0M4.5 92.0h0M40.6 76.6h0M86.1 61.1h0M1.9 81.7h0M42.8 9.7h0M87.5 90.3h0M103.2 32.3h0M117.4 70.3h0M76.6 68.7h0M75.7 29.6h0M120.9 3.0h0M30.8 4.1h0M62.6 75.8h0M38.1 43.0h0M3.4 55.6h0M131.3 62.6h0M100.3 49.5h0M27.2 7.8h0M2.4 87.9h0M12.1 79.8h0M114.6 1.4h0M119.9 1.4h0M125.8 41.8h0M5.3 71.7h0M97.3 2.1h0M108.7 47.6h0M106.7 93.0h0M82.0 55.8h0M13.5 84.5h0M133.1 47.6h0M134.6 91.2h0M116.1 46.6h0M8.9 56.0h0M103.2 58.9h0M95.9 92.8h0M56.1 75.5h0M130.4 75.7h0M136.1 66.1h0M3.2 14.7h0M42.4 53.4h0M88.2 34.5h0M23.1 12.4h0M68.5 71.9h0M114.8 45.5h0M16.8 20.1h0M50.9 54.5h0M56.0 95.8h0M99.6 52.5h0M6.2 56.8h0M88.5 83.5h0M91.3 87.3h0M105.9 15.8h0M10.3 84.1h0M110.6 0.1h0M50.0 54.8h0M119.3 82.9h0M75.4 68.6h0M57.8 77.2h0M13.0 53.6h0M28.6 16.6h0M2.8 69.0h0M51.7 6.0h0M129.9 97.2h0M33.0 1.0h0M139.0 29.2h0M81.9 74.4h0M138.2 26.2h0M113.4 68.7h0M83.6 98.2h0M89.9 53.3h0M87.2 36.8h0M51.1 1.6h0M99.8 55.2h0M0.2 70.4h0M22.7 90.6h0M74.6 1.3h0M96.3 69.2h0M26.8 88.6h0M28.2 30.3h0M107.1 30.1h0M58.1 23.7h0M81.6 88.9h0M62.0 26.9h0M136.0 48.8h0M117.2 45.6h0M8.7 70.8h0M67.0 54.1h0M61.1 53.0h0M66.6 96.1h0M140.8 85.8h0M42.0 57.4h0M46.3 57.4h0M16.5 84.2h0M56.0 88.9h0M59.1 55.5h0M82.1 71.4h0M80.2 6.4h0M3.0 80.2h0M5.6 80.4h0M86.4 98.2h0M75.9 18.7h0M97.2 79.9h0M82.1 53.1h0M35.7 67.6h0M58.3 67.6h0M50.1 26.3h0M45.0 22.8h0M110.6 66.4h0M81.8 66.2h0M29.9 67.8h0M21.8 60.2h0M55.9 93.1h0M32.0 42.9h0M29.0 18.9h0M133.8 45.2h0M103.2 95.5h0M12.8 50.1h0M31.1 70.5h0M33.2 9.0h0M134.7 84.4h0M108.6 12.5h0M94.3 8.9h0M110.7 53.9h0M133.0 33.5h0M4.9 48.9h0M16.3 21.3h0M25.5 10.0h0M59.7 72.6h0M31.7 5.3h0M54.9 4.7h0M60.2 51.2h0M60.0 27.0h0M120.7 88.4h0M8.4 11.1h0M11.8 46.5h0M72.9 92.9h0M22.6 91.5h0M122.8 93.8h0M83.7 62.0h0M126.5 37.1h0M82.4 89.9h0M88.9 35.2h0M66.3 43.2h0M106.9 55.4h0M88.7 68.9h0M10.7 90.7h0M13.2 1.8h0M15.1 70.6h0M51.6 30.8h0M100.5 35.5h0M86.1 79.0h0M56.6 82.3h0M89.6 14.4h0M71.0 55.3h0M94.4 74.2h0M86.7 97.3h0M66.9 3.5h0M105.0 69.5h0M8.8 63.8h0M125.7 75.4h0M45.0 59.8h0M64.7 14.2h0M54.7 95.5h0M112.7 50.0h0M120.3 83.8h0M98.3 72.7h0M117.9 94.8h0M30.8 70.8h0M124.7 23.8h0M135.1 48.2h0M60.1 0.9h0M107.6 60.1h0M0.9 0.5h0M132.8 93.7h0M94.3 15.5h0M33.8 53.0h0M97.3 49.1h0M131.5 50.6h0M95.7 27.2h0M96.4 67.2h0M69.6 18.2h0M139.7 81.8h0M52.6 90.5h0M15.6 11.2h0M80.1 33.5h0M128.4 32.3h0M34.1 16.7h0M68.9 53.8h0M100.1 16.0h0M30.0 45.0h0M9.0 67.1h0M87.1 6.1h0M69.8 71.0h0M119.8 52.2h0M110.5 60.7h0M36.7 30.8h0M83.0 35.6h0M140.0 89.8h0M103.1 29.8h0M48.9 82.9h0M29.2 59.4h0M65.3 79.0h0M47.5 27.0h0M2.8 72.6h0M71.6 6.2h0M10.2 18.5h0M23.1 74.4h0M72.6 46.6h0M40.0 92.1h0M114.6 88.3h0M116.8 19.9h0M111.6 93.9h0M22.1 46.0h0M69.6 60.7h0M136.9 55.7h0M137.2 65.2h0M105.6 72.1h0M65.6 44.6h0M70.4 51.9h0M37.0 61.9h0M10.1 64.5h0M45.0 51.0h0M51.5 86.1h0M22.4 72.2h0M27.4 39.5h0M90.3 69.0h0M75.3 5.1h0M86.9 20.6h0M7.4 96.6h0M76.9 81.6h0M102.9 8.8h0M132.1 82.0h0M126.3 46.5h0M131.2 68.2h0M83.7 22.4h0M54.0 57.8h0M21.5 16.5h0M62.9 61.5h0M13.6 86.4h0M82.1 6.8h0M109.4 32.3h0M110.1 16.2h0M77.9 6.3h0M87.3 60.2h0M84.1 78.7h0M88.3 69.6h0M95.3 4.5h0M79.6 79.2h0M21.0 15.5h0M139.7 68.4h0M58.6 42.4h0M27.9 68.9h0M58.6 44.8h0M36.4 29.1h0M53.6 12.6h0M51.1 95.5h0M120.3 74.7h0M118.5 54.2h0M47.9 97.8h0M96.7 80.5h0M31.7 35.4h0M132.4 39.2h0M9.8 8.6h0M80.8 55.9h0M61.5 47.5h0M63.3 78.4h0M124.8 93.9h0M88.8 7.0h0M75.3 53.1h0M113.6 87.6h0"/><path id="dd1" d="M108.4 85.0h0M72.2 78.9h0M89.9 55.8h0M139.5 85.1h0M101.3 11.4h0M6.3 20.8h0M57.0 37.9h0M85.9 54.4h0M83.9 96.1h0M42.3 42.4h0M91.6 57.0h0M126.8 53.8h0M27.9 1.3h0M42.8 23.2h0M60.0 89.2h0M82.1 41.7h0M113.5 7.0h0M66.9 83.4h0M86.9 62.8h0M16.1 80.8h0M27.9 94.7h0M44.8 51.1h0M75.6 28.5h0M43.2 69.7h0M73.3 66.3h0M67.8 73.3h0M47.9 47.7h0M80.1 29.1h0M138.2 48.3h0M130.0 51.0h0M72.3 47.7h0M86.4 4.5h0M82.3 71.1h0M19.7 96.5h0M112.7 71.2h0M128.4 28.1h0M56.1 97.7h0M54.2 17.1h0M119.1 10.2h0M128.6 86.0h0M130.9 93.0h0M106.3 8.0h0M18.4 1.5h0M135.1 67.4h0M10.3 81.4h0M5.6 33.7h0M104.0 81.2h0M11.1 21.1h0M43.0 55.4h0M108.5 25.2h0M28.6 28.6h0M115.5 64.4h0M45.1 26.0h0M78.6 50.2h0M38.7 30.1h0M34.8 29.3h0M11.3 81.3h0M115.6 75.4h0M105.3 83.9h0M69.7 53.6h0M37.0 42.3h0M58.6 78.2h0M77.5 13.9h0M40.6 51.8h0M46.2 77.0h0M130.5 83.0h0M117.6 4.6h0M4.6 96.7h0M62.0 25.2h0M53.3 74.1h0M37.8 20.7h0M137.4 72.5h0M34.7 60.0h0M95.2 47.7h0M52.4 70.4h0M117.3 58.9h0M134.2 98.3h0M14.7 48.1h0M81.1 82.7h0M50.2 90.9h0M62.2 18.0h0M17.1 44.0h0M35.0 23.7h0M119.2 68.7h0M127.2 53.5h0M105.9 48.4h0M93.7 70.9h0M41.5 2.0h0M75.5 74.5h0M18.5 0.7h0M98.9 86.4h0M129.7 80.7h0M6.5 37.7h0M32.7 42.3h0M45.5 9.3h0M17.0 95.5h0M48.3 41.6h0M77.1 9.9h0M95.9 92.9h0M80.5 12.7h0M61.0 24.9h0M137.2 93.0h0M116.8 79.8h0M105.3 92.4h0M96.7 21.6h0M116.9 41.7h0M42.5 84.8h0M50.5 17.3h0M40.1 47.8h0M88.5 92.3h0M2.8 8.9h0M127.0 21.1h0M133.1 37.2h0M95.8 69.2h0M130.0 67.8h0M82.5 63.9h0M65.2 31.8h0M93.3 60.9h0M104.0 43.9h0M135.8 92.3h0M71.2 44.3h0M119.1 59.8h0M50.2 62.7h0M64.4 76.3h0M28.1 17.2h0M136.5 98.4h0M43.3 24.6h0M40.8 75.8h0M105.4 74.9h0M63.2 3.0h0M130.0 91.6h0M109.2 75.4h0M45.7 92.5h0M65.3 74.0h0M102.0 64.1h0M34.3 73.8h0M79.2 51.3h0M100.8 54.7h0M41.8 90.7h0M88.1 16.9h0M137.5 25.9h0M13.2 41.2h0M105.5 24.1h0M100.6 53.5h0M95.7 1.0h0M118.9 18.5h0M112.3 41.6h0M93.5 19.0h0M115.5 37.6h0M26.5 69.9h0M23.0 6.1h0M53.3 80.6h0M126.4 43.6h0M117.9 96.2h0M50.8 67.1h0M89.3 82.8h0M139.1 34.2h0M53.3 64.9h0M50.6 10.1h0M26.7 48.6h0M28.1 61.3h0M112.5 8.7h0M67.7 42.5h0M16.4 22.7h0M12.9 61.8h0M133.8 4.3h0M37.9 36.5h0M67.7 42.8h0M62.9 46.3h0M27.6 4.9h0M58.8 88.1h0M59.5 63.2h0M117.4 73.3h0M43.2 95.7h0M26.2 28.3h0M88.9 76.1h0M57.5 13.2h0M23.8 36.2h0M50.3 29.0h0M65.6 51.6h0M64.6 74.6h0M98.6 71.4h0M22.8 16.4h0M32.0 97.3h0M54.4 58.4h0M69.6 87.1h0M89.2 93.9h0M5.9 38.2h0M85.8 49.5h0M78.7 73.5h0M87.3 59.9h0M71.6 37.3h0M72.5 15.8h0M107.6 34.0h0M83.6 56.6h0M4.2 72.3h0M108.5 83.2h0M34.9 6.9h0M25.7 12.7h0M88.4 35.0h0M138.8 91.6h0M16.1 94.9h0M8.2 43.6h0M117.1 2.5h0M44.4 47.8h0M12.6 74.0h0M13.0 82.8h0M67.8 38.5h0M126.4 12.4h0M8.0 27.5h0M51.8 44.2h0M60.8 68.3h0M101.8 53.6h0M114.2 77.9h0"/><path id="db1" d="M90.2 61.9h0M34.0 79.5h0M47.4 35.8h0M101.2 34.6h0M133.5 45.2h0M52.6 2.0h0M106.7 21.1h0M64.4 66.5h0M65.8 93.7h0M55.6 35.3h0M14.6 2.8h0M16.7 56.3h0M16.3 49.2h0M21.1 78.2h0M5.1 76.4h0M131.8 93.3h0M65.7 79.8h0M24.1 94.5h0M137.7 70.9h0M136.6 61.5h0M137.0 38.0h0M11.4 20.5h0M122.0 82.9h0M54.1 70.3h0M127.0 34.4h0M37.7 97.0h0M52.0 91.1h0M35.8 94.8h0M5.3 34.8h0M61.8 5.3h0M114.6 92.6h0M58.1 68.4h0M37.2 30.1h0M94.3 50.6h0M14.2 97.5h0M139.5 60.2h0M130.3 33.0h0M60.7 62.7h0M10.5 4.4h0M72.3 19.3h0M105.9 62.4h0M57.5 47.9h0M97.4 12.6h0M109.2 82.0h0M28.9 13.0h0M106.2 64.9h0M112.3 98.4h0M101.0 91.1h0M29.2 39.6h0M125.1 70.2h0M90.6 39.0h0M33.0 85.2h0M6.7 88.4h0M118.1 92.9h0M5.2 53.1h0M102.1 39.8h0M134.1 66.0h0M117.9 4.2h0M134.1 17.4h0M44.1 37.6h0M107.1 9.3h0M61.9 84.4h0M82.1 31.7h0M79.6 15.6h0M11.8 44.2h0M34.4 54.9h0M16.1 16.9h0M98.6 77.9h0M19.3 81.9h0M107.5 68.6h0M78.0 11.0h0M41.1 2.6h0M121.6 84.2h0M10.0 85.4h0M32.7 94.9h0M97.8 35.4h0M70.5 62.6h0M69.4 55.2h0M113.8 7.1h0M50.5 92.7h0M96.0 44.8h0M0.1 78.2h0M48.9 49.1h0M32.7 18.3h0M136.2 27.8h0M115.3 9.8h0M113.4 72.4h0M89.9 45.5h0M38.1 9.8h0M82.4 90.4h0M68.9 67.4h0M37.4 52.7h0M116.8 91.5h0M67.3 68.9h0M109.9 61.9h0M37.5 1.8h0M108.8 12.2h0M99.3 35.3h0M93.3 32.2h0M11.3 58.0h0M91.5 71.1h0M52.3 86.9h0M68.5 4.0h0M46.2 16.3h0M15.9 20.5h0M82.2 4.7h0M29.9 16.4h0M42.1 30.9h0M123.7 80.0h0M133.8 5.7h0M34.5 42.1h0M75.8 16.2h0M27.0 89.5h0M69.9 16.4h0M41.7 29.3h0M91.1 24.0h0M12.4 16.9h0M33.3 78.7h0M38.6 94.4h0M30.2 14.5h0M83.9 15.2h0M117.5 75.5h0M78.7 9.9h0M99.6 73.7h0M40.0 33.6h0M80.9 74.5h0M126.3 12.9h0M48.2 10.2h0M1.6 9.0h0M33.8 15.0h0M90.1 81.2h0M96.6 4.7h0M59.3 27.0h0M130.3 14.6h0M23.2 39.6h0M4.6 95.1h0M23.5 64.3h0M113.7 45.0h0M88.2 70.7h0M123.3 45.6h0M20.4 36.6h0M73.5 26.8h0M93.7 48.5h0M130.6 29.9h0M37.9 35.3h0M82.4 49.4h0M72.3 40.0h0M20.9 16.4h0M15.5 69.4h0M112.1 72.0h0M102.1 74.9h0M50.8 12.2h0M88.6 88.3h0M2.6 11.5h0M64.3 93.4h0M63.0 35.8h0M14.9 65.0h0M2.1 46.2h0M54.4 33.9h0M74.1 82.3h0M75.1 37.2h0M27.2 40.3h0M99.6 57.4h0M119.5 11.7h0M40.8 4.4h0M128.1 1.2h0M85.8 39.3h0M0.9 45.9h0M98.0 61.8h0M4.9 40.8h0M68.6 2.2h0M1.3 29.2h0M36.6 53.9h0M5.6 14.4h0M83.2 37.2h0M103.1 50.3h0M51.2 86.7h0M89.1 49.9h0M66.9 73.4h0M108.5 22.7h0M42.9 97.7h0M92.0 91.5h0M75.2 31.6h0M129.7 70.6h0M90.3 97.1h0M117.8 49.8h0M32.2 87.1h0M133.3 85.5h0M58.4 13.2h0M41.4 0.1h0M132.4 44.0h0M100.6 27.3h0M111.3 75.6h0M52.7 93.0h0M13.0 77.7h0M101.1 31.2h0M82.7 62.2h0M80.4 18.0h0M131.6 89.2h0M27.7 19.5h0M14.2 30.5h0M136.9 31.6h0M2.3 27.5h0M28.6 66.7h0M40.0 1.9h0M35.3 94.3h0M75.2 13.9h0M71.6 27.5h0M20.9 76.6h0M102.3 25.9h0M52.1 35.0h0M15.0 45.9h0M78.9 12.1h0"/><path id="ds1" d="M15.7 42.8h0M77.1 97.0h0M34.4 66.1h0M84.0 10.3h0M101.2 26.4h0M130.7 16.4h0M122.7 35.8h0M46.6 91.9h0M77.7 57.7h0M95.4 66.1h0M93.8 62.1h0M44.3 57.5h0M95.5 4.6h0M20.6 68.5h0M51.3 49.1h0M52.6 82.4h0M90.4 0.3h0M140.5 12.7h0M87.3 30.0h0M116.0 85.4h0M58.9 58.8h0M3.5 60.3h0M15.6 61.6h0M80.7 27.7h0M98.9 52.6h0M133.8 65.0h0M46.0 94.5h0M39.9 1.2h0M25.0 79.9h0M133.5 14.0h0M45.1 80.3h0M93.1 84.2h0M107.9 12.8h0M2.3 11.9h0M74.9 77.4h0M53.7 36.6h0M29.6 64.5h0M49.1 72.5h0M133.0 71.3h0M70.1 70.0h0M7.0 27.8h0M34.5 10.2h0M70.4 13.5h0M88.2 83.1h0M9.9 35.1h0M85.5 85.4h0M62.9 62.1h0M50.3 45.9h0M104.8 48.4h0M9.1 63.2h0M34.9 33.8h0M61.5 56.4h0M44.5 43.1h0M74.9 91.7h0M80.4 10.0h0M87.2 61.8h0M38.7 35.2h0M41.0 11.0h0M32.7 77.7h0M58.6 33.5h0M7.0 76.7h0M135.7 40.9h0M78.3 94.7h0M113.6 15.4h0M51.7 79.3h0M43.6 52.8h0M36.1 18.1h0M49.4 44.5h0M118.0 73.4h0M109.9 95.0h0M136.1 28.5h0M109.2 94.9h0M117.0 66.3h0M101.8 71.8h0M117.8 42.0h0M3.7 84.3h0M19.3 20.9h0M87.8 0.7h0M7.3 45.7h0M10.2 2.8h0M5.5 19.5h0M73.0 86.1h0M18.4 72.4h0M81.2 14.5h0M99.1 28.3h0M50.4 48.4h0M75.5 61.5h0M140.9 18.6h0M100.9 36.9h0M87.8 54.4h0M65.5 98.0h0M83.1 51.0h0M136.2 60.1h0M108.6 40.7h0M24.6 43.5h0M81.1 64.4h0M135.0 63.7h0M99.6 82.7h0M53.8 67.0h0M115.4 76.0h0M100.6 52.0h0M97.6 30.8h0M44.6 70.5h0M135.4 68.1h0M20.7 53.5h0M67.7 72.5h0M107.6 33.4h0M138.4 55.4h0M48.9 97.5h0M42.2 81.7h0M18.5 97.0h0M36.1 79.8h0M65.9 28.7h0M1.4 46.4h0M135.9 89.9h0M90.3 21.6h0M20.7 40.4h0M127.0 66.9h0M5.3 40.7h0M100.3 96.9h0M112.8 52.2h0M23.8 0.7h0M75.9 41.1h0M103.2 67.2h0M115.7 16.1h0M4.1 91.6h0M87.5 37.3h0M109.8 61.6h0M5.7 50.5h0M15.6 90.4h0M15.5 91.8h0M50.1 97.0h0M74.6 90.8h0M46.0 43.5h0M36.0 41.9h0M30.4 35.7h0M37.5 13.6h0M114.4 81.8h0M73.3 24.0h0M100.8 30.9h0M84.2 5.6h0M74.6 55.1h0M22.4 32.3h0M66.9 89.0h0M4.5 39.4h0M29.7 64.1h0M9.2 86.0h0M35.4 82.9h0M21.8 62.6h0M70.5 48.3h0M23.1 25.9h0M135.2 23.9h0M80.2 48.6h0M77.8 23.9h0M47.6 86.6h0M6.9 61.2h0M75.8 15.3h0M81.1 97.4h0M13.0 1.5h0M71.7 48.4h0M137.6 12.3h0M9.2 81.4h0M79.8 67.4h0M106.5 17.2h0M133.3 2.4h0M27.5 28.4h0M67.9 31.8h0M103.0 8.0h0M32.8 15.1h0M11.4 24.0h0M70.6 81.7h0M74.0 2.4h0M84.0 86.5h0M26.2 56.1h0M94.0 17.8h0M98.3 46.9h0M101.4 76.3h0M105.1 32.9h0M41.3 67.3h0M98.6 4.2h0M122.1 61.5h0M2.7 85.8h0M6.6 61.6h0M29.7 22.9h0M128.6 39.7h0M52.6 86.8h0M76.4 61.7h0M58.4 57.3h0M118.5 38.3h0M4.8 32.9h0M83.9 17.7h0M4.5 79.1h0M31.6 38.1h0M84.2 8.1h0M10.3 42.7h0M13.9 31.8h0M85.0 42.5h0M43.1 64.2h0M137.1 80.8h0M91.3 91.5h0M98.3 47.1h0M18.9 19.8h0M34.1 78.3h0M119.3 20.1h0M51.7 9.5h0M107.6 43.3h0M45.1 85.5h0M77.6 19.4h0M131.0 24.5h0M11.3 85.7h0M54.6 41.3h0M40.1 46.0h0M48.7 72.5h0"/><path id="th1" d="M71.1 45.8h0M109.8 77.0h0M117.6 12.4h0"/><path id="tf1" d="M31.3 38.8h0M88.7 10.2h0M38.7 84.0h0M2.6 25.2h0M12.6 75.5h0M111.0 27.6h0M42.8 78.6h0M82.0 49.0h0M112.2 47.1h0M23.3 95.2h0M64.0 88.2h0M88.3 90.1h0M100.1 91.6h0M95.2 15.6h0M136.4 56.0h0M70.9 27.6h0M8.0 59.8h0M18.3 62.5h0M2.1 1.6h0M123.1 54.3h0M64.1 74.0h0M113.9 28.6h0M132.4 25.8h0M42.4 38.7h0M62.5 63.4h0M42.1 53.5h0M39.4 43.3h0M45.1 16.6h0M82.7 53.2h0M42.4 62.2h0M21.3 46.6h0M29.8 47.4h0M68.0 64.1h0M43.0 30.5h0M81.0 56.5h0M61.7 36.5h0M8.5 42.4h0M107.0 74.3h0M40.5 74.0h0M71.9 72.4h0M12.6 13.3h0M59.3 58.0h0M75.5 45.1h0M62.0 49.1h0M77.4 7.8h0M75.0 37.4h0M99.1 33.3h0M65.5 34.9h0M112.7 1.1h0M86.1 2.2h0M115.3 55.8h0M77.0 37.5h0M67.5 95.4h0M139.4 94.3h0M52.5 65.6h0M84.0 79.8h0M22.1 96.1h0M72.7 96.8h0M91.8 95.5h0M84.8 46.2h0M135.3 70.8h0M74.2 45.3h0M130.6 55.4h0M33.6 72.4h0M126.0 12.8h0M65.3 28.1h0M121.7 95.8h0M96.0 82.2h0M66.4 70.8h0M117.4 96.1h0"/><path id="vd1" d="M109.8 62.0h0M130.5 14.7h0M111.5 75.3h0M136.7 32.0h0M132.6 71.4h0M138.7 91.5h0M133.5 5.4h0M72.1 28.0h0M86.8 4.2h0M137.8 48.3h0M135.8 90.1h0M118.1 73.2h0M106.1 65.3h0M118.0 75.6h0M67.5 42.8h0M12.6 78.0h0M137.6 26.3h0M117.6 96.2h0M13.0 41.7h0M24.6 43.7h0M108.2 22.3h0M5.2 40.7h0"/><path id="vf1" d="M99.2 25.1h0M57.9 13.6h0M121.9 78.3h0M86.8 27.9h0M124.6 92.6h0M32.2 49.5h0M35.7 17.3h0M59.0 8.7h0M81.7 19.5h0M73.3 12.2h0M121.7 68.7h0M127.6 2.1h0M81.8 75.8h0M81.1 74.8h0M84.1 94.1h0M140.3 80.5h0M59.3 79.3h0M96.9 47.9h0M47.8 22.6h0M4.6 86.8h0M15.9 96.2h0M119.4 78.2h0M124.6 69.2h0M27.8 46.7h0M76.2 68.9h0M129.2 82.2h0M134.2 4.3h0M2.4 46.2h0M33.4 93.3h0M117.5 70.8h0M26.9 78.8h0M116.2 67.7h0M104.3 72.5h0M112.5 22.8h0M79.8 85.3h0M36.4 73.5h0M97.7 69.6h0M87.7 36.4h0M114.4 79.9h0M116.6 57.7h0M131.8 88.6h0M105.6 25.4h0M120.1 25.7h0M32.3 81.2h0M40.1 23.5h0M111.4 45.3h0M139.4 89.6h0M42.9 89.6h0M90.2 61.0h0M76.2 80.3h0M41.4 87.3h0M62.4 22.8h0M40.1 32.2h0M0.0 0.3h0M23.5 68.4h0M38.4 46.1h0M75.9 84.3h0M79.3 96.9h0M62.0 61.0h0M118.5 76.5h0"/><path id="dd2" d="M60.3 70.9h0M102.7 10.3h0M139.1 75.9h0M28.0 74.0h0M135.6 36.5h0M52.3 14.9h0M95.8 4.0h0M47.5 65.6h0M87.7 35.7h0M1.5 21.8h0M77.2 58.8h0M29.5 7.5h0M119.0 4.0h0M68.5 12.9h0M31.4 75.3h0M78.6 8.0h0M134.0 97.9h0M71.5 81.6h0M52.4 15.8h0M36.7 66.8h0M106.5 97.9h0M0.4 15.2h0M124.9 91.4h0M138.5 43.1h0M28.0 18.3h0M73.3 32.1h0M121.9 3.0h0M121.8 85.0h0M120.5 33.4h0M92.1 85.2h0M2.9 82.6h0M76.1 65.5h0M32.9 63.7h0M43.6 94.4h0M17.8 58.3h0M112.6 11.6h0M44.6 61.6h0M82.5 76.3h0M58.5 73.6h0M40.3 17.9h0M19.6 97.9h0M106.4 37.7h0M83.0 18.2h0M140.1 56.7h0M138.6 14.7h0M1.6 29.3h0M26.0 3.4h0M50.9 21.2h0M44.0 71.2h0M81.8 19.5h0M77.8 75.3h0M107.7 59.6h0M2.5 13.8h0M80.4 77.8h0M77.5 79.7h0M85.3 36.8h0M114.4 13.7h0M83.6 63.2h0M70.8 20.2h0M82.3 80.4h0M13.2 96.6h0M23.0 39.1h0M49.1 95.9h0M91.7 59.5h0M97.2 84.9h0M89.0 76.8h0M88.3 83.6h0M75.8 97.3h0M30.1 38.9h0M85.7 48.2h0M65.2 67.8h0M2.9 92.9h0M11.6 88.3h0M73.2 34.6h0M8.3 89.5h0M139.9 69.5h0M58.3 4.7h0M61.0 10.7h0M123.4 30.6h0M18.9 37.5h0M135.4 35.6h0M34.5 33.1h0M83.4 64.6h0M40.4 40.0h0M34.5 24.9h0M55.7 95.5h0M76.6 45.8h0M6.9 41.0h0M55.8 46.1h0M76.2 12.4h0M130.7 52.3h0M73.0 49.7h0M65.8 69.8h0M12.5 66.1h0M59.1 62.6h0M99.3 20.1h0M65.3 35.6h0M140.0 30.2h0M113.6 25.5h0M41.2 21.4h0M130.2 35.8h0M3.7 21.0h0M75.1 57.2h0M43.4 3.5h0M122.7 61.1h0M58.0 86.8h0M125.5 63.8h0M3.6 90.3h0M51.6 58.6h0M121.9 24.4h0M108.0 65.9h0M58.3 38.7h0M20.6 36.0h0M22.5 81.4h0M30.0 31.7h0M64.3 0.9h0M135.9 67.3h0M19.0 9.4h0M18.5 89.6h0M66.9 8.8h0M70.1 49.5h0M117.1 7.9h0M119.5 43.8h0M25.1 18.3h0M47.0 47.5h0M110.8 72.0h0M17.0 26.9h0M117.6 50.1h0M85.1 33.1h0M72.2 95.8h0M9.1 12.5h0M30.5 30.4h0M115.1 88.5h0M127.9 34.9h0M135.4 35.3h0M11.3 21.0h0M140.3 49.1h0M52.7 31.3h0M20.0 37.3h0M136.5 1.6h0M36.3 7.6h0M55.2 93.1h0M110.7 19.0h0M132.7 76.2h0M10.6 58.8h0M57.7 38.7h0M82.0 38.2h0M61.1 47.3h0M116.0 5.1h0M80.1 20.5h0M107.2 18.9h0M0.8 56.4h0M56.6 54.9h0M34.8 35.3h0M103.0 7.7h0M121.4 65.0h0M107.2 50.8h0M45.3 35.1h0M47.8 54.3h0M62.4 74.0h0M45.2 96.6h0M46.7 83.2h0M75.9 92.3h0M34.1 82.0h0M82.7 22.6h0M60.3 63.3h0M10.7 90.9h0M61.9 79.8h0M71.7 66.4h0M76.6 96.0h0M94.3 77.0h0M91.8 15.8h0M37.6 49.3h0M67.0 77.3h0M134.9 81.4h0M70.8 95.4h0M6.3 74.7h0M5.5 10.5h0M23.7 0.6h0M71.3 39.3h0M7.4 24.2h0M137.8 73.2h0M36.5 64.1h0M19.8 28.3h0M114.2 85.3h0M72.7 92.4h0M133.6 90.0h0M46.8 61.5h0M25.7 44.5h0M91.1 12.7h0M2.7 24.0h0M95.3 21.9h0M67.9 56.4h0M98.4 78.2h0M133.1 76.0h0M42.8 10.0h0M36.2 71.9h0M96.4 70.8h0M110.5 82.6h0M116.9 32.9h0"/><path id="db2" d="M71.3 16.6h0M49.6 79.5h0M98.4 16.7h0M125.0 84.8h0M5.8 63.5h0M53.4 7.7h0M45.0 63.5h0M15.3 31.7h0M97.0 23.0h0M123.3 56.4h0M89.0 3.7h0M9.8 60.4h0M24.5 51.6h0M126.4 58.3h0M62.6 10.0h0M17.7 24.4h0M134.6 74.2h0M23.9 4.7h0M137.0 95.2h0M75.0 26.9h0M75.5 88.2h0M35.4 77.2h0M69.9 54.0h0M132.2 1.1h0M42.3 9.8h0M24.2 85.3h0M4.6 94.0h0M50.2 59.7h0M69.4 10.7h0M34.9 19.5h0M46.7 0.7h0M81.2 23.9h0M96.2 53.9h0M118.6 94.4h0M45.0 62.5h0M110.3 29.9h0M84.3 72.4h0M121.4 75.4h0M70.3 49.1h0M53.7 63.2h0M138.3 2.0h0M96.4 71.4h0M59.9 1.8h0M37.9 90.1h0M107.1 66.8h0M132.4 88.3h0M1.9 43.7h0M98.6 78.6h0M66.8 6.5h0M87.1 66.3h0M57.9 2.9h0M25.9 16.6h0M67.7 81.3h0M21.9 34.4h0M29.4 12.5h0M23.7 53.9h0M109.5 93.0h0M129.1 95.2h0M74.6 76.6h0M39.0 63.8h0M119.4 28.5h0M28.5 23.7h0M86.4 65.8h0M60.0 22.0h0M69.6 14.9h0M112.6 83.1h0M15.3 37.0h0M125.5 25.4h0M119.4 88.4h0M100.0 68.9h0M57.1 24.9h0M61.8 7.8h0M17.2 63.0h0M35.4 23.6h0M134.3 67.9h0M70.0 52.0h0M3.6 91.7h0M58.0 27.4h0M24.8 74.5h0M75.9 51.3h0M64.7 95.6h0M138.7 43.0h0M11.1 96.9h0M36.3 81.9h0M0.4 78.0h0M66.1 86.8h0M32.3 58.6h0M138.8 33.9h0M9.3 86.2h0M105.3 0.7h0M49.4 14.4h0M58.0 77.7h0M79.6 41.2h0M68.4 74.0h0M10.1 46.7h0M93.3 65.5h0M69.5 93.7h0M48.0 8.0h0M124.3 88.0h0M90.1 92.5h0M71.6 46.8h0M54.1 40.9h0M57.7 40.4h0M36.1 39.9h0M10.3 8.2h0M94.9 48.2h0M120.7 54.7h0M15.1 57.5h0M97.2 76.6h0M102.8 94.8h0M35.7 54.4h0M38.8 12.5h0M112.4 13.6h0M21.7 38.9h0M27.8 8.4h0M22.0 71.1h0M69.0 93.5h0M38.0 34.5h0M67.0 45.9h0M112.8 79.6h0M76.8 31.4h0M85.0 16.1h0M127.3 9.5h0M79.4 81.1h0M26.0 33.8h0M82.9 79.2h0M139.2 92.5h0M133.1 77.7h0M88.7 11.0h0M133.9 45.4h0M93.8 38.6h0M124.4 66.9h0M101.4 85.6h0M47.3 38.7h0M55.6 33.7h0M0.0 36.1h0M134.5 58.6h0M67.8 90.4h0M71.7 68.8h0M98.0 76.4h0M8.4 79.9h0M52.0 59.6h0M8.2 62.6h0M32.4 31.6h0M116.8 61.7h0M140.7 82.5h0M114.0 41.6h0M47.6 40.0h0M139.8 81.2h0M85.4 36.7h0M108.6 61.0h0M23.1 97.2h0M40.7 64.1h0M72.6 8.7h0M25.0 71.8h0M139.3 39.1h0M58.7 16.8h0M79.8 68.2h0M137.2 18.9h0M123.2 40.8h0M137.9 31.7h0M136.0 20.8h0M128.4 79.5h0M61.6 51.3h0M66.5 40.6h0M104.5 19.8h0M30.8 43.7h0M101.9 38.0h0M109.9 98.1h0M17.9 44.9h0M53.3 17.4h0M81.1 84.2h0M8.9 31.3h0M82.4 12.5h0M52.0 64.9h0M87.7 85.6h0M48.9 37.5h0M103.3 2.4h0M51.7 42.5h0M108.7 66.0h0M105.9 18.6h0M80.9 25.7h0M30.5 98.2h0M25.7 65.1h0M3.5 69.9h0M100.8 71.1h0M96.3 23.5h0M97.2 61.8h0M104.6 60.5h0M88.4 41.8h0M135.1 95.4h0M18.6 77.1h0M85.3 68.3h0M45.6 36.0h0M63.1 26.1h0M11.8 53.9h0M128.3 73.7h0M1.5 26.3h0M132.9 55.6h0M125.9 61.5h0"/><path id="ds2" d="M110.4 74.5h0M126.2 46.9h0M3.2 72.1h0M32.3 27.6h0M124.4 24.4h0M106.3 31.5h0M117.5 21.0h0M21.2 64.0h0M46.0 62.4h0M78.1 97.8h0M123.5 26.8h0M111.3 25.8h0M118.9 32.4h0M95.0 87.8h0M133.9 56.8h0M78.8 76.1h0M26.2 85.4h0M118.5 65.7h0M106.5 78.7h0M55.9 1.2h0M73.0 41.5h0M138.5 43.5h0M104.3 46.2h0M56.8 82.9h0M58.3 47.9h0M31.0 61.6h0M53.6 33.5h0M127.1 29.0h0M140.4 91.7h0M112.2 39.8h0M110.3 54.6h0M108.7 81.3h0M58.8 80.5h0M124.5 31.0h0M19.6 36.8h0M40.6 5.2h0M118.4 75.6h0M29.4 69.5h0M32.0 30.8h0M124.2 47.1h0M68.0 77.6h0M71.2 56.2h0M78.3 60.7h0M75.8 7.7h0M71.1 3.4h0M79.0 79.6h0M95.9 85.8h0M74.1 16.1h0M27.5 40.6h0M73.6 84.7h0M71.1 66.9h0M84.9 79.3h0M79.3 87.7h0M6.8 93.5h0M54.7 5.7h0M13.1 4.7h0M74.2 68.3h0M27.8 30.3h0M128.7 54.1h0M109.8 79.6h0M138.0 19.7h0M73.1 93.7h0M16.2 43.7h0M71.2 84.1h0M90.2 44.4h0M119.6 44.8h0M68.6 10.6h0M114.3 57.5h0M18.0 16.2h0M130.6 11.3h0M48.8 98.2h0M64.4 34.5h0M23.4 60.1h0M12.2 77.4h0M33.4 84.2h0M7.6 14.1h0M57.9 75.0h0M113.1 53.7h0M12.3 69.4h0M130.4 21.1h0M73.7 91.9h0M89.9 4.9h0M52.6 15.6h0M10.5 80.2h0M139.2 24.7h0M80.8 42.1h0M63.9 43.5h0M132.8 71.3h0M99.4 43.2h0M123.9 68.9h0M88.2 57.3h0M33.5 0.7h0M110.2 30.3h0M133.7 41.2h0M31.9 27.4h0M78.1 50.8h0M49.0 90.4h0M24.6 84.3h0M86.7 24.0h0M64.5 79.9h0M63.0 35.5h0M132.5 93.6h0M8.2 29.2h0M45.7 77.9h0M20.1 22.6h0M107.9 87.9h0M114.6 61.4h0M84.1 3.9h0M31.3 98.5h0M76.0 13.8h0M9.7 88.2h0M99.5 68.2h0M7.4 65.4h0M44.8 65.2h0M24.2 39.9h0M69.7 88.9h0M104.2 96.7h0M106.0 19.2h0M92.0 51.6h0M30.1 19.1h0M131.9 63.9h0M38.4 29.2h0M18.1 39.5h0M83.4 13.9h0M81.0 97.5h0M122.3 30.3h0M125.7 2.9h0M2.6 38.1h0M63.2 12.8h0M100.6 58.4h0M71.5 95.5h0M65.2 25.9h0M56.2 52.9h0M95.4 41.9h0M104.8 0.6h0M139.3 18.1h0M86.8 24.9h0M10.1 89.4h0M118.7 88.4h0M51.9 52.3h0M88.7 64.0h0M115.9 58.2h0M20.0 85.0h0M132.4 55.5h0M120.9 53.6h0M4.8 79.3h0M10.6 12.2h0M124.0 95.9h0M5.9 94.2h0M79.7 92.0h0M137.3 9.6h0M123.9 11.1h0M99.9 97.1h0M37.7 87.6h0M35.2 78.5h0M28.9 58.3h0M47.9 92.0h0M120.2 41.1h0M22.7 35.9h0M18.9 71.5h0M85.4 59.9h0M99.5 39.5h0M72.6 87.0h0M95.0 97.8h0M7.5 18.0h0M16.1 97.3h0M58.2 15.7h0M4.9 61.9h0M70.4 24.4h0M83.2 2.2h0M113.3 0.8h0M40.5 80.3h0M14.2 62.9h0M97.6 79.5h0M86.0 93.4h0M12.1 16.2h0M38.7 72.9h0M118.7 82.5h0M23.9 45.6h0M9.6 88.9h0M18.9 31.9h0M6.1 88.3h0M121.9 14.0h0M26.0 89.8h0M21.2 86.4h0M21.3 44.5h0M19.4 39.5h0M3.2 36.9h0M108.4 33.4h0M42.6 74.5h0M47.0 1.7h0M49.4 18.8h0M0.6 43.3h0M77.6 17.6h0M128.5 64.3h0M98.4 83.1h0M11.3 28.2h0M98.4 21.9h0M107.4 9.3h0M79.0 75.6h0"/><path id="th2" d="M111.8 48.7h0M97.3 21.1h0M128.4 36.0h0M27.5 31.9h0M4.8 98.3h0M60.7 22.0h0M114.3 75.9h0M86.4 7.6h0M71.8 29.4h0M59.2 2.6h0M135.3 58.9h0M26.6 12.3h0M48.2 91.0h0M5.0 66.0h0M69.1 27.4h0M54.9 74.2h0M107.1 27.8h0M112.4 98.4h0M13.3 30.7h0M37.2 34.6h0M79.7 21.1h0M33.0 34.7h0M62.5 92.8h0M8.2 1.6h0M112.3 83.1h0M42.1 81.7h0M91.6 74.1h0M67.7 90.6h0M114.1 26.9h0M14.7 2.2h0M8.0 43.1h0M126.3 84.4h0M82.3 82.4h0M16.2 94.3h0M130.4 9.9h0M84.9 54.4h0M105.1 49.9h0M63.1 48.0h0M56.0 13.0h0M85.4 74.3h0M82.3 77.6h0M69.4 33.3h0M79.0 61.3h0M120.8 28.3h0M32.4 3.2h0"/><path id="tf2" d="M46.0 82.6h0M2.6 6.4h0M130.4 98.5h0M87.1 60.2h0M54.9 95.2h0M76.6 11.0h0M132.1 88.4h0M15.3 69.3h0M30.5 34.6h0M7.7 10.3h0M120.3 66.9h0M108.5 55.5h0M59.2 32.3h0M71.0 89.8h0M106.7 58.9h0M61.8 4.0h0M18.4 25.0h0M82.1 57.1h0M115.7 18.9h0M138.9 91.3h0M14.5 90.6h0M97.8 84.8h0M11.7 59.8h0M24.2 58.2h0M63.9 47.0h0M64.2 50.8h0M35.1 87.3h0M41.7 53.7h0M94.3 78.0h0M127.0 12.9h0M131.3 81.9h0M15.6 3.6h0M14.3 50.9h0M133.3 5.3h0M55.4 83.6h0M43.5 37.9h0M88.2 33.3h0M79.5 44.1h0M136.9 71.7h0M30.2 32.9h0M11.3 64.0h0M104.7 51.5h0M27.3 83.9h0M134.3 90.2h0M17.5 23.5h0M69.0 81.2h0M6.2 76.2h0M30.7 96.4h0M84.8 15.1h0M49.6 73.8h0M43.6 59.2h0M8.8 80.8h0M63.3 28.3h0M43.5 12.9h0M0.4 94.8h0M139.2 39.1h0M3.7 92.6h0M49.8 60.7h0M6.1 7.1h0M130.9 16.4h0M25.8 16.0h0M118.6 67.0h0M85.4 81.9h0M69.1 53.9h0M77.0 61.2h0M118.6 79.9h0M84.0 8.6h0M80.8 50.9h0M61.6 32.6h0M3.8 44.1h0M23.2 41.5h0M133.0 10.9h0M133.9 30.8h0M57.4 44.0h0M44.4 88.3h0M0.6 64.2h0M99.4 49.8h0M129.7 70.4h0M126.2 78.2h0M44.7 59.4h0M72.0 65.4h0M80.2 77.1h0M27.1 18.3h0M102.4 86.1h0M23.2 83.8h0M127.1 77.9h0M130.1 57.8h0M35.0 51.5h0M0.5 64.6h0M100.6 13.0h0M2.2 1.1h0M96.5 41.9h0M14.6 80.3h0M17.8 25.2h0M70.4 93.6h0M61.1 81.1h0M98.0 27.3h0M65.1 85.1h0M81.6 40.2h0M48.7 26.8h0M4.0 92.8h0M19.4 61.0h0M135.6 46.6h0M37.2 81.1h0M92.7 36.5h0M36.5 46.3h0M35.9 2.2h0M20.8 86.0h0M55.5 3.7h0M86.8 29.5h0M88.4 96.5h0M53.9 28.6h0M19.2 74.7h0M39.0 12.5h0M124.7 48.5h0M122.1 88.0h0M101.5 29.2h0M8.0 51.7h0M70.3 54.5h0M140.7 9.2h0M37.7 79.8h0M114.5 73.1h0M80.0 43.5h0M87.2 12.1h0M63.3 33.1h0M58.9 23.8h0M93.6 43.0h0M112.0 67.8h0M48.7 70.9h0M106.5 7.9h0M82.8 45.2h0M67.2 67.0h0M82.9 30.4h0M137.7 95.5h0M68.2 82.7h0M140.1 67.1h0M64.2 88.2h0M133.5 85.0h0M123.0 62.2h0M38.6 39.4h0M79.0 5.1h0M70.7 0.1h0M37.0 27.7h0M137.6 56.2h0M138.2 6.9h0M3.2 79.1h0M3.8 16.5h0M29.3 30.0h0M36.8 38.0h0M15.0 35.0h0M17.3 97.4h0M12.7 71.9h0M49.7 50.6h0M140.5 54.0h0M1.1 48.1h0M63.4 54.0h0M112.5 12.4h0M39.1 81.2h0M3.2 48.1h0M92.3 84.4h0M99.6 1.8h0M35.3 54.0h0M29.1 45.4h0M119.6 38.8h0M122.8 68.6h0M29.9 72.4h0M118.7 29.0h0M123.8 30.4h0M13.1 26.9h0M105.8 66.7h0M76.3 58.2h0M67.0 71.4h0M52.9 47.9h0M117.6 63.1h0M57.8 82.2h0M125.5 35.1h0M103.8 0.1h0M42.9 94.4h0M44.8 16.3h0M111.9 33.7h0M42.2 92.3h0M100.0 45.8h0M69.0 31.4h0M34.4 36.7h0M125.0 91.4h0M100.6 9.2h0M97.6 91.2h0M60.5 28.5h0M98.1 32.7h0M126.0 78.5h0M115.0 33.1h0M25.3 17.3h0M87.1 49.6h0M50.6 85.5h0M87.3 10.8h0M110.3 62.9h0M118.6 9.5h0M63.0 34.4h0M31.0 90.2h0M112.7 15.3h0"/><path id="vd2" d="M60.9 10.3h0M94.1 77.4h0M79.5 87.6h0M27.4 30.2h0M53.1 7.5h0M135.1 36.5h0M28.1 8.3h0M58.2 87.0h0M47.7 38.4h0M71.2 19.7h0M56.1 52.7h0M124.4 69.0h0M80.7 26.0h0M5.8 63.7h0M15.0 58.0h0M5.0 94.5h0M98.0 79.1h0M19.9 39.4h0M8.6 80.0h0M22.6 81.3h0M66.5 6.1h0M98.5 16.5h0M49.9 18.8h0M69.1 11.0h0M96.6 70.9h0M20.3 37.7h0M12.6 16.7h0M96.0 53.5h0M21.5 71.4h0M123.6 56.2h0M56.7 24.9h0M35.6 54.4h0M112.0 13.5h0M49.8 59.8h0M59.9 70.6h0M22.6 36.3h0M26.1 3.3h0M57.8 38.2h0M25.7 89.9h0M35.6 77.5h0M124.4 47.6h0M68.8 73.8h0M95.2 48.5h0M139.2 34.3h0M71.8 81.9h0M58.3 47.9h0M22.9 39.4h0M47.5 91.9h0M32.8 64.2h0M25.3 44.5h0M49.2 37.4h0M90.3 5.2h0M47.0 61.4h0M44.8 35.2h0M128.6 64.8h0M25.5 17.0h0M43.8 94.1h0M11.0 27.8h0M88.8 3.4h0M96.8 23.5h0M73.2 84.6h0M29.8 31.7h0M121.4 65.4h0M72.4 96.2h0M0.8 15.0h0M77.2 79.4h0M12.0 87.8h0M5.3 79.7h0M31.9 58.8h0M116.8 33.3h0M57.9 15.4h0M91.4 12.8h0M69.2 93.6h0M79.1 7.8h0M61.6 79.5h0M86.1 48.3h0M55.7 46.3h0M56.4 1.6h0M75.7 65.0h0M20.3 22.7h0M71.8 68.6h0M52.1 59.9h0M123.3 40.9h0M41.1 63.7h0M82.1 12.2h0M19.8 85.0h0M68.2 12.5h0M84.5 79.1h0M121.2 54.3h0M114.8 88.3h0M82.6 18.1h0M61.3 50.9h0M48.0 7.8h0M37.4 87.8h0M85.7 68.5h0M31.4 98.2h0M77.0 45.4h0M105.7 18.3h0M1.2 21.9h0M32.2 32.0h0M95.3 41.6h0M31.1 61.9h0M35.8 7.4h0M12.1 69.7h0M107.7 9.3h0M85.8 60.1h0M61.7 7.4h0M58.9 16.9h0M73.2 32.1h0M88.3 83.2h0M130.4 35.7h0M128.7 73.6h0M30.7 98.6h0M70.1 53.6h0M84.6 16.2h0M93.1 65.3h0M3.0 72.0h0M67.5 55.9h0M24.4 4.5h0M74.5 27.2h0M-0.4 36.2h0M88.5 57.7h0M136.8 1.6h0M121.7 14.0h0M25.1 74.8h0M35.4 78.9h0M82.9 22.6h0M43.0 9.7h0M75.1 76.5h0M18.2 76.7h0M75.9 92.7h0M59.9 2.0h0M65.1 95.3h0M9.3 31.3h0M18.5 9.9h0M57.5 2.5h0M77.1 30.9h0M52.6 16.0h0M24.0 46.1h0M107.1 50.7h0M58.2 75.0h0M36.4 67.0h0M7.9 63.0h0M7.8 24.5h0M65.9 86.9h0M98.4 78.6h0M98.9 78.2h0M16.5 44.0h0M58.6 4.7h0M36.1 63.8h0M136.8 95.6h0M12.8 66.1h0M70.8 3.2h0M75.8 88.3h0M98.0 83.2h0M37.5 34.3h0M0.3 43.6h0M85.5 37.1h0M90.4 44.4h0M76.8 58.4h0M11.0 59.1h0M51.5 42.0h0M69.8 51.9h0M15.1 36.5h0M30.5 30.3h0M103.3 94.8h0M81.3 84.3h0M24.3 51.4h0M53.2 17.5h0M100.0 68.9h0M23.6 60.1h0M83.4 14.3h0M10.6 8.6h0M21.3 44.8h0M15.8 97.0h0M5.8 74.8h0M79.5 75.4h0M29.1 7.1h0M34.2 33.5h0M70.8 24.0h0M46.4 62.5h0M23.8 39.5h0M24.2 54.0h0M17.1 27.2h0M62.6 26.0h0M29.9 38.4h0M24.6 85.1h0M60.4 21.7h0M26.1 34.1h0M25.5 18.7h0M78.9 79.7h0M18.5 39.9h0M23.6 97.1h0M2.8 13.5h0M71.7 66.3h0M35.3 23.5h0M10.8 96.6h0M43.5 3.7h0M73.5 92.1h0M3.5 92.0h0M9.8 47.1h0M53.1 33.8h0M110.7 82.2h0M72.6 93.5h0M71.2 39.2h0M65.4 70.2h0M110.0 93.2h0M138.9 18.5h0M27.7 73.6h0M119.9 41.6h0M0.2 77.6h0M108.4 81.0h0M10.6 79.9h0M87.9 35.7h0M58.3 80.2h0M46.2 0.4h0M29.7 19.2h0M82.3 38.4h0M38.6 63.4h0M40.2 5.4h0M71.5 83.6h0M130.3 20.7h0M68.3 77.6h0M10.8 91.1h0M59.3 62.2h0M108.1 33.8h0M102.1 38.3h0M94.7 88.1h0M72.4 87.0h0M83.8 62.7h0M35.2 19.5h0M35.9 71.9h0M132.3 94.1h0M8.7 89.4h0M82.5 75.9h0M87.6 85.7h0M88.6 77.1h0M140.1 69.6h0M69.9 14.5h0M56.6 55.3h0M53.7 63.4h0M7.6 17.6h0M15.4 31.6h0M13.5 4.6h0M62.9 35.3h0M81.7 20.0h0M60.3 63.5h0M127.2 9.5h0M70.3 49.4h0M75.5 13.3h0M107.1 67.1h0M73.1 9.0h0M23.9 0.5h0M49.1 96.0h0M82.7 80.1h0M78.4 97.7h0M48.9 97.7h0M37.9 48.9h0M72.9 41.2h0M98.5 21.5h0M34.5 81.9h0M87.1 25.1h0M86.3 93.7h0M95.0 97.6h0M69.3 89.2h0M6.6 93.6h0M93.3 38.9h0M4.0 90.4h0M49.8 14.8h0M133.1 55.1h0M66.1 40.2h0M33.2 83.8h0M90.1 92.7h0M73.8 16.3h0M46.1 77.8h0M84.3 4.2h0M61.1 47.3h0M62.3 74.3h0M67.2 9.0h0M49.4 90.7h0M79.7 68.0h0M52.4 65.4h0M70.9 56.6h0M119.5 44.8h0M77.5 74.9h0M20.9 64.5h0M64.2 79.6h0M3.6 69.6h0M40.1 80.0h0M124.0 88.4h0"/><path id="vf2" d="M12.7 7.9h0M2.3 46.0h0M115.1 52.0h0M76.3 76.8h0M35.8 76.5h0M128.3 33.4h0M48.9 2.1h0M137.1 71.2h0M53.6 0.3h0M81.7 14.3h0M60.1 93.0h0M91.1 39.8h0M114.1 8.1h0M122.4 53.3h0M16.8 11.3h0M85.5 10.8h0M32.9 59.2h0M32.2 17.1h0M7.4 53.6h0M54.2 26.8h0M135.2 0.4h0M10.2 62.0h0M63.9 57.3h0M120.6 64.1h0M54.7 92.2h0M72.6 70.7h0M33.8 25.7h0M140.4 34.0h0M0.1 21.8h0M134.7 12.5h0M46.5 67.1h0M101.2 29.8h0M64.6 67.1h0M120.2 79.8h0M14.9 64.1h0M75.9 34.0h0M97.7 75.5h0M83.4 16.4h0M45.1 64.2h0M12.1 17.5h0M116.1 27.0h0M46.8 78.2h0M109.7 25.2h0M31.5 35.3h0M52.3 52.7h0M97.6 9.8h0M22.1 52.0h0M34.3 50.9h0M78.0 22.8h0M57.3 51.6h0M77.5 61.2h0M132.2 87.6h0M68.4 75.6h0M31.3 50.4h0M105.6 96.4h0M8.4 10.2h0M83.7 84.4h0M47.1 86.2h0M33.6 27.4h0M81.7 37.7h0M26.5 65.3h0M64.5 81.2h0M18.9 41.6h0M69.0 59.3h0M103.0 26.7h0M70.3 26.3h0M127.0 73.7h0M61.4 87.5h0M39.9 97.0h0M62.8 14.8h0M80.3 91.4h0M89.3 78.6h0M24.2 24.0h0M75.0 54.5h0M43.4 89.4h0M112.5 78.1h0M18.2 38.0h0M51.2 24.9h0M118.4 94.6h0M57.7 15.1h0M140.2 49.1h0M0.8 32.1h0M69.3 18.4h0M65.8 45.9h0M21.3 25.9h0M133.5 37.9h0M10.2 61.8h0M21.5 49.5h0M115.6 81.6h0M83.3 66.4h0M114.7 19.2h0M104.2 58.6h0M118.0 32.9h0M43.6 49.7h0M111.6 42.4h0M126.6 71.2h0M109.9 68.1h0M107.8 89.2h0M7.7 76.3h0M102.1 30.5h0M48.2 76.4h0M73.1 83.1h0M63.9 11.6h0M95.3 46.5h0M92.5 54.5h0M53.9 87.8h0M34.3 13.9h0M84.7 18.7h0M41.0 92.0h0M96.7 61.2h0M73.6 18.1h0M117.8 5.0h0M125.0 46.6h0M72.7 79.5h0M49.6 58.9h0M119.5 37.0h0M20.9 13.1h0M95.6 94.5h0M10.8 48.2h0M8.7 63.6h0M93.6 47.7h0M107.2 11.6h0M4.8 90.5h0M23.0 12.6h0M58.5 80.8h0M82.7 47.1h0M81.8 92.0h0M95.7 46.0h0M88.2 61.4h0M52.2 17.7h0M38.9 25.1h0M13.7 88.3h0M65.9 30.1h0M112.8 54.9h0M85.2 48.2h0M98.1 49.4h0M5.8 21.9h0M125.1 56.2h0M70.6 14.4h0M122.8 88.0h0M117.6 33.4h0M26.0 49.0h0M101.8 33.7h0M120.2 67.3h0M112.7 78.2h0M75.6 21.8h0M116.2 6.6h0M127.7 29.5h0M129.3 24.5h0M111.7 70.3h0M12.3 96.6h0M83.6 85.4h0M12.0 47.3h0M24.3 18.6h0M39.9 94.4h0M140.6 29.6h0M27.2 96.9h0M35.9 78.9h0M63.4 27.7h0M20.9 79.7h0M54.7 29.6h0M29.0 1.9h0M24.8 22.3h0M114.9 92.5h0M22.6 8.2h0M10.1 41.4h0M75.6 49.3h0M48.1 51.7h0M97.3 77.1h0M11.3 21.1h0M81.2 68.9h0M126.0 95.8h0M8.0 97.8h0M101.2 94.4h0M18.4 87.0h0M90.8 50.7h0M115.1 31.3h0M12.2 90.2h0M54.6 55.2h0M51.5 33.8h0M27.0 8.2h0M139.6 30.5h0M41.4 80.2h0M4.7 15.1h0M94.0 42.4h0M68.6 97.2h0M105.3 65.3h0M79.1 63.2h0M114.8 69.9h0M7.6 46.1h0M85.9 30.5h0M86.0 2.1h0M48.6 19.3h0M25.0 69.8h0M91.1 90.6h0M101.7 27.6h0M114.3 12.3h0M13.6 2.7h0M21.7 74.7h0M122.9 10.6h0M55.6 14.3h0M59.8 36.0h0M34.1 97.0h0M66.9 13.2h0M67.9 9.1h0M55.4 82.9h0M135.9 47.3h0M98.2 72.5h0M7.2 21.0h0M6.8 80.5h0M105.7 3.2h0M73.6 15.6h0M28.7 38.6h0M128.5 72.1h0M36.9 66.6h0M94.4 45.7h0M18.5 22.4h0M90.6 73.5h0M18.6 44.7h0M140.4 70.4h0M78.4 79.6h0M115.5 88.9h0M129.3 4.4h0M49.0 76.2h0M85.7 61.1h0M125.3 8.1h0M139.6 25.4h0M65.7 37.7h0M104.0 94.7h0M136.9 67.5h0M117.1 81.6h0M49.2 46.4h0M7.7 70.4h0M112.9 83.3h0M100.9 59.4h0M61.7 83.6h0M55.6 48.2h0M56.3 44.6h0M45.7 36.2h0M3.7 42.1h0M136.9 9.8h0M86.5 80.0h0M103.8 17.1h0M16.8 25.6h0M7.4 80.3h0M96.9 40.0h0M114.1 20.1h0M87.5 13.8h0M14.7 64.0h0M140.3 53.5h0M93.3 72.1h0M51.3 6.6h0M128.1 56.9h0M79.8 29.4h0M27.6 92.3h0M115.9 1.1h0M81.6 31.7h0M117.8 41.8h0M74.4 61.1h0M9.8 14.4h0M104.5 35.1h0M99.5 5.2h0M139.0 38.4h0M2.3 71.4h0M100.7 66.1h0M123.8 25.2h0M132.3 69.5h0M102.3 60.1h0M74.8 29.3h0M101.2 78.1h0M13.8 63.0h0M35.5 91.4h0M67.1 41.2h0M54.5 87.9h0M81.1 62.9h0M140.5 29.4h0M125.8 86.7h0M93.5 4.3h0M74.0 89.0h0M74.9 53.6h0M44.8 20.1h0M47.7 53.6h0M97.4 93.6h0M102.0 68.4h0M68.9 21.3h0M47.4 18.5h0M18.6 54.7h0M112.3 48.4h0M119.2 88.8h0M63.0 23.1h0M121.2 33.5h0M139.5 28.3h0M73.1 72.6h0M101.8 35.0h0M9.5 6.7h0M104.8 18.2h0M48.8 71.3h0M132.7 87.1h0M107.9 8.4h0M89.9 74.5h0"/></defs>
<text x="6.5" y="21.6" font-size="18" font-weight="normal" text-anchor="start" fill="#000" >A</text>
<text x="106.7" y="35.2" font-size="12" font-weight="normal" text-anchor="start" fill="#000" >Con</text>
<text x="216.4" y="35.2" font-size="12" font-weight="normal" text-anchor="start" fill="#000" >MPP+</text>
<text x="343" y="35.2" font-size="12" font-weight="normal" text-anchor="start" fill="#000" >Cur</text>
<text x="443.1" y="35.2" font-size="12" font-weight="normal" text-anchor="start" fill="#000" >Cur-NPs</text>
<text x="545.1" y="35.2" font-size="12" font-weight="normal" text-anchor="start" fill="#000" >MM-Cur-NPs</text>
<text x="53.5" y="89.9" font-size="12" font-weight="normal" text-anchor="end" fill="#000" >OM</text>
<text x="53.5" y="175.9" font-size="12" font-weight="normal" text-anchor="end" fill="#000" >Mon</text>
<text x="53.5" y="265.6" font-size="12" font-weight="normal" text-anchor="end" fill="#000" >Agg</text>
<text x="53.5" y="355.7" font-size="12" font-weight="normal" text-anchor="end" fill="#000" >Merge</text>
<svg x="61.0" y="40.0" width="115" height="84.7" viewBox="0 0 115 84.7" overflow="hidden"><rect width="115" height="84.7" fill="#7f7f7f"/>
<g filter="url(#om0)"><rect x="-14.0" y="-14.0" width="33.2" height="35.2" fill="#b2b2b2"/><rect x="19.2" y="-14.0" width="19.2" height="35.2" fill="#808080"/><rect x="38.3" y="-14.0" width="19.2" height="35.2" fill="#1a1a1a"/><rect x="57.5" y="-14.0" width="19.2" height="35.2" fill="#000000"/><rect x="76.7" y="-14.0" width="19.2" height="35.2" fill="#737373"/><rect x="95.8" y="-14.0" width="33.2" height="35.2" fill="#b2b2b2"/><rect x="-14.0" y="21.2" width="33.2" height="21.2" fill="#999999"/><rect x="19.2" y="21.2" width="19.2" height="21.2" fill="#cccccc"/><rect x="38.3" y="21.2" width="19.2" height="21.2" fill="#808080"/><rect x="57.5" y="21.2" width="19.2" height="21.2" fill="#1a1a1a"/><rect x="76.7" y="21.2" width="19.2" height="21.2" fill="#999999"/><rect x="95.8" y="21.2" width="33.2" height="21.2" fill="#b2b2b2"/><rect x="-14.0" y="42.4" width="33.2" height="21.2" fill="#4c4c4c"/><rect x="19.2" y="42.4" width="19.2" height="21.2" fill="#cccccc"/><rect x="38.3" y="42.4" width="19.2" height="21.2" fill="#999999"/><rect x="57.5" y="42.4" width="19.2" height="21.2" fill="#1a1a1a"/><rect x="76.7" y="42.4" width="19.2" height="21.2" fill="#999999"/><rect x="95.8" y="42.4" width="33.2" height="21.2" fill="#808080"/><rect x="-14.0" y="63.5" width="33.2" height="35.2" fill="#4c4c4c"/><rect x="19.2" y="63.5" width="19.2" height="35.2" fill="#808080"/><rect x="38.3" y="63.5" width="19.2" height="35.2" fill="#808080"/><rect x="57.5" y="63.5" width="19.2" height="35.2" fill="#1a1a1a"/><rect x="76.7" y="63.5" width="19.2" height="35.2" fill="#4c4c4c"/><rect x="95.8" y="63.5" width="33.2" height="35.2" fill="#333333"/></g>
<g fill="none" filter="url(#soft2)"><use href="#cga0" x="-0.5" y="-0.5" stroke="#b4b4b4" stroke-width="0.9" opacity="0.55"/><use href="#cga0" x="0.5" y="0.5" stroke="#404040" stroke-width="0.8" opacity="0.5" stroke-dasharray="1.5 1.8"/></g>
<rect x="0.4" y="0.4" width="114.2" height="83.9" fill="none" stroke="#5a5a5a" stroke-width="0.9" opacity="0.8"/>
<rect x="68" y="75.9" width="44" height="1.8" fill="#fff"/></svg>
<svg x="61.0" y="129.6" width="115" height="84.7" viewBox="0 0 115 84.7" overflow="hidden"><rect width="115" height="84.7" fill="#000"/>
<g filter="url(#bl6)"><rect x="-14.0" y="-14.0" width="33.2" height="35.2" fill="#060d06"/><rect x="19.2" y="-14.0" width="19.2" height="35.2" fill="#060d06"/><rect x="38.3" y="-14.0" width="19.2" height="35.2" fill="#060d06"/><rect x="57.5" y="-14.0" width="19.2" height="35.2" fill="#060d06"/><rect x="76.7" y="-14.0" width="19.2" height="35.2" fill="#060d06"/><rect x="95.8" y="-14.0" width="33.2" height="35.2" fill="#060d06"/><rect x="-14.0" y="21.2" width="33.2" height="21.2" fill="#060d06"/><rect x="19.2" y="21.2" width="19.2" height="21.2" fill="#060d06"/><rect x="38.3" y="21.2" width="19.2" height="21.2" fill="#060d06"/><rect x="57.5" y="21.2" width="19.2" height="21.2" fill="#060d06"/><rect x="76.7" y="21.2" width="19.2" height="21.2" fill="#060d06"/><rect x="95.8" y="21.2" width="33.2" height="21.2" fill="#060d06"/><rect x="-14.0" y="42.4" width="33.2" height="21.2" fill="#060d06"/><rect x="19.2" y="42.4" width="19.2" height="21.2" fill="#060d06"/><rect x="38.3" y="42.4" width="19.2" height="21.2" fill="#060d06"/><rect x="57.5" y="42.4" width="19.2" height="21.2" fill="#060d06"/><rect x="76.7" y="42.4" width="19.2" height="21.2" fill="#060d06"/><rect x="95.8" y="42.4" width="33.2" height="21.2" fill="#060d06"/><rect x="-14.0" y="63.5" width="33.2" height="35.2" fill="#060d06"/><rect x="19.2" y="63.5" width="19.2" height="35.2" fill="#060d06"/><rect x="38.3" y="63.5" width="19.2" height="35.2" fill="#060d06"/><rect x="57.5" y="63.5" width="19.2" height="35.2" fill="#060d06"/><rect x="76.7" y="63.5" width="19.2" height="35.2" fill="#060d06"/><rect x="95.8" y="63.5" width="33.2" height="35.2" fill="#060d06"/></g>
<g style="mix-blend-mode:multiply" filter="url(#mk0)"><rect width="115" height="84.7" fill="#1c1c1c"/><use href="#cl0"/></g>
<rect x="0.4" y="0.4" width="114.2" height="83.9" fill="none" stroke="#000" stroke-width="0.9" opacity="0.8"/>
<rect x="68" y="75.9" width="44" height="1.8" fill="#fff"/></svg>
<svg x="61.0" y="219.2" width="115" height="84.7" viewBox="0 0 115 84.7" overflow="hidden"><rect width="115" height="84.7" fill="#000"/>
<g filter="url(#bl6)"><rect x="-14.0" y="-14.0" width="33.2" height="35.2" fill="#861515"/><rect x="19.2" y="-14.0" width="19.2" height="35.2" fill="#6b1111"/><rect x="38.3" y="-14.0" width="19.2" height="35.2" fill="#480b0b"/><rect x="57.5" y="-14.0" width="19.2" height="35.2" fill="#320808"/><rect x="76.7" y="-14.0" width="19.2" height="35.2" fill="#5d0f0f"/><rect x="95.8" y="-14.0" width="33.2" height="35.2" fill="#7d1414"/><rect x="-14.0" y="21.2" width="33.2" height="21.2" fill="#7d1414"/><rect x="19.2" y="21.2" width="19.2" height="21.2" fill="#7d1414"/><rect x="38.3" y="21.2" width="19.2" height="21.2" fill="#741212"/><rect x="57.5" y="21.2" width="19.2" height="21.2" fill="#5a0e0e"/><rect x="76.7" y="21.2" width="19.2" height="21.2" fill="#811414"/><rect x="95.8" y="21.2" width="33.2" height="21.2" fill="#7d1414"/><rect x="-14.0" y="42.4" width="33.2" height="21.2" fill="#5a0e0e"/><rect x="19.2" y="42.4" width="19.2" height="21.2" fill="#811414"/><rect x="38.3" y="42.4" width="19.2" height="21.2" fill="#5d0f0f"/><rect x="57.5" y="42.4" width="19.2" height="21.2" fill="#5d0f0f"/><rect x="76.7" y="42.4" width="19.2" height="21.2" fill="#7d1414"/><rect x="95.8" y="42.4" width="33.2" height="21.2" fill="#641010"/><rect x="-14.0" y="63.5" width="33.2" height="35.2" fill="#480b0b"/><rect x="19.2" y="63.5" width="19.2" height="35.2" fill="#6b1111"/><rect x="38.3" y="63.5" width="19.2" height="35.2" fill="#510d0d"/><rect x="57.5" y="63.5" width="19.2" height="35.2" fill="#560d0d"/><rect x="76.7" y="63.5" width="19.2" height="35.2" fill="#6b1111"/><rect x="95.8" y="63.5" width="33.2" height="35.2" fill="#480b0b"/></g>
<g style="mix-blend-mode:multiply" filter="url(#mk0)"><rect width="115" height="84.7" fill="#1c1c1c"/><use href="#cl0"/></g>
<rect x="0.4" y="0.4" width="114.2" height="83.9" fill="none" stroke="#000" stroke-width="0.9" opacity="0.8"/>
<rect x="68" y="75.9" width="44" height="1.8" fill="#fff"/></svg>
<svg x="61.0" y="308.8" width="115" height="84.7" viewBox="0 0 115 84.7" overflow="hidden"><rect width="115" height="84.7" fill="#000"/>
<g filter="url(#bl6)"><rect x="-14.0" y="-14.0" width="33.2" height="35.2" fill="#861515"/><rect x="19.2" y="-14.0" width="19.2" height="35.2" fill="#6b1111"/><rect x="38.3" y="-14.0" width="19.2" height="35.2" fill="#480b0b"/><rect x="57.5" y="-14.0" width="19.2" height="35.2" fill="#320808"/><rect x="76.7" y="-14.0" width="19.2" height="35.2" fill="#5d0f0f"/><rect x="95.8" y="-14.0" width="33.2" height="35.2" fill="#7d1414"/><rect x="-14.0" y="21.2" width="33.2" height="21.2" fill="#7d1414"/><rect x="19.2" y="21.2" width="19.2" height="21.2" fill="#7d1414"/><rect x="38.3" y="21.2" width="19.2" height="21.2" fill="#741212"/><rect x="57.5" y="21.2" width="19.2" height="21.2" fill="#5a0e0e"/><rect x="76.7" y="21.2" width="19.2" height="21.2" fill="#811414"/><rect x="95.8" y="21.2" width="33.2" height="21.2" fill="#7d1414"/><rect x="-14.0" y="42.4" width="33.2" height="21.2" fill="#5a0e0e"/><rect x="19.2" y="42.4" width="19.2" height="21.2" fill="#811414"/><rect x="38.3" y="42.4" width="19.2" height="21.2" fill="#5d0f0f"/><rect x="57.5" y="42.4" width="19.2" height="21.2" fill="#5d0f0f"/><rect x="76.7" y="42.4" width="19.2" height="21.2" fill="#7d1414"/><rect x="95.8" y="42.4" width="33.2" height="21.2" fill="#641010"/><rect x="-14.0" y="63.5" width="33.2" height="35.2" fill="#480b0b"/><rect x="19.2" y="63.5" width="19.2" height="35.2" fill="#6b1111"/><rect x="38.3" y="63.5" width="19.2" height="35.2" fill="#510d0d"/><rect x="57.5" y="63.5" width="19.2" height="35.2" fill="#560d0d"/><rect x="76.7" y="63.5" width="19.2" height="35.2" fill="#6b1111"/><rect x="95.8" y="63.5" width="33.2" height="35.2" fill="#480b0b"/></g>
<g style="mix-blend-mode:multiply" filter="url(#mk0)"><rect width="115" height="84.7" fill="#1c1c1c"/><use href="#cl0"/></g>
<rect x="0.4" y="0.4" width="114.2" height="83.9" fill="none" stroke="#000" stroke-width="0.9" opacity="0.8"/>
<rect x="68" y="75.9" width="44" height="1.8" fill="#fff"/></svg>
<svg x="179.0" y="40.0" width="115" height="84.7" viewBox="0 0 115 84.7" overflow="hidden"><rect width="115" height="84.7" fill="#7f7f7f"/>
<g filter="url(#om1)"><rect x="-14.0" y="-14.0" width="33.2" height="35.2" fill="#b2b2b2"/><rect x="19.2" y="-14.0" width="19.2" height="35.2" fill="#cccccc"/><rect x="38.3" y="-14.0" width="19.2" height="35.2" fill="#b2b2b2"/><rect x="57.5" y="-14.0" width="19.2" height="35.2" fill="#808080"/><rect x="76.7" y="-14.0" width="19.2" height="35.2" fill="#666666"/><rect x="95.8" y="-14.0" width="33.2" height="35.2" fill="#b2b2b2"/><rect x="-14.0" y="21.2" width="33.2" height="21.2" fill="#666666"/><rect x="19.2" y="21.2" width="19.2" height="21.2" fill="#cccccc"/><rect x="38.3" y="21.2" width="19.2" height="21.2" fill="#cccccc"/><rect x="57.5" y="21.2" width="19.2" height="21.2" fill="#4c4c4c"/><rect x="76.7" y="21.2" width="19.2" height="21.2" fill="#4c4c4c"/><rect x="95.8" y="21.2" width="33.2" height="21.2" fill="#cccccc"/><rect x="-14.0" y="42.4" width="33.2" height="21.2" fill="#b2b2b2"/><rect x="19.2" y="42.4" width="19.2" height="21.2" fill="#cccccc"/><rect x="38.3" y="42.4" width="19.2" height="21.2" fill="#cccccc"/><rect x="57.5" y="42.4" width="19.2" height="21.2" fill="#cccccc"/><rect x="76.7" y="42.4" width="19.2" height="21.2" fill="#cccccc"/><rect x="95.8" y="42.4" width="33.2" height="21.2" fill="#cccccc"/><rect x="-14.0" y="63.5" width="33.2" height="35.2" fill="#cccccc"/><rect x="19.2" y="63.5" width="19.2" height="35.2" fill="#cccccc"/><rect x="38.3" y="63.5" width="19.2" height="35.2" fill="#cccccc"/><rect x="57.5" y="63.5" width="19.2" height="35.2" fill="#cccccc"/><rect x="76.7" y="63.5" width="19.2" height="35.2" fill="#cccccc"/><rect x="95.8" y="63.5" width="33.2" height="35.2" fill="#b2b2b2"/></g>
<g fill="none" filter="url(#soft2)"><use href="#cga1" x="-0.5" y="-0.5" stroke="#b4b4b4" stroke-width="0.9" opacity="0.55"/><use href="#cga1" x="0.5" y="0.5" stroke="#404040" stroke-width="0.8" opacity="0.5" stroke-dasharray="1.5 1.8"/></g>
<rect x="0.4" y="0.4" width="114.2" height="83.9" fill="none" stroke="#5a5a5a" stroke-width="0.9" opacity="0.8"/>
<rect x="68" y="75.9" width="44" height="1.8" fill="#fff"/></svg>
<svg x="179.0" y="129.6" width="115" height="84.7" viewBox="0 0 115 84.7" overflow="hidden"><rect width="115" height="84.7" fill="#000"/>
<g filter="url(#bl6)"><rect x="-14.0" y="-14.0" width="33.2" height="35.2" fill="#1c781c"/><rect x="19.2" y="-14.0" width="19.2" height="35.2" fill="#1a711a"/><rect x="38.3" y="-14.0" width="19.2" height="35.2" fill="#176317"/><rect x="57.5" y="-14.0" width="19.2" height="35.2" fill="#0f3f0f"/><rect x="76.7" y="-14.0" width="19.2" height="35.2" fill="#145514"/><rect x="95.8" y="-14.0" width="33.2" height="35.2" fill="#104610"/><rect x="-14.0" y="21.2" width="33.2" height="21.2" fill="#104610"/><rect x="19.2" y="21.2" width="19.2" height="21.2" fill="#196a19"/><rect x="38.3" y="21.2" width="19.2" height="21.2" fill="#176317"/><rect x="57.5" y="21.2" width="19.2" height="21.2" fill="#0d380d"/><rect x="76.7" y="21.2" width="19.2" height="21.2" fill="#145514"/><rect x="95.8" y="21.2" width="33.2" height="21.2" fill="#104610"/><rect x="-14.0" y="42.4" width="33.2" height="21.2" fill="#0a2a0a"/><rect x="19.2" y="42.4" width="19.2" height="21.2" fill="#124e12"/><rect x="38.3" y="42.4" width="19.2" height="21.2" fill="#155c15"/><rect x="57.5" y="42.4" width="19.2" height="21.2" fill="#104610"/><rect x="76.7" y="42.4" width="19.2" height="21.2" fill="#0f3f0f"/><rect x="95.8" y="42.4" width="33.2" height="21.2" fill="#0d380d"/><rect x="-14.0" y="63.5" width="33.2" height="35.2" fill="#082308"/><rect x="19.2" y="63.5" width="19.2" height="35.2" fill="#0d380d"/><rect x="38.3" y="63.5" width="19.2" height="35.2" fill="#104610"/><rect x="57.5" y="63.5" width="19.2" height="35.2" fill="#0d380d"/><rect x="76.7" y="63.5" width="19.2" height="35.2" fill="#0f3f0f"/><rect x="95.8" y="63.5" width="33.2" height="35.2" fill="#0c310c"/></g>
<g style="mix-blend-mode:multiply" filter="url(#mk1)"><rect width="115" height="84.7" fill="#2c2c2c"/><use href="#cl1"/></g>
<rect x="0.4" y="0.4" width="114.2" height="83.9" fill="none" stroke="#000" stroke-width="0.9" opacity="0.8"/>
<rect x="68" y="75.9" width="44" height="1.8" fill="#fff"/></svg>
<svg x="179.0" y="219.2" width="115" height="84.7" viewBox="0 0 115 84.7" overflow="hidden"><rect width="115" height="84.7" fill="#000"/>
<g filter="url(#bl6)"><rect x="-14.0" y="-14.0" width="33.2" height="35.2" fill="#070101"/><rect x="19.2" y="-14.0" width="19.2" height="35.2" fill="#070101"/><rect x="38.3" y="-14.0" width="19.2" height="35.2" fill="#070101"/><rect x="57.5" y="-14.0" width="19.2" height="35.2" fill="#070101"/><rect x="76.7" y="-14.0" width="19.2" height="35.2" fill="#070101"/><rect x="95.8" y="-14.0" width="33.2" height="35.2" fill="#070101"/><rect x="-14.0" y="21.2" width="33.2" height="21.2" fill="#070101"/><rect x="19.2" y="21.2" width="19.2" height="21.2" fill="#070101"/><rect x="38.3" y="21.2" width="19.2" height="21.2" fill="#070101"/><rect x="57.5" y="21.2" width="19.2" height="21.2" fill="#070101"/><rect x="76.7" y="21.2" width="19.2" height="21.2" fill="#070101"/><rect x="95.8" y="21.2" width="33.2" height="21.2" fill="#070101"/><rect x="-14.0" y="42.4" width="33.2" height="21.2" fill="#070101"/><rect x="19.2" y="42.4" width="19.2" height="21.2" fill="#070101"/><rect x="38.3" y="42.4" width="19.2" height="21.2" fill="#070101"/><rect x="57.5" y="42.4" width="19.2" height="21.2" fill="#070101"/><rect x="76.7" y="42.4" width="19.2" height="21.2" fill="#070101"/><rect x="95.8" y="42.4" width="33.2" height="21.2" fill="#070101"/><rect x="-14.0" y="63.5" width="33.2" height="35.2" fill="#070101"/><rect x="19.2" y="63.5" width="19.2" height="35.2" fill="#070101"/><rect x="38.3" y="63.5" width="19.2" height="35.2" fill="#070101"/><rect x="57.5" y="63.5" width="19.2" height="35.2" fill="#070101"/><rect x="76.7" y="63.5" width="19.2" height="35.2" fill="#070101"/><rect x="95.8" y="63.5" width="33.2" height="35.2" fill="#070101"/></g>
<g style="mix-blend-mode:multiply" filter="url(#mk1)"><rect width="115" height="84.7" fill="#2c2c2c"/><use href="#cl1"/></g>
<path fill="none" stroke="#801414" stroke-width="2.6" stroke-linecap="round" opacity="0.75" filter="url(#soft)" d="M93.3 12.2h0M103.2 59.8h0M43.2 37.1h0M23.1 16.0h0M78.6 62.9h0M37.0 57.2h0M54.1 45.9h0M95.1 22.7h0M35.7 36.8h0"/>
<rect x="0.4" y="0.4" width="114.2" height="83.9" fill="none" stroke="#000" stroke-width="0.9" opacity="0.8"/>
<rect x="68" y="75.9" width="44" height="1.8" fill="#fff"/></svg>
<svg x="179.0" y="308.8" width="115" height="84.7" viewBox="0 0 115 84.7" overflow="hidden"><rect width="115" height="84.7" fill="#000"/>
<g filter="url(#bl6)"><rect x="-14.0" y="-14.0" width="33.2" height="35.2" fill="#196919"/><rect x="19.2" y="-14.0" width="19.2" height="35.2" fill="#176217"/><rect x="38.3" y="-14.0" width="19.2" height="35.2" fill="#145614"/><rect x="57.5" y="-14.0" width="19.2" height="35.2" fill="#0d370d"/><rect x="76.7" y="-14.0" width="19.2" height="35.2" fill="#114a11"/><rect x="95.8" y="-14.0" width="33.2" height="35.2" fill="#0e3e0e"/><rect x="-14.0" y="21.2" width="33.2" height="21.2" fill="#0e3e0e"/><rect x="19.2" y="21.2" width="19.2" height="21.2" fill="#165c16"/><rect x="38.3" y="21.2" width="19.2" height="21.2" fill="#145614"/><rect x="57.5" y="21.2" width="19.2" height="21.2" fill="#0c310c"/><rect x="76.7" y="21.2" width="19.2" height="21.2" fill="#114a11"/><rect x="95.8" y="21.2" width="33.2" height="21.2" fill="#0e3e0e"/><rect x="-14.0" y="42.4" width="33.2" height="21.2" fill="#092509"/><rect x="19.2" y="42.4" width="19.2" height="21.2" fill="#104410"/><rect x="38.3" y="42.4" width="19.2" height="21.2" fill="#135013"/><rect x="57.5" y="42.4" width="19.2" height="21.2" fill="#0e3e0e"/><rect x="76.7" y="42.4" width="19.2" height="21.2" fill="#0d370d"/><rect x="95.8" y="42.4" width="33.2" height="21.2" fill="#0c310c"/><rect x="-14.0" y="63.5" width="33.2" height="35.2" fill="#071f07"/><rect x="19.2" y="63.5" width="19.2" height="35.2" fill="#0c310c"/><rect x="38.3" y="63.5" width="19.2" height="35.2" fill="#0e3e0e"/><rect x="57.5" y="63.5" width="19.2" height="35.2" fill="#0c310c"/><rect x="76.7" y="63.5" width="19.2" height="35.2" fill="#0d370d"/><rect x="95.8" y="63.5" width="33.2" height="35.2" fill="#0a2b0a"/></g>
<g style="mix-blend-mode:multiply" filter="url(#mk1)"><rect width="115" height="84.7" fill="#2c2c2c"/><use href="#cl1"/></g>
<rect x="0.4" y="0.4" width="114.2" height="83.9" fill="none" stroke="#000" stroke-width="0.9" opacity="0.8"/>
<rect x="68" y="75.9" width="44" height="1.8" fill="#fff"/></svg>
<svg x="297.0" y="40.0" width="115" height="84.7" viewBox="0 0 115 84.7" overflow="hidden"><rect width="115" height="84.7" fill="#7f7f7f"/>
<g filter="url(#om2)"><rect x="-14.0" y="-14.0" width="33.2" height="35.2" fill="#e6e6e6"/><rect x="19.2" y="-14.0" width="19.2" height="35.2" fill="#cccccc"/><rect x="38.3" y="-14.0" width="19.2" height="35.2" fill="#666666"/><rect x="57.5" y="-14.0" width="19.2" height="35.2" fill="#b2b2b2"/><rect x="76.7" y="-14.0" width="19.2" height="35.2" fill="#e6e6e6"/><rect x="95.8" y="-14.0" width="33.2" height="35.2" fill="#e6e6e6"/><rect x="-14.0" y="21.2" width="33.2" height="21.2" fill="#cccccc"/><rect x="19.2" y="21.2" width="19.2" height="21.2" fill="#cccccc"/><rect x="38.3" y="21.2" width="19.2" height="21.2" fill="#808080"/><rect x="57.5" y="21.2" width="19.2" height="21.2" fill="#cccccc"/><rect x="76.7" y="21.2" width="19.2" height="21.2" fill="#e6e6e6"/><rect x="95.8" y="21.2" width="33.2" height="21.2" fill="#e6e6e6"/><rect x="-14.0" y="42.4" width="33.2" height="21.2" fill="#4c4c4c"/><rect x="19.2" y="42.4" width="19.2" height="21.2" fill="#b2b2b2"/><rect x="38.3" y="42.4" width="19.2" height="21.2" fill="#b2b2b2"/><rect x="57.5" y="42.4" width="19.2" height="21.2" fill="#e6e6e6"/><rect x="76.7" y="42.4" width="19.2" height="21.2" fill="#e6e6e6"/><rect x="95.8" y="42.4" width="33.2" height="21.2" fill="#e6e6e6"/><rect x="-14.0" y="63.5" width="33.2" height="35.2" fill="#666666"/><rect x="19.2" y="63.5" width="19.2" height="35.2" fill="#cccccc"/><rect x="38.3" y="63.5" width="19.2" height="35.2" fill="#999999"/><rect x="57.5" y="63.5" width="19.2" height="35.2" fill="#cccccc"/><rect x="76.7" y="63.5" width="19.2" height="35.2" fill="#e6e6e6"/><rect x="95.8" y="63.5" width="33.2" height="35.2" fill="#cccccc"/></g>
<g fill="none" filter="url(#soft2)"><use href="#cga2" x="-0.5" y="-0.5" stroke="#b4b4b4" stroke-width="0.9" opacity="0.55"/><use href="#cga2" x="0.5" y="0.5" stroke="#404040" stroke-width="0.8" opacity="0.5" stroke-dasharray="1.5 1.8"/></g>
<rect x="0.4" y="0.4" width="114.2" height="83.9" fill="none" stroke="#5a5a5a" stroke-width="0.9" opacity="0.8"/>
<rect x="68" y="75.9" width="44" height="1.8" fill="#fff"/></svg>
<svg x="297.0" y="129.6" width="115" height="84.7" viewBox="0 0 115 84.7" overflow="hidden"><rect width="115" height="84.7" fill="#000"/>
<g filter="url(#bl6)"><rect x="-14.0" y="-14.0" width="33.2" height="35.2" fill="#081a08"/><rect x="19.2" y="-14.0" width="19.2" height="35.2" fill="#071707"/><rect x="38.3" y="-14.0" width="19.2" height="35.2" fill="#071707"/><rect x="57.5" y="-14.0" width="19.2" height="35.2" fill="#081a08"/><rect x="76.7" y="-14.0" width="19.2" height="35.2" fill="#071707"/><rect x="95.8" y="-14.0" width="33.2" height="35.2" fill="#081a08"/><rect x="-14.0" y="21.2" width="33.2" height="21.2" fill="#081a08"/><rect x="19.2" y="21.2" width="19.2" height="21.2" fill="#071707"/><rect x="38.3" y="21.2" width="19.2" height="21.2" fill="#061406"/><rect x="57.5" y="21.2" width="19.2" height="21.2" fill="#081a08"/><rect x="76.7" y="21.2" width="19.2" height="21.2" fill="#081a08"/><rect x="95.8" y="21.2" width="33.2" height="21.2" fill="#071707"/><rect x="-14.0" y="42.4" width="33.2" height="21.2" fill="#071707"/><rect x="19.2" y="42.4" width="19.2" height="21.2" fill="#061406"/><rect x="38.3" y="42.4" width="19.2" height="21.2" fill="#061406"/><rect x="57.5" y="42.4" width="19.2" height="21.2" fill="#071707"/><rect x="76.7" y="42.4" width="19.2" height="21.2" fill="#081a08"/><rect x="95.8" y="42.4" width="33.2" height="21.2" fill="#081a08"/><rect x="-14.0" y="63.5" width="33.2" height="35.2" fill="#051005"/><rect x="19.2" y="63.5" width="19.2" height="35.2" fill="#061406"/><rect x="38.3" y="63.5" width="19.2" height="35.2" fill="#071707"/><rect x="57.5" y="63.5" width="19.2" height="35.2" fill="#071707"/><rect x="76.7" y="63.5" width="19.2" height="35.2" fill="#071707"/><rect x="95.8" y="63.5" width="33.2" height="35.2" fill="#061406"/></g>
<g style="mix-blend-mode:multiply" filter="url(#mk2)"><rect width="115" height="84.7" fill="#101010"/><use href="#cl2"/></g>
<rect x="0.4" y="0.4" width="114.2" height="83.9" fill="none" stroke="#000" stroke-width="0.9" opacity="0.8"/>
<rect x="68" y="75.9" width="44" height="1.8" fill="#fff"/></svg>
<svg x="297.0" y="219.2" width="115" height="84.7" viewBox="0 0 115 84.7" overflow="hidden"><rect width="115" height="84.7" fill="#000"/>
<g filter="url(#bl6)"><rect x="-14.0" y="-14.0" width="33.2" height="35.2" fill="#2b0909"/><rect x="19.2" y="-14.0" width="19.2" height="35.2" fill="#260808"/><rect x="38.3" y="-14.0" width="19.2" height="35.2" fill="#260808"/><rect x="57.5" y="-14.0" width="19.2" height="35.2" fill="#2b0909"/><rect x="76.7" y="-14.0" width="19.2" height="35.2" fill="#260808"/><rect x="95.8" y="-14.0" width="33.2" height="35.2" fill="#2b0909"/><rect x="-14.0" y="21.2" width="33.2" height="21.2" fill="#2b0909"/><rect x="19.2" y="21.2" width="19.2" height="21.2" fill="#260808"/><rect x="38.3" y="21.2" width="19.2" height="21.2" fill="#200707"/><rect x="57.5" y="21.2" width="19.2" height="21.2" fill="#2b0909"/><rect x="76.7" y="21.2" width="19.2" height="21.2" fill="#2b0909"/><rect x="95.8" y="21.2" width="33.2" height="21.2" fill="#260808"/><rect x="-14.0" y="42.4" width="33.2" height="21.2" fill="#260808"/><rect x="19.2" y="42.4" width="19.2" height="21.2" fill="#200707"/><rect x="38.3" y="42.4" width="19.2" height="21.2" fill="#200707"/><rect x="57.5" y="42.4" width="19.2" height="21.2" fill="#260808"/><rect x="76.7" y="42.4" width="19.2" height="21.2" fill="#2b0909"/><rect x="95.8" y="42.4" width="33.2" height="21.2" fill="#2b0909"/><rect x="-14.0" y="63.5" width="33.2" height="35.2" fill="#1b0606"/><rect x="19.2" y="63.5" width="19.2" height="35.2" fill="#200707"/><rect x="38.3" y="63.5" width="19.2" height="35.2" fill="#260808"/><rect x="57.5" y="63.5" width="19.2" height="35.2" fill="#260808"/><rect x="76.7" y="63.5" width="19.2" height="35.2" fill="#260808"/><rect x="95.8" y="63.5" width="33.2" height="35.2" fill="#200707"/></g>
<g style="mix-blend-mode:multiply" filter="url(#mk2)"><rect width="115" height="84.7" fill="#101010"/><use href="#cl2"/></g>
<rect x="0.4" y="0.4" width="114.2" height="83.9" fill="none" stroke="#000" stroke-width="0.9" opacity="0.8"/>
<rect x="68" y="75.9" width="44" height="1.8" fill="#fff"/></svg>
<svg x="297.0" y="308.8" width="115" height="84.7" viewBox="0 0 115 84.7" overflow="hidden"><rect width="115" height="84.7" fill="#000"/>
<g filter="url(#bl6)"><rect x="-14.0" y="-14.0" width="33.2" height="35.2" fill="#2b270e"/><rect x="19.2" y="-14.0" width="19.2" height="35.2" fill="#26220c"/><rect x="38.3" y="-14.0" width="19.2" height="35.2" fill="#221e0a"/><rect x="57.5" y="-14.0" width="19.2" height="35.2" fill="#26220c"/><rect x="76.7" y="-14.0" width="19.2" height="35.2" fill="#221e0a"/><rect x="95.8" y="-14.0" width="33.2" height="35.2" fill="#26220c"/><rect x="-14.0" y="21.2" width="33.2" height="21.2" fill="#26220c"/><rect x="19.2" y="21.2" width="19.2" height="21.2" fill="#221e0a"/><rect x="38.3" y="21.2" width="19.2" height="21.2" fill="#1d1a09"/><rect x="57.5" y="21.2" width="19.2" height="21.2" fill="#26220c"/><rect x="76.7" y="21.2" width="19.2" height="21.2" fill="#26220c"/><rect x="95.8" y="21.2" width="33.2" height="21.2" fill="#221e0a"/><rect x="-14.0" y="42.4" width="33.2" height="21.2" fill="#221e0a"/><rect x="19.2" y="42.4" width="19.2" height="21.2" fill="#1d1a09"/><rect x="38.3" y="42.4" width="19.2" height="21.2" fill="#1d1a09"/><rect x="57.5" y="42.4" width="19.2" height="21.2" fill="#221e0a"/><rect x="76.7" y="42.4" width="19.2" height="21.2" fill="#26220c"/><rect x="95.8" y="42.4" width="33.2" height="21.2" fill="#26220c"/><rect x="-14.0" y="63.5" width="33.2" height="35.2" fill="#181608"/><rect x="19.2" y="63.5" width="19.2" height="35.2" fill="#1d1a09"/><rect x="38.3" y="63.5" width="19.2" height="35.2" fill="#221e0a"/><rect x="57.5" y="63.5" width="19.2" height="35.2" fill="#221e0a"/><rect x="76.7" y="63.5" width="19.2" height="35.2" fill="#221e0a"/><rect x="95.8" y="63.5" width="33.2" height="35.2" fill="#1d1a09"/></g>
<g style="mix-blend-mode:multiply" filter="url(#mk2)"><rect width="115" height="84.7" fill="#101010"/><use href="#cl2"/></g>
<rect x="0.4" y="0.4" width="114.2" height="83.9" fill="none" stroke="#000" stroke-width="0.9" opacity="0.8"/>
<rect x="68" y="75.9" width="44" height="1.8" fill="#fff"/></svg>
<svg x="415.0" y="40.0" width="115" height="84.7" viewBox="0 0 115 84.7" overflow="hidden"><rect width="115" height="84.7" fill="#7f7f7f"/>
<g filter="url(#om3)"><rect x="-14.0" y="-14.0" width="33.2" height="35.2" fill="#e6e6e6"/><rect x="19.2" y="-14.0" width="19.2" height="35.2" fill="#808080"/><rect x="38.3" y="-14.0" width="19.2" height="35.2" fill="#999999"/><rect x="57.5" y="-14.0" width="19.2" height="35.2" fill="#cccccc"/><rect x="76.7" y="-14.0" width="19.2" height="35.2" fill="#cccccc"/><rect x="95.8" y="-14.0" width="33.2" height="35.2" fill="#e6e6e6"/><rect x="-14.0" y="21.2" width="33.2" height="21.2" fill="#e6e6e6"/><rect x="19.2" y="21.2" width="19.2" height="21.2" fill="#4c4c4c"/><rect x="38.3" y="21.2" width="19.2" height="21.2" fill="#4c4c4c"/><rect x="57.5" y="21.2" width="19.2" height="21.2" fill="#999999"/><rect x="76.7" y="21.2" width="19.2" height="21.2" fill="#e6e6e6"/><rect x="95.8" y="21.2" width="33.2" height="21.2" fill="#cccccc"/><rect x="-14.0" y="42.4" width="33.2" height="21.2" fill="#cccccc"/><rect x="19.2" y="42.4" width="19.2" height="21.2" fill="#999999"/><rect x="38.3" y="42.4" width="19.2" height="21.2" fill="#808080"/><rect x="57.5" y="42.4" width="19.2" height="21.2" fill="#cccccc"/><rect x="76.7" y="42.4" width="19.2" height="21.2" fill="#cccccc"/><rect x="95.8" y="42.4" width="33.2" height="21.2" fill="#666666"/><rect x="-14.0" y="63.5" width="33.2" height="35.2" fill="#e6e6e6"/><rect x="19.2" y="63.5" width="19.2" height="35.2" fill="#cccccc"/><rect x="38.3" y="63.5" width="19.2" height="35.2" fill="#cccccc"/><rect x="57.5" y="63.5" width="19.2" height="35.2" fill="#b2b2b2"/><rect x="76.7" y="63.5" width="19.2" height="35.2" fill="#666666"/><rect x="95.8" y="63.5" width="33.2" height="35.2" fill="#333333"/></g>
<g fill="none" filter="url(#soft2)"><use href="#cga3" x="-0.5" y="-0.5" stroke="#b4b4b4" stroke-width="0.9" opacity="0.55"/><use href="#cga3" x="0.5" y="0.5" stroke="#404040" stroke-width="0.8" opacity="0.5" stroke-dasharray="1.5 1.8"/></g>
<rect x="0.4" y="0.4" width="114.2" height="83.9" fill="none" stroke="#5a5a5a" stroke-width="0.9" opacity="0.8"/>
<rect x="68" y="75.9" width="44" height="1.8" fill="#fff"/></svg>
<svg x="415.0" y="129.6" width="115" height="84.7" viewBox="0 0 115 84.7" overflow="hidden"><rect width="115" height="84.7" fill="#000"/>
<g filter="url(#bl6)"><rect x="-14.0" y="-14.0" width="33.2" height="35.2" fill="#1d951d"/><rect x="19.2" y="-14.0" width="19.2" height="35.2" fill="#197e19"/><rect x="38.3" y="-14.0" width="19.2" height="35.2" fill="#1a851a"/><rect x="57.5" y="-14.0" width="19.2" height="35.2" fill="#104e10"/><rect x="76.7" y="-14.0" width="19.2" height="35.2" fill="#166e16"/><rect x="95.8" y="-14.0" width="33.2" height="35.2" fill="#177617"/><rect x="-14.0" y="21.2" width="33.2" height="21.2" fill="#1c8d1c"/><rect x="19.2" y="21.2" width="19.2" height="21.2" fill="#115611"/><rect x="38.3" y="21.2" width="19.2" height="21.2" fill="#104e10"/><rect x="57.5" y="21.2" width="19.2" height="21.2" fill="#197e19"/><rect x="76.7" y="21.2" width="19.2" height="21.2" fill="#166e16"/><rect x="95.8" y="21.2" width="33.2" height="21.2" fill="#197e19"/><rect x="-14.0" y="42.4" width="33.2" height="21.2" fill="#166e16"/><rect x="19.2" y="42.4" width="19.2" height="21.2" fill="#166e16"/><rect x="38.3" y="42.4" width="19.2" height="21.2" fill="#1a851a"/><rect x="57.5" y="42.4" width="19.2" height="21.2" fill="#197e19"/><rect x="76.7" y="42.4" width="19.2" height="21.2" fill="#1a851a"/><rect x="95.8" y="42.4" width="33.2" height="21.2" fill="#104e10"/><rect x="-14.0" y="63.5" width="33.2" height="35.2" fill="#197e19"/><rect x="19.2" y="63.5" width="19.2" height="35.2" fill="#146614"/><rect x="38.3" y="63.5" width="19.2" height="35.2" fill="#166e16"/><rect x="57.5" y="63.5" width="19.2" height="35.2" fill="#166e16"/><rect x="76.7" y="63.5" width="19.2" height="35.2" fill="#0c3c0c"/><rect x="95.8" y="63.5" width="33.2" height="35.2" fill="#092f09"/></g>
<g style="mix-blend-mode:multiply" filter="url(#mk3)"><rect width="115" height="84.7" fill="#101010"/><use href="#cl3"/></g>
<rect x="0.4" y="0.4" width="114.2" height="83.9" fill="none" stroke="#000" stroke-width="0.9" opacity="0.8"/>
<rect x="68" y="75.9" width="44" height="1.8" fill="#fff"/></svg>
<svg x="415.0" y="219.2" width="115" height="84.7" viewBox="0 0 115 84.7" overflow="hidden"><rect width="115" height="84.7" fill="#000"/>
<g filter="url(#bl6)"><rect x="-14.0" y="-14.0" width="33.2" height="35.2" fill="#ad1a1a"/><rect x="19.2" y="-14.0" width="19.2" height="35.2" fill="#921616"/><rect x="38.3" y="-14.0" width="19.2" height="35.2" fill="#7e1313"/><rect x="57.5" y="-14.0" width="19.2" height="35.2" fill="#701111"/><rect x="76.7" y="-14.0" width="19.2" height="35.2" fill="#9a1818"/><rect x="95.8" y="-14.0" width="33.2" height="35.2" fill="#921616"/><rect x="-14.0" y="21.2" width="33.2" height="21.2" fill="#ad1a1a"/><rect x="19.2" y="21.2" width="19.2" height="21.2" fill="#7e1313"/><rect x="38.3" y="21.2" width="19.2" height="21.2" fill="#5b0e0e"/><rect x="57.5" y="21.2" width="19.2" height="21.2" fill="#921616"/><rect x="76.7" y="21.2" width="19.2" height="21.2" fill="#921616"/><rect x="95.8" y="21.2" width="33.2" height="21.2" fill="#9a1818"/><rect x="-14.0" y="42.4" width="33.2" height="21.2" fill="#861414"/><rect x="19.2" y="42.4" width="19.2" height="21.2" fill="#921616"/><rect x="38.3" y="42.4" width="19.2" height="21.2" fill="#9a1818"/><rect x="57.5" y="42.4" width="19.2" height="21.2" fill="#9a1818"/><rect x="76.7" y="42.4" width="19.2" height="21.2" fill="#921616"/><rect x="95.8" y="42.4" width="33.2" height="21.2" fill="#5b0e0e"/><rect x="-14.0" y="63.5" width="33.2" height="35.2" fill="#9a1818"/><rect x="19.2" y="63.5" width="19.2" height="35.2" fill="#921616"/><rect x="38.3" y="63.5" width="19.2" height="35.2" fill="#861414"/><rect x="57.5" y="63.5" width="19.2" height="35.2" fill="#921616"/><rect x="76.7" y="63.5" width="19.2" height="35.2" fill="#510c0c"/><rect x="95.8" y="63.5" width="33.2" height="35.2" fill="#390909"/></g>
<g style="mix-blend-mode:multiply" filter="url(#mk3)"><rect width="115" height="84.7" fill="#101010"/><use href="#cl3"/></g>
<rect x="0.4" y="0.4" width="114.2" height="83.9" fill="none" stroke="#000" stroke-width="0.9" opacity="0.8"/>
<rect x="68" y="75.9" width="44" height="1.8" fill="#fff"/></svg>
<svg x="415.0" y="308.8" width="115" height="84.7" viewBox="0 0 115 84.7" overflow="hidden"><rect width="115" height="84.7" fill="#000"/>
<g filter="url(#bl6)"><rect x="-14.0" y="-14.0" width="33.2" height="35.2" fill="#cb8420"/><rect x="19.2" y="-14.0" width="19.2" height="35.2" fill="#bf7c1e"/><rect x="38.3" y="-14.0" width="19.2" height="35.2" fill="#946018"/><rect x="57.5" y="-14.0" width="19.2" height="35.2" fill="#b3741c"/><rect x="76.7" y="-14.0" width="19.2" height="35.2" fill="#bf7c1e"/><rect x="95.8" y="-14.0" width="33.2" height="35.2" fill="#bf7c1e"/><rect x="-14.0" y="21.2" width="33.2" height="21.2" fill="#cb8420"/><rect x="19.2" y="21.2" width="19.2" height="21.2" fill="#bf7c1e"/><rect x="38.3" y="21.2" width="19.2" height="21.2" fill="#835515"/><rect x="57.5" y="21.2" width="19.2" height="21.2" fill="#bf7c1e"/><rect x="76.7" y="21.2" width="19.2" height="21.2" fill="#bf7c1e"/><rect x="95.8" y="21.2" width="33.2" height="21.2" fill="#bf7c1e"/><rect x="-14.0" y="42.4" width="33.2" height="21.2" fill="#9b6519"/><rect x="19.2" y="42.4" width="19.2" height="21.2" fill="#b3741c"/><rect x="38.3" y="42.4" width="19.2" height="21.2" fill="#b3741c"/><rect x="57.5" y="42.4" width="19.2" height="21.2" fill="#bf7c1e"/><rect x="76.7" y="42.4" width="19.2" height="21.2" fill="#b3741c"/><rect x="95.8" y="42.4" width="33.2" height="21.2" fill="#a76c1b"/><rect x="-14.0" y="63.5" width="33.2" height="35.2" fill="#bf7c1e"/><rect x="19.2" y="63.5" width="19.2" height="35.2" fill="#b3741c"/><rect x="38.3" y="63.5" width="19.2" height="35.2" fill="#bf7c1e"/><rect x="57.5" y="63.5" width="19.2" height="35.2" fill="#b3741c"/><rect x="76.7" y="63.5" width="19.2" height="35.2" fill="#8f5d17"/><rect x="95.8" y="63.5" width="33.2" height="35.2" fill="#8f5d17"/></g>
<g style="mix-blend-mode:multiply" filter="url(#mk3)"><rect width="115" height="84.7" fill="#101010"/><use href="#cl3"/></g>
<rect x="0.4" y="0.4" width="114.2" height="83.9" fill="none" stroke="#000" stroke-width="0.9" opacity="0.8"/>
<rect x="68" y="75.9" width="44" height="1.8" fill="#fff"/></svg>
<svg x="533.0" y="40.0" width="115" height="84.7" viewBox="0 0 115 84.7" overflow="hidden"><rect width="115" height="84.7" fill="#7f7f7f"/>
<g filter="url(#om4)"><rect x="-14.0" y="-14.0" width="33.2" height="35.2" fill="#e6e6e6"/><rect x="19.2" y="-14.0" width="19.2" height="35.2" fill="#e6e6e6"/><rect x="38.3" y="-14.0" width="19.2" height="35.2" fill="#cccccc"/><rect x="57.5" y="-14.0" width="19.2" height="35.2" fill="#b2b2b2"/><rect x="76.7" y="-14.0" width="19.2" height="35.2" fill="#cccccc"/><rect x="95.8" y="-14.0" width="33.2" height="35.2" fill="#e6e6e6"/><rect x="-14.0" y="21.2" width="33.2" height="21.2" fill="#999999"/><rect x="19.2" y="21.2" width="19.2" height="21.2" fill="#e6e6e6"/><rect x="38.3" y="21.2" width="19.2" height="21.2" fill="#cccccc"/><rect x="57.5" y="21.2" width="19.2" height="21.2" fill="#999999"/><rect x="76.7" y="21.2" width="19.2" height="21.2" fill="#666666"/><rect x="95.8" y="21.2" width="33.2" height="21.2" fill="#cccccc"/><rect x="-14.0" y="42.4" width="33.2" height="21.2" fill="#4c4c4c"/><rect x="19.2" y="42.4" width="19.2" height="21.2" fill="#b2b2b2"/><rect x="38.3" y="42.4" width="19.2" height="21.2" fill="#b2b2b2"/><rect x="57.5" y="42.4" width="19.2" height="21.2" fill="#666666"/><rect x="76.7" y="42.4" width="19.2" height="21.2" fill="#4c4c4c"/><rect x="95.8" y="42.4" width="33.2" height="21.2" fill="#b2b2b2"/><rect x="-14.0" y="63.5" width="33.2" height="35.2" fill="#808080"/><rect x="19.2" y="63.5" width="19.2" height="35.2" fill="#b2b2b2"/><rect x="38.3" y="63.5" width="19.2" height="35.2" fill="#999999"/><rect x="57.5" y="63.5" width="19.2" height="35.2" fill="#4c4c4c"/><rect x="76.7" y="63.5" width="19.2" height="35.2" fill="#666666"/><rect x="95.8" y="63.5" width="33.2" height="35.2" fill="#999999"/></g>
<g fill="none" filter="url(#soft2)"><use href="#cga4" x="-0.5" y="-0.5" stroke="#b4b4b4" stroke-width="0.9" opacity="0.55"/><use href="#cga4" x="0.5" y="0.5" stroke="#404040" stroke-width="0.8" opacity="0.5" stroke-dasharray="1.5 1.8"/></g>
<rect x="0.4" y="0.4" width="114.2" height="83.9" fill="none" stroke="#5a5a5a" stroke-width="0.9" opacity="0.8"/>
<rect x="68" y="75.9" width="44" height="1.8" fill="#fff"/></svg>
<svg x="533.0" y="129.6" width="115" height="84.7" viewBox="0 0 115 84.7" overflow="hidden"><rect width="115" height="84.7" fill="#000"/>
<g filter="url(#bl6)"><rect x="-14.0" y="-14.0" width="33.2" height="35.2" fill="#010201"/><rect x="19.2" y="-14.0" width="19.2" height="35.2" fill="#010201"/><rect x="38.3" y="-14.0" width="19.2" height="35.2" fill="#010201"/><rect x="57.5" y="-14.0" width="19.2" height="35.2" fill="#010201"/><rect x="76.7" y="-14.0" width="19.2" height="35.2" fill="#010201"/><rect x="95.8" y="-14.0" width="33.2" height="35.2" fill="#010201"/><rect x="-14.0" y="21.2" width="33.2" height="21.2" fill="#010201"/><rect x="19.2" y="21.2" width="19.2" height="21.2" fill="#010201"/><rect x="38.3" y="21.2" width="19.2" height="21.2" fill="#010201"/><rect x="57.5" y="21.2" width="19.2" height="21.2" fill="#010201"/><rect x="76.7" y="21.2" width="19.2" height="21.2" fill="#010201"/><rect x="95.8" y="21.2" width="33.2" height="21.2" fill="#010201"/><rect x="-14.0" y="42.4" width="33.2" height="21.2" fill="#010201"/><rect x="19.2" y="42.4" width="19.2" height="21.2" fill="#010201"/><rect x="38.3" y="42.4" width="19.2" height="21.2" fill="#010201"/><rect x="57.5" y="42.4" width="19.2" height="21.2" fill="#010201"/><rect x="76.7" y="42.4" width="19.2" height="21.2" fill="#010201"/><rect x="95.8" y="42.4" width="33.2" height="21.2" fill="#010201"/><rect x="-14.0" y="63.5" width="33.2" height="35.2" fill="#010201"/><rect x="19.2" y="63.5" width="19.2" height="35.2" fill="#010201"/><rect x="38.3" y="63.5" width="19.2" height="35.2" fill="#010201"/><rect x="57.5" y="63.5" width="19.2" height="35.2" fill="#010201"/><rect x="76.7" y="63.5" width="19.2" height="35.2" fill="#010201"/><rect x="95.8" y="63.5" width="33.2" height="35.2" fill="#010201"/></g>
<g style="mix-blend-mode:multiply" filter="url(#mk4)"><rect width="115" height="84.7" fill="#0c0c0c"/><use href="#cl4"/></g>
<path fill="none" stroke="#2a4a2a" stroke-width="1.2" stroke-linecap="round" d="M90.7 28.4h0M28.7 68.6h0M14.8 40.6h0M63.9 51.5h0M18.1 53.1h0M57.6 70.9h0M5.1 79.5h0M21.2 67.9h0M58.3 69.7h0M22.3 28.0h0M11.7 65.1h0M61.3 18.6h0M23.3 8.6h0M24.2 47.4h0M50.6 59.0h0M10.5 70.0h0M111.0 61.9h0M84.5 70.8h0M12.5 39.4h0M10.8 65.3h0M61.7 10.6h0M51.4 64.9h0"/>
<rect x="0.4" y="0.4" width="114.2" height="83.9" fill="none" stroke="#000" stroke-width="0.9" opacity="0.8"/>
<rect x="68" y="75.9" width="44" height="1.8" fill="#fff"/></svg>
<svg x="533.0" y="219.2" width="115" height="84.7" viewBox="0 0 115 84.7" overflow="hidden"><rect width="115" height="84.7" fill="#000"/>
<g filter="url(#bl6)"><rect x="-14.0" y="-14.0" width="33.2" height="35.2" fill="#801111"/><rect x="19.2" y="-14.0" width="19.2" height="35.2" fill="#a31616"/><rect x="38.3" y="-14.0" width="19.2" height="35.2" fill="#971414"/><rect x="57.5" y="-14.0" width="19.2" height="35.2" fill="#a31616"/><rect x="76.7" y="-14.0" width="19.2" height="35.2" fill="#620d0d"/><rect x="95.8" y="-14.0" width="33.2" height="35.2" fill="#a31616"/><rect x="-14.0" y="21.2" width="33.2" height="21.2" fill="#971414"/><rect x="19.2" y="21.2" width="19.2" height="21.2" fill="#801111"/><rect x="38.3" y="21.2" width="19.2" height="21.2" fill="#af1717"/><rect x="57.5" y="21.2" width="19.2" height="21.2" fill="#af1717"/><rect x="76.7" y="21.2" width="19.2" height="21.2" fill="#971414"/><rect x="95.8" y="21.2" width="33.2" height="21.2" fill="#8c1313"/><rect x="-14.0" y="42.4" width="33.2" height="21.2" fill="#801111"/><rect x="19.2" y="42.4" width="19.2" height="21.2" fill="#741010"/><rect x="38.3" y="42.4" width="19.2" height="21.2" fill="#971414"/><rect x="57.5" y="42.4" width="19.2" height="21.2" fill="#741010"/><rect x="76.7" y="42.4" width="19.2" height="21.2" fill="#741010"/><rect x="95.8" y="42.4" width="33.2" height="21.2" fill="#a31616"/><rect x="-14.0" y="63.5" width="33.2" height="35.2" fill="#741010"/><rect x="19.2" y="63.5" width="19.2" height="35.2" fill="#8c1313"/><rect x="38.3" y="63.5" width="19.2" height="35.2" fill="#801111"/><rect x="57.5" y="63.5" width="19.2" height="35.2" fill="#690e0e"/><rect x="76.7" y="63.5" width="19.2" height="35.2" fill="#801111"/><rect x="95.8" y="63.5" width="33.2" height="35.2" fill="#741010"/></g>
<g style="mix-blend-mode:multiply" filter="url(#mk4)"><rect width="115" height="84.7" fill="#0c0c0c"/><use href="#cl4"/></g>
<rect x="0.4" y="0.4" width="114.2" height="83.9" fill="none" stroke="#000" stroke-width="0.9" opacity="0.8"/>
<rect x="68" y="75.9" width="44" height="1.8" fill="#fff"/></svg>
<svg x="533.0" y="308.8" width="115" height="84.7" viewBox="0 0 115 84.7" overflow="hidden"><rect width="115" height="84.7" fill="#000"/>
<g filter="url(#bl6)"><rect x="-14.0" y="-14.0" width="33.2" height="35.2" fill="#c31a1a"/><rect x="19.2" y="-14.0" width="19.2" height="35.2" fill="#cf1c1c"/><rect x="38.3" y="-14.0" width="19.2" height="35.2" fill="#c31a1a"/><rect x="57.5" y="-14.0" width="19.2" height="35.2" fill="#cf1c1c"/><rect x="76.7" y="-14.0" width="19.2" height="35.2" fill="#9f1515"/><rect x="95.8" y="-14.0" width="33.2" height="35.2" fill="#be1a1a"/><rect x="-14.0" y="21.2" width="33.2" height="21.2" fill="#751010"/><rect x="19.2" y="21.2" width="19.2" height="21.2" fill="#c31a1a"/><rect x="38.3" y="21.2" width="19.2" height="21.2" fill="#cf1c1c"/><rect x="57.5" y="21.2" width="19.2" height="21.2" fill="#c31a1a"/><rect x="76.7" y="21.2" width="19.2" height="21.2" fill="#b01818"/><rect x="95.8" y="21.2" width="33.2" height="21.2" fill="#ab1717"/><rect x="-14.0" y="42.4" width="33.2" height="21.2" fill="#921414"/><rect x="19.2" y="42.4" width="19.2" height="21.2" fill="#b01818"/><rect x="38.3" y="42.4" width="19.2" height="21.2" fill="#c31a1a"/><rect x="57.5" y="42.4" width="19.2" height="21.2" fill="#921414"/><rect x="76.7" y="42.4" width="19.2" height="21.2" fill="#921414"/><rect x="95.8" y="42.4" width="33.2" height="21.2" fill="#ab1717"/><rect x="-14.0" y="63.5" width="33.2" height="35.2" fill="#b01818"/><rect x="19.2" y="63.5" width="19.2" height="35.2" fill="#9f1515"/><rect x="38.3" y="63.5" width="19.2" height="35.2" fill="#921414"/><rect x="57.5" y="63.5" width="19.2" height="35.2" fill="#9f1515"/><rect x="76.7" y="63.5" width="19.2" height="35.2" fill="#ab1717"/><rect x="95.8" y="63.5" width="33.2" height="35.2" fill="#921414"/></g>
<g style="mix-blend-mode:multiply" filter="url(#mk4)"><rect width="115" height="84.7" fill="#0c0c0c"/><use href="#cl4"/></g>
<rect x="0.4" y="0.4" width="114.2" height="83.9" fill="none" stroke="#000" stroke-width="0.9" opacity="0.8"/>
<rect x="68" y="75.9" width="44" height="1.8" fill="#fff"/></svg>
<text x="9.5" y="459.3" font-size="18" font-weight="normal" text-anchor="start" fill="#000" >D</text>
<text x="138.1" y="483.8" font-size="10" font-weight="normal" text-anchor="start" fill="#000" >DAPI</text>
<text x="297.9" y="483.8" font-size="10" font-weight="normal" text-anchor="start" fill="#000" >TH</text>
<text x="431.3" y="483.8" font-size="10" font-weight="normal" text-anchor="start" fill="#000" >VDAC1</text>
<text x="590.4" y="483.8" font-size="10" font-weight="normal" text-anchor="start" fill="#000" >Merge</text>
<text x="70" y="541.3" font-size="10" font-weight="normal" text-anchor="end" fill="#000" >Con</text>
<text x="70" y="641.9" font-size="10" font-weight="normal" text-anchor="end" fill="#000" >PD</text>
<text x="70" y="750.5" font-size="10" font-weight="normal" text-anchor="end" fill="#000" >MM-Cur-NPs</text>
<svg x="74.5" y="489.0" width="141.0" height="98.5" viewBox="0 0 141.0 98.5" overflow="hidden"><rect width="141.0" height="98.5" fill="#020108"/>
<g fill="none" stroke-linecap="round" filter="url(#dsoft)"><use href="#dd0" stroke="#160f4c" stroke-width="2.1"/><use href="#ds0" stroke="#261c86" stroke-width="1.9"/><use href="#db0" stroke="#3628b4" stroke-width="2.3"/></g>
<rect x="118" y="91" width="21" height="1.8" fill="#c8c8c8"/></svg>
<svg x="226.7" y="489.0" width="141.0" height="98.5" viewBox="0 0 141.0 98.5" overflow="hidden"><rect width="141.0" height="98.5" fill="#010201"/>
<g fill="none" stroke-linecap="round" filter="url(#dsoft)"><use href="#tf0" stroke="#0a2a0a" stroke-width="2.0"/><use href="#th0" stroke="#40c850" stroke-width="2.2"/><use href="#th0" stroke="#c0f8c0" stroke-width="1.0"/></g>
<rect x="118" y="91" width="21" height="1.8" fill="#c8c8c8"/></svg>
<svg x="378.9" y="489.0" width="141.0" height="98.5" viewBox="0 0 141.0 98.5" overflow="hidden"><rect width="141.0" height="98.5" fill="#020100"/>
<g fill="none" stroke-linecap="round" filter="url(#dsoft)"><use href="#vf0" stroke="#2a1008" stroke-width="2.0"/><g opacity="0.9"><use href="#vd0" stroke="#a83a28" stroke-width="2.3"/><use href="#vd0" stroke="#e07a6a" stroke-width="0.9"/></g></g>
<rect x="118" y="91" width="21" height="1.8" fill="#c8c8c8"/></svg>
<svg x="531.1" y="489.0" width="141.0" height="98.5" viewBox="0 0 141.0 98.5" overflow="hidden"><rect width="141.0" height="98.5" fill="#020108"/>
<g fill="none" stroke-linecap="round" filter="url(#dsoft)"><use href="#dd0" stroke="#160f4c" stroke-width="2.1"/><use href="#ds0" stroke="#261c86" stroke-width="1.9"/><use href="#db0" stroke="#3628b4" stroke-width="2.3"/></g>
<g style="mix-blend-mode:screen"><g fill="none" stroke-linecap="round" filter="url(#dsoft)"><use href="#vf0" stroke="#2a1008" stroke-width="2.0"/><g opacity="0.54"><use href="#vd0" stroke="#a83a28" stroke-width="2.3"/><use href="#vd0" stroke="#e07a6a" stroke-width="0.9"/></g></g></g>
<g style="mix-blend-mode:screen"><g fill="none" stroke-linecap="round" filter="url(#dsoft)"><use href="#tf0" stroke="#0a2a0a" stroke-width="2.0"/><use href="#th0" stroke="#40c850" stroke-width="2.2"/><use href="#th0" stroke="#c0f8c0" stroke-width="1.0"/></g></g>
<rect x="118" y="91" width="21" height="1.8" fill="#c8c8c8"/></svg>
<svg x="74.5" y="592.5" width="141.0" height="98.5" viewBox="0 0 141.0 98.5" overflow="hidden"><rect width="141.0" height="98.5" fill="#020108"/>
<g fill="none" stroke-linecap="round" filter="url(#dsoft)"><use href="#dd1" stroke="#160f4c" stroke-width="2.1"/><use href="#ds1" stroke="#261c86" stroke-width="1.9"/><use href="#db1" stroke="#3628b4" stroke-width="2.3"/></g>
<rect x="118" y="91" width="21" height="1.8" fill="#c8c8c8"/></svg>
<svg x="226.7" y="592.5" width="141.0" height="98.5" viewBox="0 0 141.0 98.5" overflow="hidden"><rect width="141.0" height="98.5" fill="#010201"/>
<g fill="none" stroke-linecap="round" filter="url(#dsoft)"><use href="#tf1" stroke="#0a2a0a" stroke-width="2.0"/><use href="#th1" stroke="#40c850" stroke-width="2.2"/><use href="#th1" stroke="#c0f8c0" stroke-width="1.0"/></g>
<rect x="118" y="91" width="21" height="1.8" fill="#c8c8c8"/></svg>
<svg x="378.9" y="592.5" width="141.0" height="98.5" viewBox="0 0 141.0 98.5" overflow="hidden"><rect width="141.0" height="98.5" fill="#020100"/>
<g fill="none" stroke-linecap="round" filter="url(#dsoft)"><use href="#vf1" stroke="#2a1008" stroke-width="2.0"/><g opacity="0.8"><use href="#vd1" stroke="#6a2a14" stroke-width="2.3"/><use href="#vd1" stroke="#8a4a30" stroke-width="0.9"/></g></g>
<rect x="118" y="91" width="21" height="1.8" fill="#c8c8c8"/></svg>
<svg x="531.1" y="592.5" width="141.0" height="98.5" viewBox="0 0 141.0 98.5" overflow="hidden"><rect width="141.0" height="98.5" fill="#020108"/>
<g fill="none" stroke-linecap="round" filter="url(#dsoft)"><use href="#dd1" stroke="#160f4c" stroke-width="2.1"/><use href="#ds1" stroke="#261c86" stroke-width="1.9"/><use href="#db1" stroke="#3628b4" stroke-width="2.3"/></g>
<g style="mix-blend-mode:screen"><g fill="none" stroke-linecap="round" filter="url(#dsoft)"><use href="#vf1" stroke="#2a1008" stroke-width="2.0"/><g opacity="0.48"><use href="#vd1" stroke="#6a2a14" stroke-width="2.3"/><use href="#vd1" stroke="#8a4a30" stroke-width="0.9"/></g></g></g>
<g style="mix-blend-mode:screen"><g fill="none" stroke-linecap="round" filter="url(#dsoft)"><use href="#tf1" stroke="#0a2a0a" stroke-width="2.0"/><use href="#th1" stroke="#40c850" stroke-width="2.2"/><use href="#th1" stroke="#c0f8c0" stroke-width="1.0"/></g></g>
<rect x="118" y="91" width="21" height="1.8" fill="#c8c8c8"/></svg>
<svg x="74.5" y="696.0" width="141.0" height="98.5" viewBox="0 0 141.0 98.5" overflow="hidden"><rect width="141.0" height="98.5" fill="#020108"/>
<g fill="none" stroke-linecap="round" filter="url(#dsoft)"><use href="#dd2" stroke="#160f4c" stroke-width="2.1"/><use href="#ds2" stroke="#261c86" stroke-width="1.9"/><use href="#db2" stroke="#3628b4" stroke-width="2.3"/></g>
<rect x="118" y="91" width="21" height="1.8" fill="#c8c8c8"/></svg>
<svg x="226.7" y="696.0" width="141.0" height="98.5" viewBox="0 0 141.0 98.5" overflow="hidden"><rect width="141.0" height="98.5" fill="#010201"/>
<g fill="none" stroke-linecap="round" filter="url(#dsoft)"><use href="#tf2" stroke="#0a2a0a" stroke-width="2.0"/><use href="#th2" stroke="#40c850" stroke-width="2.2"/><use href="#th2" stroke="#c0f8c0" stroke-width="1.0"/></g>
<rect x="118" y="91" width="21" height="1.8" fill="#c8c8c8"/></svg>
<svg x="378.9" y="696.0" width="141.0" height="98.5" viewBox="0 0 141.0 98.5" overflow="hidden"><rect width="141.0" height="98.5" fill="#020100"/>
<g fill="none" stroke-linecap="round" filter="url(#dsoft)"><use href="#vf2" stroke="#2a1008" stroke-width="2.0"/><g opacity="0.85"><use href="#vd2" stroke="#c03c26" stroke-width="2.3"/><use href="#vd2" stroke="#e87860" stroke-width="0.9"/></g></g>
<rect x="118" y="91" width="21" height="1.8" fill="#c8c8c8"/></svg>
<svg x="531.1" y="696.0" width="141.0" height="98.5" viewBox="0 0 141.0 98.5" overflow="hidden"><rect width="141.0" height="98.5" fill="#020108"/>
<g fill="none" stroke-linecap="round" filter="url(#dsoft)"><use href="#dd2" stroke="#160f4c" stroke-width="2.1"/><use href="#ds2" stroke="#261c86" stroke-width="1.9"/><use href="#db2" stroke="#3628b4" stroke-width="2.3"/></g>
<g style="mix-blend-mode:screen"><g fill="none" stroke-linecap="round" filter="url(#dsoft)"><use href="#vf2" stroke="#2a1008" stroke-width="2.0"/><g opacity="0.51"><use href="#vd2" stroke="#c03c26" stroke-width="2.3"/><use href="#vd2" stroke="#e87860" stroke-width="0.9"/></g></g></g>
<g style="mix-blend-mode:screen"><g fill="none" stroke-linecap="round" filter="url(#dsoft)"><use href="#tf2" stroke="#0a2a0a" stroke-width="2.0"/><use href="#th2" stroke="#40c850" stroke-width="2.2"/><use href="#th2" stroke="#c0f8c0" stroke-width="1.0"/></g></g>
<rect x="118" y="91" width="21" height="1.8" fill="#c8c8c8"/></svg>
<text x="718.5" y="22" font-size="18" font-weight="normal" text-anchor="start" fill="#000" >B</text>
<text x="786.5" y="31.8" font-size="12" font-weight="normal" text-anchor="start" fill="#000" >JC-1(green/red)</text>
<line x1="733.40" y1="44.00" x2="733.40" y2="170.30" stroke="#000" stroke-width="1.8"/>
<line x1="733.00" y1="169.50" x2="932.00" y2="169.50" stroke="#000" stroke-width="1.8"/>
<line x1="728.30" y1="169.30" x2="733.40" y2="169.30" stroke="#000" stroke-width="1.6"/>
<text x="726.5" y="172.5" font-size="9.8" font-weight="bold" text-anchor="end" fill="#000" >0</text>
<line x1="728.30" y1="144.36" x2="733.40" y2="144.36" stroke="#000" stroke-width="1.6"/>
<text x="726.5" y="147.56" font-size="9.8" font-weight="bold" text-anchor="end" fill="#000" >20</text>
<line x1="728.30" y1="119.42" x2="733.40" y2="119.42" stroke="#000" stroke-width="1.6"/>
<text x="726.5" y="122.62000000000002" font-size="9.8" font-weight="bold" text-anchor="end" fill="#000" >40</text>
<line x1="728.30" y1="94.48" x2="733.40" y2="94.48" stroke="#000" stroke-width="1.6"/>
<text x="726.5" y="97.68" font-size="9.8" font-weight="bold" text-anchor="end" fill="#000" >60</text>
<line x1="728.30" y1="69.54" x2="733.40" y2="69.54" stroke="#000" stroke-width="1.6"/>
<text x="726.5" y="72.74000000000001" font-size="9.8" font-weight="bold" text-anchor="end" fill="#000" >80</text>
<line x1="728.30" y1="44.60" x2="733.40" y2="44.60" stroke="#000" stroke-width="1.6"/>
<text x="726.5" y="47.8" font-size="9.8" font-weight="bold" text-anchor="end" fill="#000" >100</text>
<line x1="758.40" y1="169.50" x2="758.40" y2="175.50" stroke="#000" stroke-width="1.6"/>
<line x1="795.20" y1="169.50" x2="795.20" y2="175.50" stroke="#000" stroke-width="1.6"/>
<line x1="832.00" y1="169.50" x2="832.00" y2="175.50" stroke="#000" stroke-width="1.6"/>
<line x1="868.80" y1="169.50" x2="868.80" y2="175.50" stroke="#000" stroke-width="1.6"/>
<line x1="905.60" y1="169.50" x2="905.60" y2="175.50" stroke="#000" stroke-width="1.6"/>
<rect x="746.40" y="86.30" width="23.70" height="82.30" fill="#17c27c" stroke="#0fa565" stroke-width="1"/>
<line x1="758.25" y1="56.10" x2="758.25" y2="85.80" stroke="#6d7772" stroke-width="1.3"/>
<line x1="751.95" y1="56.10" x2="764.55" y2="56.10" stroke="#6d7772" stroke-width="1.5"/>
<rect x="856.90" y="164.70" width="23.60" height="3.90" fill="#fd6a08" stroke="#e05a00" stroke-width="1"/>
<line x1="868.70" y1="162.60" x2="868.70" y2="164.20" stroke="#b87040" stroke-width="1.3"/>
<line x1="862.70" y1="162.60" x2="874.70" y2="162.60" stroke="#b87040" stroke-width="1.5"/>
<rect x="894.00" y="92.50" width="23.40" height="76.10" fill="#fe0000" stroke="#d00000" stroke-width="1"/>
<line x1="905.70" y1="68.10" x2="905.70" y2="92.00" stroke="#8a4040" stroke-width="1.3"/>
<line x1="899.70" y1="68.10" x2="911.70" y2="68.10" stroke="#8a4040" stroke-width="1.5"/>
<path d="M789.00 154.50L789.00 160.30M786.49 155.95L791.51 158.85M791.51 155.95L786.49 158.85" stroke="#333" stroke-width="1.1" fill="none"/>
<path d="M795.15 154.50L795.15 160.30M792.64 155.95L797.66 158.85M797.66 155.95L792.64 158.85" stroke="#333" stroke-width="1.1" fill="none"/>
<path d="M801.30 154.50L801.30 160.30M798.79 155.95L803.81 158.85M803.81 155.95L798.79 158.85" stroke="#333" stroke-width="1.1" fill="none"/>
<text x="834.6" y="164.7" font-size="15" font-weight="normal" text-anchor="middle" fill="#111" style="font-family:Liberation Serif,serif" textLength="11.2" lengthAdjust="spacingAndGlyphs">ns</text>
<text x="869" y="157.2" font-size="13.5" font-weight="bold" text-anchor="middle" fill="#111" style="font-family:Liberation Serif,serif">#</text>
<text x="907" y="63.6" font-size="13.5" font-weight="bold" text-anchor="middle" fill="#111" style="font-family:Liberation Serif,serif" textLength="20.5" lengthAdjust="spacingAndGlyphs">###</text>
<text x="761.4" y="185.0" font-size="10" font-weight="bold" text-anchor="end" transform="rotate(-45 761.4 185.0)">Con</text>
<text x="798.2" y="185.0" font-size="10" font-weight="bold" text-anchor="end" transform="rotate(-45 798.2 185.0)">MPP+</text>
<text x="835" y="185.0" font-size="10" font-weight="bold" text-anchor="end" transform="rotate(-45 835 185.0)">Cur</text>
<text x="871.8" y="185.0" font-size="10" font-weight="bold" text-anchor="end" transform="rotate(-45 871.8 185.0)">Cur-NPs</text>
<text x="908.6" y="185.0" font-size="10" font-weight="bold" text-anchor="end" transform="rotate(-45 908.6 185.0)">MM-Cur-NPs</text>
<text x="703.5" y="106" font-size="14" font-weight="bold" text-anchor="middle" transform="rotate(-90 703.5 106)">Fluorescence intensity ratio</text>
<text x="718" y="244.8" font-size="18" font-weight="normal" text-anchor="start" fill="#000" >C</text>
<text x="830" y="251.5" font-size="12" font-weight="bold" text-anchor="middle" fill="#000" >SH-SY5Y</text>
<line x1="732.50" y1="269.00" x2="732.50" y2="395.80" stroke="#000" stroke-width="1.8"/>
<line x1="731.50" y1="395.00" x2="930.00" y2="395.00" stroke="#000" stroke-width="1.8"/>
<line x1="727.00" y1="394.90" x2="732.50" y2="394.90" stroke="#000" stroke-width="1.6"/>
<text x="725" y="398.09999999999997" font-size="9.8" font-weight="bold" text-anchor="end" fill="#000" >0</text>
<line x1="727.00" y1="353.13" x2="732.50" y2="353.13" stroke="#000" stroke-width="1.6"/>
<text x="725" y="356.3333333333333" font-size="9.8" font-weight="bold" text-anchor="end" fill="#000" >50</text>
<line x1="727.00" y1="311.37" x2="732.50" y2="311.37" stroke="#000" stroke-width="1.6"/>
<text x="725" y="314.56666666666666" font-size="9.8" font-weight="bold" text-anchor="end" fill="#000" >100</text>
<line x1="727.00" y1="269.60" x2="732.50" y2="269.60" stroke="#000" stroke-width="1.6"/>
<text x="725" y="272.8" font-size="9.8" font-weight="bold" text-anchor="end" fill="#000" >150</text>
<line x1="757.70" y1="395.00" x2="757.70" y2="400.50" stroke="#000" stroke-width="1.6"/>
<line x1="794.40" y1="395.00" x2="794.40" y2="400.50" stroke="#000" stroke-width="1.6"/>
<line x1="831.20" y1="395.00" x2="831.20" y2="400.50" stroke="#000" stroke-width="1.6"/>
<line x1="868.00" y1="395.00" x2="868.00" y2="400.50" stroke="#000" stroke-width="1.6"/>
<line x1="904.80" y1="395.00" x2="904.80" y2="400.50" stroke="#000" stroke-width="1.6"/>
<rect x="746.00" y="311.90" width="23.60" height="82.20" fill="#17c27c" stroke="#0fa565" stroke-width="1"/>
<line x1="757.80" y1="305.60" x2="757.80" y2="311.40" stroke="#6d7772" stroke-width="1.3"/>
<line x1="751.50" y1="305.60" x2="764.10" y2="305.60" stroke="#6d7772" stroke-width="1.5"/>
<rect x="782.20" y="353.10" width="24.60" height="41.00" fill="#000"/>
<line x1="794.50" y1="347.40" x2="794.50" y2="353.10" stroke="#333" stroke-width="1.3"/>
<line x1="788.30" y1="347.40" x2="800.70" y2="347.40" stroke="#333" stroke-width="1.5"/>
<rect x="819.50" y="334.90" width="23.60" height="59.20" fill="#fba03e" stroke="#e88a2a" stroke-width="1"/>
<line x1="831.30" y1="328.00" x2="831.30" y2="334.40" stroke="#d8b890" stroke-width="1.3"/>
<line x1="825.10" y1="328.00" x2="837.50" y2="328.00" stroke="#d8b890" stroke-width="1.5"/>
<rect x="856.50" y="331.50" width="23.60" height="62.60" fill="#fd6a08" stroke="#e05a00" stroke-width="1"/>
<line x1="868.30" y1="326.40" x2="868.30" y2="331.00" stroke="#a06040" stroke-width="1.3"/>
<line x1="862.10" y1="326.40" x2="874.50" y2="326.40" stroke="#a06040" stroke-width="1.5"/>
<rect x="893.50" y="312.70" width="23.60" height="81.40" fill="#fe0000" stroke="#d00000" stroke-width="1"/>
<line x1="905.30" y1="307.00" x2="905.30" y2="312.20" stroke="#8a3a3a" stroke-width="1.3"/>
<line x1="899.10" y1="307.00" x2="911.50" y2="307.00" stroke="#8a3a3a" stroke-width="1.5"/>
<path d="M787.40 335.90L787.40 341.70M784.89 337.35L789.91 340.25M789.91 337.35L784.89 340.25" stroke="#333" stroke-width="1.1" fill="none"/>
<path d="M793.95 335.90L793.95 341.70M791.44 337.35L796.46 340.25M796.46 337.35L791.44 340.25" stroke="#333" stroke-width="1.1" fill="none"/>
<path d="M800.50 335.90L800.50 341.70M797.99 337.35L803.01 340.25M803.01 337.35L797.99 340.25" stroke="#333" stroke-width="1.1" fill="none"/>
<text x="831" y="324.4" font-size="13.5" font-weight="bold" text-anchor="middle" fill="#111" style="font-family:Liberation Serif,serif" textLength="13.8" lengthAdjust="spacingAndGlyphs">##</text>
<text x="867.7" y="324.4" font-size="13.5" font-weight="bold" text-anchor="middle" fill="#111" style="font-family:Liberation Serif,serif" textLength="13.8" lengthAdjust="spacingAndGlyphs">##</text>
<text x="905" y="303.4" font-size="13.5" font-weight="bold" text-anchor="middle" fill="#111" style="font-family:Liberation Serif,serif" textLength="21" lengthAdjust="spacingAndGlyphs">###</text>
<text x="760.7" y="410.5" font-size="10" font-weight="bold" text-anchor="end" transform="rotate(-45 760.7 410.5)">Con</text>
<text x="797.4" y="410.5" font-size="10" font-weight="bold" text-anchor="end" transform="rotate(-45 797.4 410.5)">MPP+</text>
<text x="834.2" y="410.5" font-size="10" font-weight="bold" text-anchor="end" transform="rotate(-45 834.2 410.5)">Cur</text>
<text x="871" y="410.5" font-size="10" font-weight="bold" text-anchor="end" transform="rotate(-45 871 410.5)">Cur-NPs</text>
<text x="907.8" y="410.5" font-size="10" font-weight="bold" text-anchor="end" transform="rotate(-45 907.8 410.5)">MM-Cur-NPs</text>
<text x="703" y="331" font-size="14" font-weight="bold" text-anchor="middle" transform="rotate(-90 703 331)">Cell viability(%)</text>
<text x="684" y="461.7" font-size="18.5" font-weight="normal" text-anchor="start" fill="#000" >E</text>
<text x="843.4" y="477.4" font-size="12" font-weight="normal" text-anchor="middle" fill="#000" >TH</text>
<line x1="763.00" y1="495.50" x2="763.00" y2="612.00" stroke="#000" stroke-width="1.8"/>
<line x1="762.00" y1="611.20" x2="944.30" y2="611.20" stroke="#000" stroke-width="1.8"/>
<line x1="757.50" y1="611.20" x2="763.00" y2="611.20" stroke="#000" stroke-width="1.6"/>
<text x="755.5" y="614.5" font-size="9.8" font-weight="bold" text-anchor="end" fill="#000" >0</text>
<line x1="757.50" y1="588.18" x2="763.00" y2="588.18" stroke="#000" stroke-width="1.6"/>
<text x="755.5" y="591.48" font-size="9.8" font-weight="bold" text-anchor="end" fill="#000" >20000</text>
<line x1="757.50" y1="565.16" x2="763.00" y2="565.16" stroke="#000" stroke-width="1.6"/>
<text x="755.5" y="568.46" font-size="9.8" font-weight="bold" text-anchor="end" fill="#000" >40000</text>
<line x1="757.50" y1="542.14" x2="763.00" y2="542.14" stroke="#000" stroke-width="1.6"/>
<text x="755.5" y="545.4399999999999" font-size="9.8" font-weight="bold" text-anchor="end" fill="#000" >60000</text>
<line x1="757.50" y1="519.12" x2="763.00" y2="519.12" stroke="#000" stroke-width="1.6"/>
<text x="755.5" y="522.42" font-size="9.8" font-weight="bold" text-anchor="end" fill="#000" >80000</text>
<line x1="757.50" y1="496.10" x2="763.00" y2="496.10" stroke="#000" stroke-width="1.6"/>
<text x="755.5" y="499.40000000000003" font-size="9.8" font-weight="bold" text-anchor="end" fill="#000" >100000</text>
<text x="798.3" y="627" font-size="9.8" font-weight="bold" text-anchor="middle" fill="#000" >Con</text>
<text x="853.2" y="627" font-size="9.8" font-weight="bold" text-anchor="middle" fill="#000" >PD</text>
<text x="907.6" y="627" font-size="9.8" font-weight="bold" text-anchor="middle" fill="#000" >MM-Cur-NPs</text>
<rect x="780.80" y="520.30" width="35.00" height="90.00" fill="#17c27c" stroke="#0fa565" stroke-width="1"/>
<line x1="798.30" y1="513.20" x2="798.30" y2="519.80" stroke="#6a8a80" stroke-width="1.3"/>
<line x1="789.50" y1="513.20" x2="807.10" y2="513.20" stroke="#6a8a80" stroke-width="1.5"/>
<rect x="835.30" y="608.40" width="35.60" height="1.90" fill="#000"/>
<line x1="853.10" y1="605.50" x2="853.10" y2="608.40" stroke="#333" stroke-width="1.3"/>
<line x1="844.10" y1="605.50" x2="862.10" y2="605.50" stroke="#333" stroke-width="1.5"/>
<rect x="890.00" y="555.10" width="34.90" height="55.20" fill="#fba03e" stroke="#e88a2a" stroke-width="1"/>
<line x1="907.45" y1="542.20" x2="907.45" y2="554.60" stroke="#d0b898" stroke-width="1.3"/>
<line x1="898.45" y1="542.20" x2="916.45" y2="542.20" stroke="#d0b898" stroke-width="1.5"/>
<polyline points="798.4,507.5 798.4,498.8 853.4,498.8 853.4,603" fill="none" stroke="#000" stroke-width="1.8"/>
<polyline points="853.4,519.8 907.8,519.8 907.8,538" fill="none" stroke="#000" stroke-width="1.8"/>
<path d="M818.10 487.80L818.10 493.40M815.68 489.20L820.52 492.00M820.52 489.20L815.68 492.00" stroke="#000" stroke-width="1.7" fill="none"/>
<path d="M825.10 487.80L825.10 493.40M822.68 489.20L827.52 492.00M827.52 489.20L822.68 492.00" stroke="#000" stroke-width="1.7" fill="none"/>
<path d="M832.10 487.80L832.10 493.40M829.68 489.20L834.52 492.00M834.52 489.20L829.68 492.00" stroke="#000" stroke-width="1.7" fill="none"/>
<path d="M872.80 509.40L872.80 515.00M870.38 510.80L875.22 513.60M875.22 510.80L870.38 513.60" stroke="#000" stroke-width="1.7" fill="none"/>
<path d="M879.75 509.40L879.75 515.00M877.33 510.80L882.17 513.60M882.17 510.80L877.33 513.60" stroke="#000" stroke-width="1.7" fill="none"/>
<path d="M886.70 509.40L886.70 515.00M884.28 510.80L889.12 513.60M889.12 510.80L884.28 513.60" stroke="#000" stroke-width="1.7" fill="none"/>
<text x="719" y="553" font-size="13" font-weight="bold" text-anchor="middle" transform="rotate(-90 719 553)">Fluorescence intensity</text>
<text x="684.4" y="656.2" font-size="18" font-weight="normal" text-anchor="start" fill="#000" >F</text>
<text x="843.4" y="651.6" font-size="12" font-weight="normal" text-anchor="middle" fill="#000" >VDAC1</text>
<line x1="763.00" y1="671.30" x2="763.00" y2="787.80" stroke="#000" stroke-width="1.8"/>
<line x1="762.00" y1="787.00" x2="944.30" y2="787.00" stroke="#000" stroke-width="1.8"/>
<line x1="757.50" y1="787.00" x2="763.00" y2="787.00" stroke="#000" stroke-width="1.6"/>
<text x="755.5" y="790.3" font-size="9.8" font-weight="bold" text-anchor="end" fill="#000" >0</text>
<line x1="757.50" y1="758.20" x2="763.00" y2="758.20" stroke="#000" stroke-width="1.6"/>
<text x="755.5" y="761.5" font-size="9.8" font-weight="bold" text-anchor="end" fill="#000" >10000</text>
<line x1="757.50" y1="729.40" x2="763.00" y2="729.40" stroke="#000" stroke-width="1.6"/>
<text x="755.5" y="732.6999999999999" font-size="9.8" font-weight="bold" text-anchor="end" fill="#000" >20000</text>
<line x1="757.50" y1="700.60" x2="763.00" y2="700.60" stroke="#000" stroke-width="1.6"/>
<text x="755.5" y="703.8999999999999" font-size="9.8" font-weight="bold" text-anchor="end" fill="#000" >30000</text>
<line x1="757.50" y1="671.80" x2="763.00" y2="671.80" stroke="#000" stroke-width="1.6"/>
<text x="755.5" y="675.0999999999999" font-size="9.8" font-weight="bold" text-anchor="end" fill="#000" >40000</text>
<text x="798.3" y="802.2" font-size="9.8" font-weight="bold" text-anchor="middle" fill="#000" >Con</text>
<text x="853.2" y="802.2" font-size="9.8" font-weight="bold" text-anchor="middle" fill="#000" >PD</text>
<text x="907.6" y="802.2" font-size="9.8" font-weight="bold" text-anchor="middle" fill="#000" >MM-Cur-NPs</text>
<rect x="780.80" y="708.50" width="35.00" height="77.60" fill="#17c27c" stroke="#0fa565" stroke-width="1"/>
<line x1="798.30" y1="693.00" x2="798.30" y2="708.00" stroke="#6a8a80" stroke-width="1.3"/>
<line x1="789.50" y1="693.00" x2="807.10" y2="693.00" stroke="#6a8a80" stroke-width="1.5"/>
<rect x="835.30" y="774.10" width="35.60" height="12.00" fill="#000"/>
<line x1="853.10" y1="770.60" x2="853.10" y2="774.10" stroke="#333" stroke-width="1.3"/>
<line x1="844.10" y1="770.60" x2="862.10" y2="770.60" stroke="#333" stroke-width="1.5"/>
<rect x="890.00" y="724.30" width="34.90" height="61.80" fill="#fba03e" stroke="#e88a2a" stroke-width="1"/>
<line x1="907.45" y1="701.80" x2="907.45" y2="723.80" stroke="#d0b898" stroke-width="1.3"/>
<line x1="898.45" y1="701.80" x2="916.45" y2="701.80" stroke="#d0b898" stroke-width="1.5"/>
<polyline points="797.5,687.6 797.5,674.6 852.6,674.6 852.6,764" fill="none" stroke="#000" stroke-width="1.8"/>
<polyline points="852.6,686.8 907.5,686.8 907.5,697.6" fill="none" stroke="#000" stroke-width="1.8"/>
<path d="M817.60 664.70L817.60 670.30M815.18 666.10L820.02 668.90M820.02 666.10L815.18 668.90" stroke="#000" stroke-width="1.7" fill="none"/>
<path d="M824.40 664.70L824.40 670.30M821.98 666.10L826.82 668.90M826.82 666.10L821.98 668.90" stroke="#000" stroke-width="1.7" fill="none"/>
<path d="M831.20 664.70L831.20 670.30M828.78 666.10L833.62 668.90M833.62 666.10L828.78 668.90" stroke="#000" stroke-width="1.7" fill="none"/>
<path d="M872.30 676.20L872.30 681.80M869.88 677.60L874.72 680.40M874.72 677.60L869.88 680.40" stroke="#000" stroke-width="1.7" fill="none"/>
<path d="M879.15 676.20L879.15 681.80M876.73 677.60L881.57 680.40M881.57 677.60L876.73 680.40" stroke="#000" stroke-width="1.7" fill="none"/>
<path d="M886.00 676.20L886.00 681.80M883.58 677.60L888.42 680.40M888.42 677.60L883.58 680.40" stroke="#000" stroke-width="1.7" fill="none"/>
<text x="723" y="728" font-size="13" font-weight="bold" text-anchor="middle" transform="rotate(-90 723 728)">Fluorescence intensity</text>
</svg>
</body></html>
